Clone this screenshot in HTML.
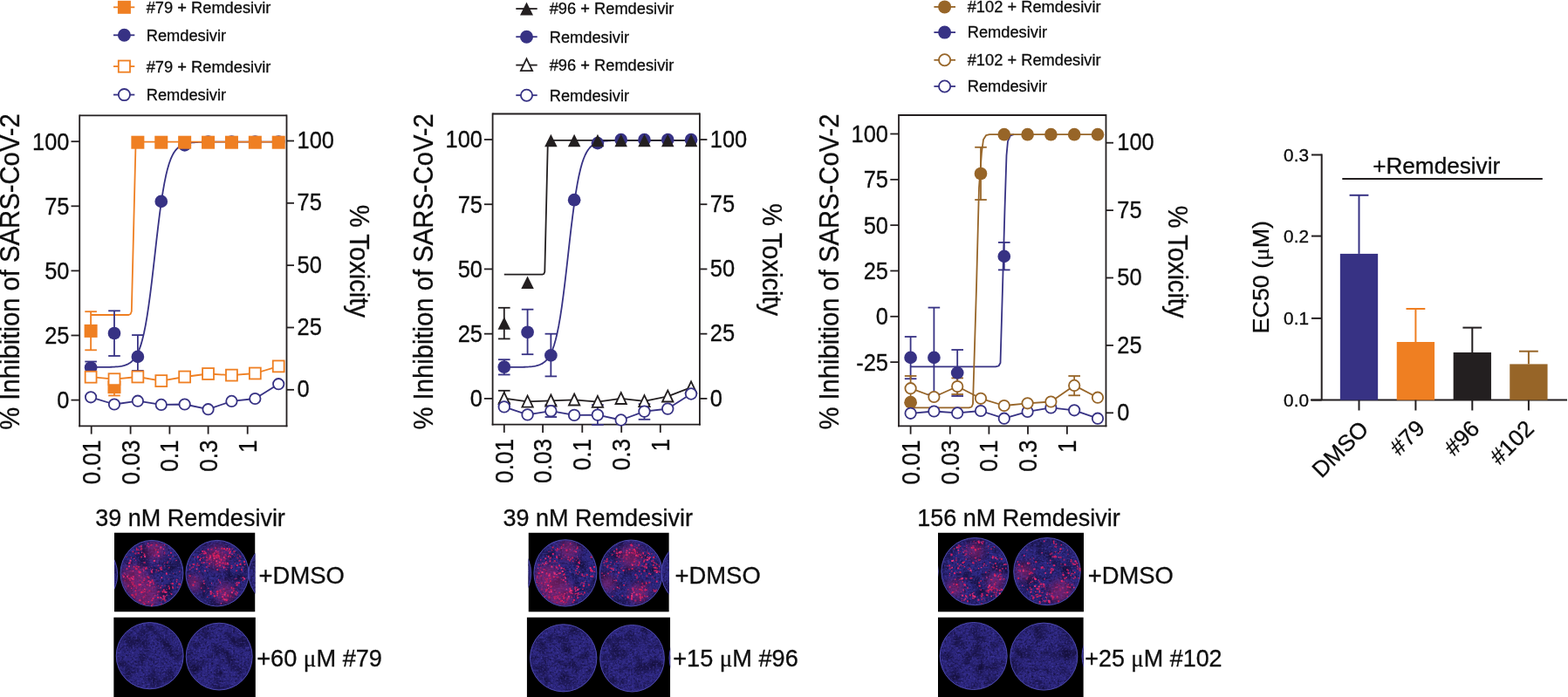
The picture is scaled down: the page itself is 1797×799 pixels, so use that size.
<!DOCTYPE html>
<html><head><meta charset="utf-8"><title>Figure</title>
<style>html,body{margin:0;padding:0;background:#fff;}svg{display:block;}</style>
</head><body>
<svg width="1797" height="799" viewBox="0 0 1797 799" font-family="'Liberation Sans', Arial, Helvetica, sans-serif">
<rect width="1797" height="799" fill="#fff"/>
<line x1="91.20" y1="132.30" x2="328.50" y2="132.30" stroke="#231F20" stroke-width="1.8"/>
<line x1="91.20" y1="131.40" x2="91.20" y2="489.20" stroke="#231F20" stroke-width="1.8"/>
<line x1="328.50" y1="131.40" x2="328.50" y2="489.20" stroke="#231F20" stroke-width="1.8"/>
<line x1="90.30" y1="488.30" x2="329.40" y2="488.30" stroke="#231F20" stroke-width="1.8"/>
<line x1="81.50" y1="458.60" x2="91.20" y2="458.60" stroke="#231F20" stroke-width="1.8"/>
<text x="79.50" y="468.00" font-size="27.2" text-anchor="end" fill="#0d0d0d" stroke="#0d0d0d" stroke-width="0.3" textLength="14.14" lengthAdjust="spacingAndGlyphs">0</text>
<line x1="81.50" y1="384.50" x2="91.20" y2="384.50" stroke="#231F20" stroke-width="1.8"/>
<text x="79.50" y="393.90" font-size="27.2" text-anchor="end" fill="#0d0d0d" stroke="#0d0d0d" stroke-width="0.3" textLength="28.28" lengthAdjust="spacingAndGlyphs">25</text>
<line x1="81.50" y1="310.40" x2="91.20" y2="310.40" stroke="#231F20" stroke-width="1.8"/>
<text x="79.50" y="319.80" font-size="27.2" text-anchor="end" fill="#0d0d0d" stroke="#0d0d0d" stroke-width="0.3" textLength="28.28" lengthAdjust="spacingAndGlyphs">50</text>
<line x1="81.50" y1="236.30" x2="91.20" y2="236.30" stroke="#231F20" stroke-width="1.8"/>
<text x="79.50" y="245.70" font-size="27.2" text-anchor="end" fill="#0d0d0d" stroke="#0d0d0d" stroke-width="0.3" textLength="28.28" lengthAdjust="spacingAndGlyphs">75</text>
<line x1="81.50" y1="162.20" x2="91.20" y2="162.20" stroke="#231F20" stroke-width="1.8"/>
<text x="79.50" y="171.60" font-size="27.2" text-anchor="end" fill="#0d0d0d" stroke="#0d0d0d" stroke-width="0.3" textLength="42.42" lengthAdjust="spacingAndGlyphs">100</text>
<line x1="328.50" y1="446.80" x2="337.00" y2="446.80" stroke="#231F20" stroke-width="1.8"/>
<text x="340.60" y="455.40" font-size="27.2" text-anchor="start" fill="#0d0d0d" stroke="#0d0d0d" stroke-width="0.3" textLength="14.14" lengthAdjust="spacingAndGlyphs">0</text>
<line x1="328.50" y1="375.48" x2="337.00" y2="375.48" stroke="#231F20" stroke-width="1.8"/>
<text x="340.60" y="384.08" font-size="27.2" text-anchor="start" fill="#0d0d0d" stroke="#0d0d0d" stroke-width="0.3" textLength="28.28" lengthAdjust="spacingAndGlyphs">25</text>
<line x1="328.50" y1="304.15" x2="337.00" y2="304.15" stroke="#231F20" stroke-width="1.8"/>
<text x="340.60" y="312.75" font-size="27.2" text-anchor="start" fill="#0d0d0d" stroke="#0d0d0d" stroke-width="0.3" textLength="28.28" lengthAdjust="spacingAndGlyphs">50</text>
<line x1="328.50" y1="232.82" x2="337.00" y2="232.82" stroke="#231F20" stroke-width="1.8"/>
<text x="340.60" y="241.42" font-size="27.2" text-anchor="start" fill="#0d0d0d" stroke="#0d0d0d" stroke-width="0.3" textLength="28.28" lengthAdjust="spacingAndGlyphs">75</text>
<line x1="328.50" y1="161.50" x2="337.00" y2="161.50" stroke="#231F20" stroke-width="1.8"/>
<text x="340.60" y="170.10" font-size="27.2" text-anchor="start" fill="#0d0d0d" stroke="#0d0d0d" stroke-width="0.3" textLength="42.42" lengthAdjust="spacingAndGlyphs">100</text>
<line x1="104.70" y1="488.30" x2="104.70" y2="497.60" stroke="#231F20" stroke-width="1.8"/>
<text x="114.70" y="504.30" font-size="29" text-anchor="end" fill="#0d0d0d" stroke="#0d0d0d" stroke-width="0.3" transform="rotate(-90 114.70 504.30)" textLength="51.07" lengthAdjust="spacingAndGlyphs">0.01</text>
<line x1="149.60" y1="488.30" x2="149.60" y2="497.60" stroke="#231F20" stroke-width="1.8"/>
<text x="159.60" y="504.30" font-size="29" text-anchor="end" fill="#0d0d0d" stroke="#0d0d0d" stroke-width="0.3" transform="rotate(-90 159.60 504.30)" textLength="51.07" lengthAdjust="spacingAndGlyphs">0.03</text>
<line x1="194.40" y1="488.30" x2="194.40" y2="497.60" stroke="#231F20" stroke-width="1.8"/>
<text x="204.40" y="504.30" font-size="29" text-anchor="end" fill="#0d0d0d" stroke="#0d0d0d" stroke-width="0.3" transform="rotate(-90 204.40 504.30)" textLength="36.48" lengthAdjust="spacingAndGlyphs">0.1</text>
<line x1="238.60" y1="488.30" x2="238.60" y2="497.60" stroke="#231F20" stroke-width="1.8"/>
<text x="248.60" y="504.30" font-size="29" text-anchor="end" fill="#0d0d0d" stroke="#0d0d0d" stroke-width="0.3" transform="rotate(-90 248.60 504.30)" textLength="36.48" lengthAdjust="spacingAndGlyphs">0.3</text>
<line x1="283.70" y1="488.30" x2="283.70" y2="497.60" stroke="#231F20" stroke-width="1.8"/>
<text x="293.70" y="504.30" font-size="29" text-anchor="end" fill="#0d0d0d" stroke="#0d0d0d" stroke-width="0.3" transform="rotate(-90 293.70 504.30)" textLength="14.59" lengthAdjust="spacingAndGlyphs">1</text>
<text x="22.20" y="311.50" font-size="30.6" text-anchor="middle" fill="#0d0d0d" stroke="#0d0d0d" stroke-width="0.3" transform="rotate(-90 22.20 311.50)" textLength="362.60" lengthAdjust="spacingAndGlyphs">% Inhibition of SARS-CoV-2</text>
<text x="400.60" y="299.40" font-size="30.6" text-anchor="middle" fill="#0d0d0d" stroke="#0d0d0d" stroke-width="0.3" transform="rotate(90 400.60 299.40)" textLength="129.40" lengthAdjust="spacingAndGlyphs">% Toxicity</text>
<line x1="130.00" y1="8.30" x2="154.30" y2="8.30" stroke="#EF7F22" stroke-width="1.8"/>
<rect x="134.90" y="0.80" width="15.00" height="15.00" fill="#EF7F22"/>
<text x="167.70" y="14.80" font-size="18.3" text-anchor="start" fill="#0d0d0d" stroke="#0d0d0d" stroke-width="0.3">#79 + Remdesivir</text>
<line x1="130.00" y1="40.30" x2="154.30" y2="40.30" stroke="#373284" stroke-width="1.8"/>
<circle cx="142.40" cy="40.30" r="7.50" fill="#373284"/>
<text x="167.70" y="46.70" font-size="18.3" text-anchor="start" fill="#0d0d0d" stroke="#0d0d0d" stroke-width="0.3">Remdesivir</text>
<line x1="130.00" y1="76.10" x2="154.30" y2="76.10" stroke="#EF7F22" stroke-width="1.8"/>
<rect x="135.80" y="69.50" width="13.20" height="13.20" fill="#fff" stroke="#EF7F22" stroke-width="1.8"/>
<text x="167.70" y="82.80" font-size="18.3" text-anchor="start" fill="#0d0d0d" stroke="#0d0d0d" stroke-width="0.3">#79 + Remdesivir</text>
<line x1="130.00" y1="108.60" x2="154.30" y2="108.60" stroke="#373284" stroke-width="1.8"/>
<circle cx="142.40" cy="108.60" r="6.60" fill="#fff" stroke="#373284" stroke-width="1.8"/>
<text x="167.70" y="115.10" font-size="18.3" text-anchor="start" fill="#0d0d0d" stroke="#0d0d0d" stroke-width="0.3">Remdesivir</text>
<polyline points="104.10,420.99 105.89,420.99 107.68,420.98 109.48,420.98 111.27,420.97 113.06,420.96 114.85,420.95 116.65,420.94 118.44,420.92 120.23,420.90 122.02,420.87 123.82,420.84 125.61,420.79 127.40,420.74 129.19,420.66 130.99,420.57 132.78,420.45 134.57,420.30 136.37,420.10 138.16,419.85 139.95,419.53 141.74,419.13 143.53,418.61 145.33,417.94 147.12,417.10 148.91,416.03 150.70,414.68 152.50,412.97 154.29,410.81 156.08,408.10 157.88,404.73 159.67,400.54 161.46,395.38 163.25,389.10 165.04,381.55 166.84,372.58 168.63,362.13 170.42,350.18 172.21,336.83 174.01,322.29 175.80,306.88 177.59,291.03 179.38,275.20 181.18,259.86 182.97,245.43 184.76,232.22 186.56,220.42 188.35,210.13 190.14,201.31 191.93,193.89 193.72,187.74 195.52,182.69 197.31,178.59 199.10,175.29 200.89,172.64 202.69,170.54 204.48,168.86 206.27,167.54 208.06,166.50 209.86,165.68 211.65,165.03 213.44,164.53 215.23,164.13 217.03,163.82 218.82,163.58 220.61,163.38 222.41,163.24 224.20,163.12 225.99,163.03 227.78,162.96 229.57,162.90 231.37,162.86 233.16,162.82 234.95,162.80 236.75,162.77 238.54,162.76 240.33,162.75 242.12,162.74 243.91,162.73 245.71,162.72 247.50,162.72 249.29,162.71 251.09,162.71 252.88,162.71 254.67,162.71 256.46,162.70 258.25,162.70 260.05,162.70 261.84,162.70 263.63,162.70 265.42,162.70 267.22,162.70 269.01,162.70 270.80,162.70 272.59,162.70 274.39,162.70 276.18,162.70 277.97,162.70 279.76,162.70 281.56,162.70 283.35,162.70 285.14,162.70 286.94,162.70 288.73,162.70 290.52,162.70 292.31,162.70 294.11,162.70 295.90,162.70 297.69,162.70 299.48,162.70 301.27,162.70 303.07,162.70 304.86,162.70 306.65,162.70 308.44,162.70 310.24,162.70 312.03,162.70 313.82,162.70 315.62,162.70 317.41,162.70 319.20,162.70" fill="none" stroke="#373284" stroke-width="1.8" stroke-linejoin="round"/>
<polyline points="104.10,361.00 147.50,361.00 149.60,360.00 150.80,357.00 155.50,166.00 156.80,163.20 158.50,162.70 319.20,162.70" fill="none" stroke="#EF7F22" stroke-width="1.8" stroke-linejoin="round"/>
<polyline points="104.10,455.30 130.99,463.50 157.88,459.70 184.77,463.90 211.66,463.50 238.55,469.20 265.44,459.90 292.33,457.00 319.22,440.20" fill="none" stroke="#373284" stroke-width="1.8" stroke-linejoin="round"/>
<polyline points="104.10,432.20 130.99,434.70 157.88,432.00 184.77,436.60 211.66,432.00 238.55,428.50 265.44,430.10 292.33,428.00 319.22,419.90" fill="none" stroke="#EF7F22" stroke-width="1.8" stroke-linejoin="round"/>
<line x1="104.10" y1="357.20" x2="104.10" y2="401.30" stroke="#EF7F22" stroke-width="1.8"/>
<line x1="97.30" y1="357.20" x2="110.90" y2="357.20" stroke="#EF7F22" stroke-width="1.8"/>
<line x1="97.30" y1="401.30" x2="110.90" y2="401.30" stroke="#EF7F22" stroke-width="1.8"/>
<line x1="130.99" y1="356.30" x2="130.99" y2="408.00" stroke="#373284" stroke-width="1.8"/>
<line x1="124.19" y1="356.30" x2="137.79" y2="356.30" stroke="#373284" stroke-width="1.8"/>
<line x1="124.19" y1="408.00" x2="137.79" y2="408.00" stroke="#373284" stroke-width="1.8"/>
<line x1="157.88" y1="384.10" x2="157.88" y2="425.00" stroke="#373284" stroke-width="1.8"/>
<line x1="151.08" y1="384.10" x2="164.68" y2="384.10" stroke="#373284" stroke-width="1.8"/>
<line x1="151.08" y1="425.00" x2="164.68" y2="425.00" stroke="#373284" stroke-width="1.8"/>
<line x1="104.10" y1="414.50" x2="104.10" y2="428.00" stroke="#373284" stroke-width="1.8"/>
<line x1="97.30" y1="414.50" x2="110.90" y2="414.50" stroke="#373284" stroke-width="1.8"/>
<line x1="97.30" y1="428.00" x2="110.90" y2="428.00" stroke="#373284" stroke-width="1.8"/>
<line x1="130.99" y1="443.00" x2="130.99" y2="453.50" stroke="#EF7F22" stroke-width="1.8"/>
<line x1="124.19" y1="443.00" x2="137.79" y2="443.00" stroke="#EF7F22" stroke-width="1.8"/>
<line x1="124.19" y1="453.50" x2="137.79" y2="453.50" stroke="#EF7F22" stroke-width="1.8"/>
<rect x="96.60" y="371.90" width="15.00" height="15.00" fill="#EF7F22"/>
<rect x="123.49" y="436.20" width="15.00" height="15.00" fill="#EF7F22"/>
<circle cx="104.10" cy="421.50" r="7.35" fill="#373284"/>
<circle cx="130.99" cy="382.00" r="7.35" fill="#373284"/>
<circle cx="157.88" cy="408.90" r="7.35" fill="#373284"/>
<circle cx="184.77" cy="230.90" r="7.35" fill="#373284"/>
<circle cx="211.66" cy="166.30" r="7.35" fill="#373284"/>
<circle cx="238.55" cy="162.50" r="7.35" fill="#373284"/>
<circle cx="265.44" cy="162.50" r="7.35" fill="#373284"/>
<circle cx="292.33" cy="162.50" r="7.35" fill="#373284"/>
<circle cx="319.22" cy="162.50" r="7.35" fill="#373284"/>
<rect x="150.38" y="155.70" width="15.00" height="15.00" fill="#EF7F22"/>
<rect x="177.27" y="155.70" width="15.00" height="15.00" fill="#EF7F22"/>
<rect x="204.16" y="155.70" width="15.00" height="15.00" fill="#EF7F22"/>
<rect x="231.05" y="155.70" width="15.00" height="15.00" fill="#EF7F22"/>
<rect x="257.94" y="155.70" width="15.00" height="15.00" fill="#EF7F22"/>
<rect x="284.83" y="155.70" width="15.00" height="15.00" fill="#EF7F22"/>
<rect x="311.72" y="155.70" width="15.00" height="15.00" fill="#EF7F22"/>
<rect x="97.65" y="425.75" width="12.90" height="12.90" fill="#fff" stroke="#EF7F22" stroke-width="1.8"/>
<rect x="124.54" y="428.25" width="12.90" height="12.90" fill="#fff" stroke="#EF7F22" stroke-width="1.8"/>
<rect x="151.43" y="425.55" width="12.90" height="12.90" fill="#fff" stroke="#EF7F22" stroke-width="1.8"/>
<rect x="178.32" y="430.15" width="12.90" height="12.90" fill="#fff" stroke="#EF7F22" stroke-width="1.8"/>
<rect x="205.21" y="425.55" width="12.90" height="12.90" fill="#fff" stroke="#EF7F22" stroke-width="1.8"/>
<rect x="232.10" y="422.05" width="12.90" height="12.90" fill="#fff" stroke="#EF7F22" stroke-width="1.8"/>
<rect x="258.99" y="423.65" width="12.90" height="12.90" fill="#fff" stroke="#EF7F22" stroke-width="1.8"/>
<rect x="285.88" y="421.55" width="12.90" height="12.90" fill="#fff" stroke="#EF7F22" stroke-width="1.8"/>
<rect x="312.77" y="413.45" width="12.90" height="12.90" fill="#fff" stroke="#EF7F22" stroke-width="1.8"/>
<circle cx="104.10" cy="455.30" r="6.20" fill="#fff" stroke="#373284" stroke-width="1.8"/>
<circle cx="130.99" cy="463.50" r="6.20" fill="#fff" stroke="#373284" stroke-width="1.8"/>
<circle cx="157.88" cy="459.70" r="6.20" fill="#fff" stroke="#373284" stroke-width="1.8"/>
<circle cx="184.77" cy="463.90" r="6.20" fill="#fff" stroke="#373284" stroke-width="1.8"/>
<circle cx="211.66" cy="463.50" r="6.20" fill="#fff" stroke="#373284" stroke-width="1.8"/>
<circle cx="238.55" cy="469.20" r="6.20" fill="#fff" stroke="#373284" stroke-width="1.8"/>
<circle cx="265.44" cy="459.90" r="6.20" fill="#fff" stroke="#373284" stroke-width="1.8"/>
<circle cx="292.33" cy="457.00" r="6.20" fill="#fff" stroke="#373284" stroke-width="1.8"/>
<circle cx="319.22" cy="440.20" r="6.20" fill="#fff" stroke="#373284" stroke-width="1.8"/>
<line x1="564.60" y1="130.50" x2="801.90" y2="130.50" stroke="#231F20" stroke-width="1.8"/>
<line x1="564.60" y1="129.60" x2="564.60" y2="487.50" stroke="#231F20" stroke-width="1.8"/>
<line x1="801.90" y1="129.60" x2="801.90" y2="487.50" stroke="#231F20" stroke-width="1.8"/>
<line x1="563.70" y1="486.60" x2="802.80" y2="486.60" stroke="#231F20" stroke-width="1.8"/>
<line x1="554.90" y1="456.90" x2="564.60" y2="456.90" stroke="#231F20" stroke-width="1.8"/>
<text x="553.00" y="466.30" font-size="27.2" text-anchor="end" fill="#0d0d0d" stroke="#0d0d0d" stroke-width="0.3" textLength="14.14" lengthAdjust="spacingAndGlyphs">0</text>
<line x1="554.90" y1="382.67" x2="564.60" y2="382.67" stroke="#231F20" stroke-width="1.8"/>
<text x="553.00" y="392.07" font-size="27.2" text-anchor="end" fill="#0d0d0d" stroke="#0d0d0d" stroke-width="0.3" textLength="28.28" lengthAdjust="spacingAndGlyphs">25</text>
<line x1="554.90" y1="308.45" x2="564.60" y2="308.45" stroke="#231F20" stroke-width="1.8"/>
<text x="553.00" y="317.85" font-size="27.2" text-anchor="end" fill="#0d0d0d" stroke="#0d0d0d" stroke-width="0.3" textLength="28.28" lengthAdjust="spacingAndGlyphs">50</text>
<line x1="554.90" y1="234.22" x2="564.60" y2="234.22" stroke="#231F20" stroke-width="1.8"/>
<text x="553.00" y="243.62" font-size="27.2" text-anchor="end" fill="#0d0d0d" stroke="#0d0d0d" stroke-width="0.3" textLength="28.28" lengthAdjust="spacingAndGlyphs">75</text>
<line x1="554.90" y1="160.00" x2="564.60" y2="160.00" stroke="#231F20" stroke-width="1.8"/>
<text x="553.00" y="169.40" font-size="27.2" text-anchor="end" fill="#0d0d0d" stroke="#0d0d0d" stroke-width="0.3" textLength="42.42" lengthAdjust="spacingAndGlyphs">100</text>
<line x1="801.90" y1="456.90" x2="810.40" y2="456.90" stroke="#231F20" stroke-width="1.8"/>
<text x="813.80" y="465.50" font-size="27.2" text-anchor="start" fill="#0d0d0d" stroke="#0d0d0d" stroke-width="0.3" textLength="14.14" lengthAdjust="spacingAndGlyphs">0</text>
<line x1="801.90" y1="382.67" x2="810.40" y2="382.67" stroke="#231F20" stroke-width="1.8"/>
<text x="813.80" y="391.27" font-size="27.2" text-anchor="start" fill="#0d0d0d" stroke="#0d0d0d" stroke-width="0.3" textLength="28.28" lengthAdjust="spacingAndGlyphs">25</text>
<line x1="801.90" y1="308.45" x2="810.40" y2="308.45" stroke="#231F20" stroke-width="1.8"/>
<text x="813.80" y="317.05" font-size="27.2" text-anchor="start" fill="#0d0d0d" stroke="#0d0d0d" stroke-width="0.3" textLength="28.28" lengthAdjust="spacingAndGlyphs">50</text>
<line x1="801.90" y1="234.22" x2="810.40" y2="234.22" stroke="#231F20" stroke-width="1.8"/>
<text x="813.80" y="242.82" font-size="27.2" text-anchor="start" fill="#0d0d0d" stroke="#0d0d0d" stroke-width="0.3" textLength="28.28" lengthAdjust="spacingAndGlyphs">75</text>
<line x1="801.90" y1="160.00" x2="810.40" y2="160.00" stroke="#231F20" stroke-width="1.8"/>
<text x="813.80" y="168.60" font-size="27.2" text-anchor="start" fill="#0d0d0d" stroke="#0d0d0d" stroke-width="0.3" textLength="42.42" lengthAdjust="spacingAndGlyphs">100</text>
<line x1="577.80" y1="486.60" x2="577.80" y2="495.90" stroke="#231F20" stroke-width="1.8"/>
<text x="587.80" y="502.80" font-size="29" text-anchor="end" fill="#0d0d0d" stroke="#0d0d0d" stroke-width="0.3" transform="rotate(-90 587.80 502.80)" textLength="51.07" lengthAdjust="spacingAndGlyphs">0.01</text>
<line x1="622.10" y1="486.60" x2="622.10" y2="495.90" stroke="#231F20" stroke-width="1.8"/>
<text x="632.10" y="502.80" font-size="29" text-anchor="end" fill="#0d0d0d" stroke="#0d0d0d" stroke-width="0.3" transform="rotate(-90 632.10 502.80)" textLength="51.07" lengthAdjust="spacingAndGlyphs">0.03</text>
<line x1="667.30" y1="486.60" x2="667.30" y2="495.90" stroke="#231F20" stroke-width="1.8"/>
<text x="677.30" y="502.80" font-size="29" text-anchor="end" fill="#0d0d0d" stroke="#0d0d0d" stroke-width="0.3" transform="rotate(-90 677.30 502.80)" textLength="36.48" lengthAdjust="spacingAndGlyphs">0.1</text>
<line x1="712.20" y1="486.60" x2="712.20" y2="495.90" stroke="#231F20" stroke-width="1.8"/>
<text x="722.20" y="502.80" font-size="29" text-anchor="end" fill="#0d0d0d" stroke="#0d0d0d" stroke-width="0.3" transform="rotate(-90 722.20 502.80)" textLength="36.48" lengthAdjust="spacingAndGlyphs">0.3</text>
<line x1="756.80" y1="486.60" x2="756.80" y2="495.90" stroke="#231F20" stroke-width="1.8"/>
<text x="766.80" y="502.80" font-size="29" text-anchor="end" fill="#0d0d0d" stroke="#0d0d0d" stroke-width="0.3" transform="rotate(-90 766.80 502.80)" textLength="14.59" lengthAdjust="spacingAndGlyphs">1</text>
<text x="495.70" y="311.40" font-size="30.6" text-anchor="middle" fill="#0d0d0d" stroke="#0d0d0d" stroke-width="0.3" transform="rotate(-90 495.70 311.40)" textLength="362.40" lengthAdjust="spacingAndGlyphs">% Inhibition of SARS-CoV-2</text>
<text x="873.60" y="297.70" font-size="30.6" text-anchor="middle" fill="#0d0d0d" stroke="#0d0d0d" stroke-width="0.3" transform="rotate(90 873.60 297.70)" textLength="128.80" lengthAdjust="spacingAndGlyphs">% Toxicity</text>
<line x1="591.30" y1="10.00" x2="615.70" y2="10.00" stroke="#231F20" stroke-width="1.8"/>
<polygon points="603.50,2.50 611.00,17.50 596.00,17.50" fill="#231F20"/>
<text x="629.70" y="16.40" font-size="18.3" text-anchor="start" fill="#0d0d0d" stroke="#0d0d0d" stroke-width="0.3">#96 + Remdesivir</text>
<line x1="591.30" y1="42.20" x2="615.70" y2="42.20" stroke="#373284" stroke-width="1.8"/>
<circle cx="603.50" cy="42.20" r="7.50" fill="#373284"/>
<text x="629.70" y="48.50" font-size="18.3" text-anchor="start" fill="#0d0d0d" stroke="#0d0d0d" stroke-width="0.3">Remdesivir</text>
<line x1="591.30" y1="74.60" x2="615.70" y2="74.60" stroke="#231F20" stroke-width="1.8"/>
<polygon points="603.50,67.40 610.10,81.20 596.90,81.20" fill="#fff" stroke="#231F20" stroke-width="1.8" stroke-linejoin="miter"/>
<text x="629.70" y="81.40" font-size="18.3" text-anchor="start" fill="#0d0d0d" stroke="#0d0d0d" stroke-width="0.3">#96 + Remdesivir</text>
<line x1="591.30" y1="109.20" x2="615.70" y2="109.20" stroke="#373284" stroke-width="1.8"/>
<circle cx="603.50" cy="109.20" r="6.60" fill="#fff" stroke="#373284" stroke-width="1.8"/>
<text x="629.70" y="115.80" font-size="18.3" text-anchor="start" fill="#0d0d0d" stroke="#0d0d0d" stroke-width="0.3">Remdesivir</text>
<polyline points="577.80,420.99 579.58,420.99 581.37,420.98 583.15,420.98 584.94,420.97 586.72,420.96 588.51,420.95 590.29,420.94 592.08,420.92 593.87,420.90 595.65,420.88 597.43,420.84 599.22,420.80 601.00,420.74 602.79,420.67 604.57,420.57 606.36,420.46 608.14,420.31 609.93,420.11 611.71,419.87 613.50,419.55 615.28,419.15 617.07,418.64 618.86,417.99 620.64,417.17 622.42,416.13 624.21,414.80 626.00,413.13 627.78,411.02 629.56,408.38 631.35,405.08 633.13,400.99 634.92,395.96 636.70,389.83 638.49,382.44 640.27,373.66 642.06,363.40 643.85,351.64 645.63,338.47 647.41,324.06 649.20,308.73 650.99,292.87 652.77,276.96 654.55,261.46 656.34,246.80 658.12,233.30 659.91,221.20 661.69,210.58 663.48,201.45 665.26,193.73 667.05,187.31 668.84,182.03 670.62,177.73 672.40,174.25 674.19,171.46 675.97,169.24 677.76,167.47 679.54,166.07 681.33,164.96 683.12,164.09 684.90,163.40 686.68,162.86 688.47,162.44 690.25,162.10 692.04,161.84 693.83,161.64 695.61,161.48 697.39,161.35 699.18,161.25 700.96,161.18 702.75,161.12 704.53,161.07 706.32,161.03 708.11,161.00 709.89,160.98 711.67,160.96 713.46,160.95 715.25,160.94 717.03,160.93 718.81,160.92 720.60,160.92 722.38,160.91 724.17,160.91 725.95,160.91 727.74,160.91 729.52,160.91 731.31,160.90 733.10,160.90 734.88,160.90 736.66,160.90 738.45,160.90 740.24,160.90 742.02,160.90 743.81,160.90 745.59,160.90 747.38,160.90 749.16,160.90 750.94,160.90 752.73,160.90 754.51,160.90 756.30,160.90 758.09,160.90 759.87,160.90 761.65,160.90 763.44,160.90 765.23,160.90 767.01,160.90 768.79,160.90 770.58,160.90 772.37,160.90 774.15,160.90 775.93,160.90 777.72,160.90 779.50,160.90 781.29,160.90 783.08,160.90 784.86,160.90 786.64,160.90 788.43,160.90 790.22,160.90 792.00,160.90" fill="none" stroke="#373284" stroke-width="1.8" stroke-linejoin="round"/>
<polyline points="577.80,314.70 621.50,314.70 623.30,314.00 624.30,311.50 627.80,164.00 629.00,161.30 631.00,160.90 792.00,160.90" fill="none" stroke="#231F20" stroke-width="1.8" stroke-linejoin="round"/>
<polyline points="577.80,466.40 604.58,475.40 631.36,471.10 658.14,475.90 684.92,475.60 711.70,481.50 738.48,471.60 765.26,468.60 792.04,451.50" fill="none" stroke="#373284" stroke-width="1.8" stroke-linejoin="round"/>
<polyline points="577.80,456.60 604.58,460.40 631.36,459.30 658.14,458.30 684.92,460.70 711.70,456.80 738.48,459.90 765.26,454.30 792.04,444.20" fill="none" stroke="#231F20" stroke-width="1.8" stroke-linejoin="round"/>
<line x1="577.80" y1="352.80" x2="577.80" y2="388.40" stroke="#231F20" stroke-width="1.8"/>
<line x1="571.00" y1="352.80" x2="584.60" y2="352.80" stroke="#231F20" stroke-width="1.8"/>
<line x1="571.00" y1="388.40" x2="584.60" y2="388.40" stroke="#231F20" stroke-width="1.8"/>
<line x1="604.58" y1="354.70" x2="604.58" y2="406.20" stroke="#373284" stroke-width="1.8"/>
<line x1="597.78" y1="354.70" x2="611.38" y2="354.70" stroke="#373284" stroke-width="1.8"/>
<line x1="597.78" y1="406.20" x2="611.38" y2="406.20" stroke="#373284" stroke-width="1.8"/>
<line x1="631.36" y1="382.70" x2="631.36" y2="431.40" stroke="#373284" stroke-width="1.8"/>
<line x1="624.56" y1="382.70" x2="638.16" y2="382.70" stroke="#373284" stroke-width="1.8"/>
<line x1="624.56" y1="431.40" x2="638.16" y2="431.40" stroke="#373284" stroke-width="1.8"/>
<line x1="577.80" y1="412.20" x2="577.80" y2="429.50" stroke="#373284" stroke-width="1.8"/>
<line x1="571.00" y1="412.20" x2="584.60" y2="412.20" stroke="#373284" stroke-width="1.8"/>
<line x1="571.00" y1="429.50" x2="584.60" y2="429.50" stroke="#373284" stroke-width="1.8"/>
<line x1="577.80" y1="447.80" x2="577.80" y2="462.00" stroke="#231F20" stroke-width="1.8"/>
<line x1="571.00" y1="447.80" x2="584.60" y2="447.80" stroke="#231F20" stroke-width="1.8"/>
<line x1="571.00" y1="462.00" x2="584.60" y2="462.00" stroke="#231F20" stroke-width="1.8"/>
<line x1="684.92" y1="464.10" x2="684.92" y2="486.90" stroke="#373284" stroke-width="1.8"/>
<line x1="678.12" y1="464.10" x2="691.72" y2="464.10" stroke="#373284" stroke-width="1.8"/>
<line x1="678.12" y1="486.90" x2="691.72" y2="486.90" stroke="#373284" stroke-width="1.8"/>
<line x1="738.48" y1="463.20" x2="738.48" y2="480.80" stroke="#373284" stroke-width="1.8"/>
<line x1="731.68" y1="463.20" x2="745.28" y2="463.20" stroke="#373284" stroke-width="1.8"/>
<line x1="731.68" y1="480.80" x2="745.28" y2="480.80" stroke="#373284" stroke-width="1.8"/>
<line x1="631.36" y1="464.00" x2="631.36" y2="478.00" stroke="#373284" stroke-width="1.8"/>
<line x1="624.56" y1="464.00" x2="638.16" y2="464.00" stroke="#373284" stroke-width="1.8"/>
<line x1="624.56" y1="478.00" x2="638.16" y2="478.00" stroke="#373284" stroke-width="1.8"/>
<circle cx="577.80" cy="420.70" r="7.35" fill="#373284"/>
<circle cx="604.58" cy="380.80" r="7.35" fill="#373284"/>
<circle cx="631.36" cy="407.40" r="7.35" fill="#373284"/>
<circle cx="658.14" cy="229.20" r="7.35" fill="#373284"/>
<circle cx="684.92" cy="164.10" r="7.35" fill="#373284"/>
<circle cx="711.70" cy="160.20" r="7.35" fill="#373284"/>
<circle cx="738.48" cy="160.20" r="7.35" fill="#373284"/>
<circle cx="765.26" cy="160.20" r="7.35" fill="#373284"/>
<circle cx="792.04" cy="160.20" r="7.35" fill="#373284"/>
<polygon points="577.80,363.25 585.05,377.75 570.55,377.75" fill="#231F20"/>
<polygon points="604.58,316.55 611.83,331.05 597.33,331.05" fill="#231F20"/>
<polygon points="631.36,153.75 638.61,168.25 624.11,168.25" fill="#231F20"/>
<polygon points="658.14,153.75 665.39,168.25 650.89,168.25" fill="#231F20"/>
<polygon points="684.92,153.75 692.17,168.25 677.67,168.25" fill="#231F20"/>
<polygon points="711.70,153.75 718.95,168.25 704.45,168.25" fill="#231F20"/>
<polygon points="738.48,153.75 745.73,168.25 731.23,168.25" fill="#231F20"/>
<polygon points="765.26,153.75 772.51,168.25 758.01,168.25" fill="#231F20"/>
<polygon points="792.04,153.75 799.29,168.25 784.79,168.25" fill="#231F20"/>
<polygon points="577.80,449.80 584.00,462.80 571.60,462.80" fill="#fff" stroke="#231F20" stroke-width="1.8" stroke-linejoin="miter"/>
<polygon points="604.58,453.60 610.78,466.60 598.38,466.60" fill="#fff" stroke="#231F20" stroke-width="1.8" stroke-linejoin="miter"/>
<polygon points="631.36,452.50 637.56,465.50 625.16,465.50" fill="#fff" stroke="#231F20" stroke-width="1.8" stroke-linejoin="miter"/>
<polygon points="658.14,451.50 664.34,464.50 651.94,464.50" fill="#fff" stroke="#231F20" stroke-width="1.8" stroke-linejoin="miter"/>
<polygon points="684.92,453.90 691.12,466.90 678.72,466.90" fill="#fff" stroke="#231F20" stroke-width="1.8" stroke-linejoin="miter"/>
<polygon points="711.70,450.00 717.90,463.00 705.50,463.00" fill="#fff" stroke="#231F20" stroke-width="1.8" stroke-linejoin="miter"/>
<polygon points="738.48,453.10 744.68,466.10 732.28,466.10" fill="#fff" stroke="#231F20" stroke-width="1.8" stroke-linejoin="miter"/>
<polygon points="765.26,447.50 771.46,460.50 759.06,460.50" fill="#fff" stroke="#231F20" stroke-width="1.8" stroke-linejoin="miter"/>
<polygon points="792.04,437.40 798.24,450.40 785.84,450.40" fill="#fff" stroke="#231F20" stroke-width="1.8" stroke-linejoin="miter"/>
<circle cx="577.80" cy="466.40" r="6.30" fill="#fff" stroke="#373284" stroke-width="1.8"/>
<circle cx="604.58" cy="475.40" r="6.30" fill="#fff" stroke="#373284" stroke-width="1.8"/>
<circle cx="631.36" cy="471.10" r="6.30" fill="#fff" stroke="#373284" stroke-width="1.8"/>
<circle cx="658.14" cy="475.90" r="6.30" fill="#fff" stroke="#373284" stroke-width="1.8"/>
<circle cx="684.92" cy="475.60" r="6.30" fill="#fff" stroke="#373284" stroke-width="1.8"/>
<circle cx="711.70" cy="481.50" r="6.30" fill="#fff" stroke="#373284" stroke-width="1.8"/>
<circle cx="738.48" cy="471.60" r="6.30" fill="#fff" stroke="#373284" stroke-width="1.8"/>
<circle cx="765.26" cy="468.60" r="6.30" fill="#fff" stroke="#373284" stroke-width="1.8"/>
<circle cx="792.04" cy="451.50" r="6.30" fill="#fff" stroke="#373284" stroke-width="1.8"/>
<line x1="1030.00" y1="132.00" x2="1267.50" y2="132.00" stroke="#231F20" stroke-width="1.8"/>
<line x1="1030.00" y1="131.10" x2="1030.00" y2="489.30" stroke="#231F20" stroke-width="1.8"/>
<line x1="1267.50" y1="131.10" x2="1267.50" y2="489.30" stroke="#231F20" stroke-width="1.8"/>
<line x1="1029.10" y1="488.40" x2="1268.40" y2="488.40" stroke="#231F20" stroke-width="1.8"/>
<line x1="1020.30" y1="415.12" x2="1030.00" y2="415.12" stroke="#231F20" stroke-width="1.8"/>
<text x="1018.00" y="424.52" font-size="27.2" text-anchor="end" fill="#0d0d0d" stroke="#0d0d0d" stroke-width="0.3" textLength="36.75" lengthAdjust="spacingAndGlyphs">-25</text>
<line x1="1020.30" y1="362.80" x2="1030.00" y2="362.80" stroke="#231F20" stroke-width="1.8"/>
<text x="1018.00" y="372.20" font-size="27.2" text-anchor="end" fill="#0d0d0d" stroke="#0d0d0d" stroke-width="0.3" textLength="14.14" lengthAdjust="spacingAndGlyphs">0</text>
<line x1="1020.30" y1="310.48" x2="1030.00" y2="310.48" stroke="#231F20" stroke-width="1.8"/>
<text x="1018.00" y="319.88" font-size="27.2" text-anchor="end" fill="#0d0d0d" stroke="#0d0d0d" stroke-width="0.3" textLength="28.28" lengthAdjust="spacingAndGlyphs">25</text>
<line x1="1020.30" y1="258.15" x2="1030.00" y2="258.15" stroke="#231F20" stroke-width="1.8"/>
<text x="1018.00" y="267.55" font-size="27.2" text-anchor="end" fill="#0d0d0d" stroke="#0d0d0d" stroke-width="0.3" textLength="28.28" lengthAdjust="spacingAndGlyphs">50</text>
<line x1="1020.30" y1="205.83" x2="1030.00" y2="205.83" stroke="#231F20" stroke-width="1.8"/>
<text x="1018.00" y="215.23" font-size="27.2" text-anchor="end" fill="#0d0d0d" stroke="#0d0d0d" stroke-width="0.3" textLength="28.28" lengthAdjust="spacingAndGlyphs">75</text>
<line x1="1020.30" y1="153.50" x2="1030.00" y2="153.50" stroke="#231F20" stroke-width="1.8"/>
<text x="1018.00" y="162.90" font-size="27.2" text-anchor="end" fill="#0d0d0d" stroke="#0d0d0d" stroke-width="0.3" textLength="42.42" lengthAdjust="spacingAndGlyphs">100</text>
<line x1="1267.50" y1="473.30" x2="1276.00" y2="473.30" stroke="#231F20" stroke-width="1.8"/>
<text x="1280.30" y="481.90" font-size="27.2" text-anchor="start" fill="#0d0d0d" stroke="#0d0d0d" stroke-width="0.3" textLength="14.14" lengthAdjust="spacingAndGlyphs">0</text>
<line x1="1267.50" y1="395.90" x2="1276.00" y2="395.90" stroke="#231F20" stroke-width="1.8"/>
<text x="1280.30" y="404.50" font-size="27.2" text-anchor="start" fill="#0d0d0d" stroke="#0d0d0d" stroke-width="0.3" textLength="28.28" lengthAdjust="spacingAndGlyphs">25</text>
<line x1="1267.50" y1="318.50" x2="1276.00" y2="318.50" stroke="#231F20" stroke-width="1.8"/>
<text x="1280.30" y="327.10" font-size="27.2" text-anchor="start" fill="#0d0d0d" stroke="#0d0d0d" stroke-width="0.3" textLength="28.28" lengthAdjust="spacingAndGlyphs">50</text>
<line x1="1267.50" y1="241.10" x2="1276.00" y2="241.10" stroke="#231F20" stroke-width="1.8"/>
<text x="1280.30" y="249.70" font-size="27.2" text-anchor="start" fill="#0d0d0d" stroke="#0d0d0d" stroke-width="0.3" textLength="28.28" lengthAdjust="spacingAndGlyphs">75</text>
<line x1="1267.50" y1="163.70" x2="1276.00" y2="163.70" stroke="#231F20" stroke-width="1.8"/>
<text x="1280.30" y="172.30" font-size="27.2" text-anchor="start" fill="#0d0d0d" stroke="#0d0d0d" stroke-width="0.3" textLength="42.42" lengthAdjust="spacingAndGlyphs">100</text>
<line x1="1043.60" y1="488.40" x2="1043.60" y2="497.70" stroke="#231F20" stroke-width="1.8"/>
<text x="1053.60" y="504.30" font-size="29" text-anchor="end" fill="#0d0d0d" stroke="#0d0d0d" stroke-width="0.3" transform="rotate(-90 1053.60 504.30)" textLength="51.07" lengthAdjust="spacingAndGlyphs">0.01</text>
<line x1="1088.80" y1="488.40" x2="1088.80" y2="497.70" stroke="#231F20" stroke-width="1.8"/>
<text x="1098.80" y="504.30" font-size="29" text-anchor="end" fill="#0d0d0d" stroke="#0d0d0d" stroke-width="0.3" transform="rotate(-90 1098.80 504.30)" textLength="51.07" lengthAdjust="spacingAndGlyphs">0.03</text>
<line x1="1133.40" y1="488.40" x2="1133.40" y2="497.70" stroke="#231F20" stroke-width="1.8"/>
<text x="1143.40" y="504.30" font-size="29" text-anchor="end" fill="#0d0d0d" stroke="#0d0d0d" stroke-width="0.3" transform="rotate(-90 1143.40 504.30)" textLength="36.48" lengthAdjust="spacingAndGlyphs">0.1</text>
<line x1="1178.00" y1="488.40" x2="1178.00" y2="497.70" stroke="#231F20" stroke-width="1.8"/>
<text x="1188.00" y="504.30" font-size="29" text-anchor="end" fill="#0d0d0d" stroke="#0d0d0d" stroke-width="0.3" transform="rotate(-90 1188.00 504.30)" textLength="36.48" lengthAdjust="spacingAndGlyphs">0.3</text>
<line x1="1222.90" y1="488.40" x2="1222.90" y2="497.70" stroke="#231F20" stroke-width="1.8"/>
<text x="1232.90" y="504.30" font-size="29" text-anchor="end" fill="#0d0d0d" stroke="#0d0d0d" stroke-width="0.3" transform="rotate(-90 1232.90 504.30)" textLength="14.59" lengthAdjust="spacingAndGlyphs">1</text>
<text x="961.50" y="311.55" font-size="30.6" text-anchor="middle" fill="#0d0d0d" stroke="#0d0d0d" stroke-width="0.3" transform="rotate(-90 961.50 311.55)" textLength="362.10" lengthAdjust="spacingAndGlyphs">% Inhibition of SARS-CoV-2</text>
<text x="1339.00" y="300.10" font-size="30.6" text-anchor="middle" fill="#0d0d0d" stroke="#0d0d0d" stroke-width="0.3" transform="rotate(90 1339.00 300.10)" textLength="128.80" lengthAdjust="spacingAndGlyphs">% Toxicity</text>
<line x1="1070.40" y1="7.90" x2="1095.00" y2="7.90" stroke="#976528" stroke-width="1.8"/>
<circle cx="1082.60" cy="7.90" r="7.50" fill="#976528"/>
<text x="1108.70" y="14.40" font-size="18.3" text-anchor="start" fill="#0d0d0d" stroke="#0d0d0d" stroke-width="0.3">#102 + Remdesivir</text>
<line x1="1070.40" y1="37.10" x2="1095.00" y2="37.10" stroke="#373284" stroke-width="1.8"/>
<circle cx="1082.60" cy="37.10" r="7.50" fill="#373284"/>
<text x="1108.70" y="43.20" font-size="18.3" text-anchor="start" fill="#0d0d0d" stroke="#0d0d0d" stroke-width="0.3">Remdesivir</text>
<line x1="1070.40" y1="68.80" x2="1095.00" y2="68.80" stroke="#976528" stroke-width="1.8"/>
<circle cx="1082.60" cy="68.80" r="6.60" fill="#fff" stroke="#976528" stroke-width="1.8"/>
<text x="1108.70" y="75.10" font-size="18.3" text-anchor="start" fill="#0d0d0d" stroke="#0d0d0d" stroke-width="0.3">#102 + Remdesivir</text>
<line x1="1070.40" y1="99.00" x2="1095.00" y2="99.00" stroke="#373284" stroke-width="1.8"/>
<circle cx="1082.60" cy="99.00" r="6.60" fill="#fff" stroke="#373284" stroke-width="1.8"/>
<text x="1108.70" y="105.30" font-size="18.3" text-anchor="start" fill="#0d0d0d" stroke="#0d0d0d" stroke-width="0.3">Remdesivir</text>
<polyline points="1043.60,420.40 1141.00,420.40 1144.50,419.50 1146.50,416.00 1149.00,330.00 1151.50,240.00 1153.50,178.00 1155.00,162.00 1158.00,155.30 1162.00,154.20" fill="none" stroke="#373284" stroke-width="1.8" stroke-linejoin="round"/>
<polyline points="1043.60,467.40 1110.50,467.40 1113.50,466.50 1115.00,463.00 1119.00,330.00 1122.00,215.00 1125.00,175.00 1127.00,160.00 1130.00,155.20 1134.00,154.20 1258.00,154.20" fill="none" stroke="#976528" stroke-width="1.8" stroke-linejoin="round"/>
<polyline points="1043.60,473.80 1070.40,471.50 1097.20,473.40 1124.00,471.00 1150.80,479.70 1177.60,471.90 1204.40,467.40 1231.20,470.30 1258.00,479.70" fill="none" stroke="#373284" stroke-width="1.8" stroke-linejoin="round"/>
<polyline points="1043.60,445.20 1070.40,455.00 1097.20,443.00 1124.00,456.80 1150.80,465.00 1177.60,462.30 1204.40,460.50 1231.20,441.90 1258.00,455.70" fill="none" stroke="#976528" stroke-width="1.8" stroke-linejoin="round"/>
<line x1="1043.60" y1="386.00" x2="1043.60" y2="434.20" stroke="#373284" stroke-width="1.8"/>
<line x1="1036.80" y1="386.00" x2="1050.40" y2="386.00" stroke="#373284" stroke-width="1.8"/>
<line x1="1036.80" y1="434.20" x2="1050.40" y2="434.20" stroke="#373284" stroke-width="1.8"/>
<line x1="1070.40" y1="352.60" x2="1070.40" y2="452.00" stroke="#373284" stroke-width="1.8"/>
<line x1="1063.60" y1="352.60" x2="1077.20" y2="352.60" stroke="#373284" stroke-width="1.8"/>
<line x1="1063.60" y1="452.00" x2="1077.20" y2="452.00" stroke="#373284" stroke-width="1.8"/>
<line x1="1097.20" y1="401.00" x2="1097.20" y2="454.00" stroke="#373284" stroke-width="1.8"/>
<line x1="1090.40" y1="401.00" x2="1104.00" y2="401.00" stroke="#373284" stroke-width="1.8"/>
<line x1="1090.40" y1="454.00" x2="1104.00" y2="454.00" stroke="#373284" stroke-width="1.8"/>
<line x1="1043.60" y1="431.00" x2="1043.60" y2="462.00" stroke="#976528" stroke-width="1.8"/>
<line x1="1036.80" y1="431.00" x2="1050.40" y2="431.00" stroke="#976528" stroke-width="1.8"/>
<line x1="1036.80" y1="462.00" x2="1050.40" y2="462.00" stroke="#976528" stroke-width="1.8"/>
<line x1="1097.20" y1="433.40" x2="1097.20" y2="452.00" stroke="#976528" stroke-width="1.8"/>
<line x1="1090.40" y1="433.40" x2="1104.00" y2="433.40" stroke="#976528" stroke-width="1.8"/>
<line x1="1090.40" y1="452.00" x2="1104.00" y2="452.00" stroke="#976528" stroke-width="1.8"/>
<line x1="1124.00" y1="168.80" x2="1124.00" y2="229.00" stroke="#976528" stroke-width="1.8"/>
<line x1="1117.20" y1="168.80" x2="1130.80" y2="168.80" stroke="#976528" stroke-width="1.8"/>
<line x1="1117.20" y1="229.00" x2="1130.80" y2="229.00" stroke="#976528" stroke-width="1.8"/>
<line x1="1150.80" y1="277.90" x2="1150.80" y2="309.40" stroke="#373284" stroke-width="1.8"/>
<line x1="1144.00" y1="277.90" x2="1157.60" y2="277.90" stroke="#373284" stroke-width="1.8"/>
<line x1="1144.00" y1="309.40" x2="1157.60" y2="309.40" stroke="#373284" stroke-width="1.8"/>
<line x1="1231.20" y1="431.00" x2="1231.20" y2="453.30" stroke="#976528" stroke-width="1.8"/>
<line x1="1224.40" y1="431.00" x2="1238.00" y2="431.00" stroke="#976528" stroke-width="1.8"/>
<line x1="1224.40" y1="453.30" x2="1238.00" y2="453.30" stroke="#976528" stroke-width="1.8"/>
<circle cx="1043.60" cy="409.90" r="7.35" fill="#373284"/>
<circle cx="1070.40" cy="409.90" r="7.35" fill="#373284"/>
<circle cx="1097.20" cy="427.40" r="7.35" fill="#373284"/>
<circle cx="1150.80" cy="293.90" r="7.35" fill="#373284"/>
<circle cx="1043.60" cy="461.20" r="7.35" fill="#976528"/>
<circle cx="1124.00" cy="199.00" r="7.35" fill="#976528"/>
<circle cx="1150.80" cy="154.20" r="7.35" fill="#976528"/>
<circle cx="1177.60" cy="154.20" r="7.35" fill="#976528"/>
<circle cx="1204.40" cy="154.20" r="7.35" fill="#976528"/>
<circle cx="1231.20" cy="154.20" r="7.35" fill="#976528"/>
<circle cx="1258.00" cy="154.20" r="7.35" fill="#976528"/>
<circle cx="1043.60" cy="473.80" r="6.20" fill="#fff" stroke="#373284" stroke-width="1.8"/>
<circle cx="1070.40" cy="471.50" r="6.20" fill="#fff" stroke="#373284" stroke-width="1.8"/>
<circle cx="1097.20" cy="473.40" r="6.20" fill="#fff" stroke="#373284" stroke-width="1.8"/>
<circle cx="1124.00" cy="471.00" r="6.20" fill="#fff" stroke="#373284" stroke-width="1.8"/>
<circle cx="1150.80" cy="479.70" r="6.20" fill="#fff" stroke="#373284" stroke-width="1.8"/>
<circle cx="1177.60" cy="471.90" r="6.20" fill="#fff" stroke="#373284" stroke-width="1.8"/>
<circle cx="1204.40" cy="467.40" r="6.20" fill="#fff" stroke="#373284" stroke-width="1.8"/>
<circle cx="1231.20" cy="470.30" r="6.20" fill="#fff" stroke="#373284" stroke-width="1.8"/>
<circle cx="1258.00" cy="479.70" r="6.20" fill="#fff" stroke="#373284" stroke-width="1.8"/>
<circle cx="1043.60" cy="445.20" r="6.20" fill="#fff" stroke="#976528" stroke-width="1.8"/>
<circle cx="1070.40" cy="455.00" r="6.20" fill="#fff" stroke="#976528" stroke-width="1.8"/>
<circle cx="1097.20" cy="443.00" r="6.20" fill="#fff" stroke="#976528" stroke-width="1.8"/>
<circle cx="1124.00" cy="456.80" r="6.20" fill="#fff" stroke="#976528" stroke-width="1.8"/>
<circle cx="1150.80" cy="465.00" r="6.20" fill="#fff" stroke="#976528" stroke-width="1.8"/>
<circle cx="1177.60" cy="462.30" r="6.20" fill="#fff" stroke="#976528" stroke-width="1.8"/>
<circle cx="1204.40" cy="460.50" r="6.20" fill="#fff" stroke="#976528" stroke-width="1.8"/>
<circle cx="1231.20" cy="441.90" r="6.20" fill="#fff" stroke="#976528" stroke-width="1.8"/>
<circle cx="1258.00" cy="455.70" r="6.20" fill="#fff" stroke="#976528" stroke-width="1.8"/>
<line x1="1514.70" y1="176.50" x2="1514.70" y2="458.60" stroke="#231F20" stroke-width="2"/>
<line x1="1502.00" y1="458.60" x2="1796.00" y2="458.60" stroke="#231F20" stroke-width="2"/>
<line x1="1503.00" y1="458.60" x2="1514.70" y2="458.60" stroke="#231F20" stroke-width="2"/>
<text x="1500.00" y="465.80" font-size="20.8" text-anchor="end" fill="#0d0d0d" stroke="#0d0d0d" stroke-width="0.3">0.0</text>
<line x1="1503.00" y1="364.90" x2="1514.70" y2="364.90" stroke="#231F20" stroke-width="2"/>
<text x="1500.00" y="372.10" font-size="20.8" text-anchor="end" fill="#0d0d0d" stroke="#0d0d0d" stroke-width="0.3">0.1</text>
<line x1="1503.00" y1="270.60" x2="1514.70" y2="270.60" stroke="#231F20" stroke-width="2"/>
<text x="1500.00" y="277.80" font-size="20.8" text-anchor="end" fill="#0d0d0d" stroke="#0d0d0d" stroke-width="0.3">0.2</text>
<line x1="1503.00" y1="177.50" x2="1514.70" y2="177.50" stroke="#231F20" stroke-width="2"/>
<text x="1500.00" y="184.70" font-size="20.8" text-anchor="end" fill="#0d0d0d" stroke="#0d0d0d" stroke-width="0.3">0.3</text>
<line x1="1557.50" y1="290.90" x2="1557.50" y2="223.80" stroke="#373284" stroke-width="2"/>
<line x1="1546.60" y1="223.80" x2="1568.40" y2="223.80" stroke="#373284" stroke-width="2"/>
<rect x="1535.85" y="290.90" width="43.3" height="167.70" fill="#373284"/>
<line x1="1557.50" y1="458.60" x2="1557.50" y2="470.50" stroke="#231F20" stroke-width="2"/>
<line x1="1622.40" y1="392.00" x2="1622.40" y2="354.00" stroke="#EF7F22" stroke-width="2"/>
<line x1="1611.50" y1="354.00" x2="1633.30" y2="354.00" stroke="#EF7F22" stroke-width="2"/>
<rect x="1600.75" y="392.00" width="43.3" height="66.60" fill="#EF7F22"/>
<line x1="1622.40" y1="458.60" x2="1622.40" y2="470.50" stroke="#231F20" stroke-width="2"/>
<line x1="1687.30" y1="404.00" x2="1687.30" y2="375.60" stroke="#231F20" stroke-width="2"/>
<line x1="1676.40" y1="375.60" x2="1698.20" y2="375.60" stroke="#231F20" stroke-width="2"/>
<rect x="1665.65" y="404.00" width="43.3" height="54.60" fill="#231F20"/>
<line x1="1687.30" y1="458.60" x2="1687.30" y2="470.50" stroke="#231F20" stroke-width="2"/>
<line x1="1751.90" y1="417.40" x2="1751.90" y2="402.70" stroke="#976528" stroke-width="2"/>
<line x1="1741.00" y1="402.70" x2="1762.80" y2="402.70" stroke="#976528" stroke-width="2"/>
<rect x="1730.25" y="417.40" width="43.3" height="41.20" fill="#976528"/>
<line x1="1751.90" y1="458.60" x2="1751.90" y2="470.50" stroke="#231F20" stroke-width="2"/>
<text x="1573.20" y="198.80" font-size="25.2" text-anchor="start" fill="#0d0d0d" stroke="#0d0d0d" stroke-width="0.3" textLength="146.00" lengthAdjust="spacingAndGlyphs">+Remdesivir</text>
<line x1="1538.30" y1="205.00" x2="1767.80" y2="205.00" stroke="#231F20" stroke-width="2"/>
<text x="1453.80" y="317.70" font-size="25.5" text-anchor="middle" fill="#0d0d0d" stroke="#0d0d0d" stroke-width="0.3" transform="rotate(-90 1453.80 317.70)" textLength="129.50" lengthAdjust="spacingAndGlyphs">EC50 (<tspan font-family="Liberation Serif, serif">μ</tspan>M)</text>
<text x="1570.00" y="493.50" font-size="26.2" text-anchor="end" fill="#0d0d0d" stroke="#0d0d0d" stroke-width="0.3" transform="rotate(-45 1570.00 493.50)">DMSO</text>
<text x="1634.50" y="492.50" font-size="26.2" text-anchor="end" fill="#0d0d0d" stroke="#0d0d0d" stroke-width="0.3" transform="rotate(-45 1634.50 492.50)">#79</text>
<text x="1697.00" y="493.00" font-size="26.2" text-anchor="end" fill="#0d0d0d" stroke="#0d0d0d" stroke-width="0.3" transform="rotate(-45 1697.00 493.00)">#96</text>
<text x="1759.50" y="493.00" font-size="26.2" text-anchor="end" fill="#0d0d0d" stroke="#0d0d0d" stroke-width="0.3" transform="rotate(-45 1759.50 493.00)">#102</text>
<defs>
<filter id="nzd" x="0" y="0" width="100%" height="100%" color-interpolation-filters="sRGB">
<feTurbulence type="fractalNoise" baseFrequency="0.4" numOctaves="3" seed="5"/>
<feColorMatrix type="matrix" values="0 0 0 0 0.08  0 0 0 0 0.06  0 0 0 0 0.22  2.0 0 0 0 -0.9"/>
<feComposite in2="SourceGraphic" operator="in"/></filter>
<filter id="nzm" x="0" y="0" width="100%" height="100%" color-interpolation-filters="sRGB">
<feTurbulence type="fractalNoise" baseFrequency="0.07" numOctaves="2" seed="8"/>
<feColorMatrix type="matrix" values="0 0 0 0 0.05  0 0 0 0 0.03  0 0 0 0 0.15  1.8 0 0 0 -0.8"/>
<feComposite in2="SourceGraphic" operator="in"/></filter>
<filter id="nzl" x="0" y="0" width="100%" height="100%" color-interpolation-filters="sRGB">
<feTurbulence type="fractalNoise" baseFrequency="0.5" numOctaves="2" seed="11"/>
<feColorMatrix type="matrix" values="0 0 0 0 0.30  0 0 0 0 0.27  0 0 0 0 0.70  2.0 0 0 0 -1.05"/>
<feComposite in2="SourceGraphic" operator="in"/></filter>
</defs>
<defs><filter id="hz" x="-50%" y="-50%" width="200%" height="200%"><feGaussianBlur stdDeviation="5"/></filter></defs>
<text x="109.30" y="602.90" font-size="27" text-anchor="start" fill="#0d0d0d" stroke="#0d0d0d" stroke-width="0.3">39 nM Remdesivir</text>
<svg x="131.0" y="610.4" width="161.50" height="91.10" viewBox="131.0 610.4 161.50 91.10" overflow="hidden">
<rect x="131.0" y="610.4" width="161.50" height="91.10" fill="#000"/>
<ellipse cx="174.0" cy="657.2" rx="36.0" ry="37.8" fill="#2d2780" stroke="#5551bb" stroke-width="0.9"/>
<ellipse cx="174.0" cy="657.2" rx="35.2" ry="37.0" fill="#fff" filter="url(#nzm)"/>
<ellipse cx="174.0" cy="657.2" rx="35.2" ry="37.0" fill="#fff" filter="url(#nzd)"/>
<ellipse cx="174.0" cy="657.2" rx="35.2" ry="37.0" fill="#fff" filter="url(#nzl)"/>
<clipPath id="w1"><ellipse cx="174.0" cy="657.2" rx="35.2" ry="37.0"/></clipPath><g clip-path="url(#w1)"><g filter="url(#hz)" opacity="0.5">
<ellipse cx="154.2" cy="664.8" rx="16.2" ry="17.0" fill="#b0206a"/>
<ellipse cx="166.8" cy="681.8" rx="16.2" ry="17.0" fill="#b0206a"/>
<ellipse cx="177.6" cy="630.7" rx="10.8" ry="11.3" fill="#b0206a"/>
</g></g>
<rect x="196.9" y="668.0" width="2.0" height="2.0" fill="#e0205e"/><rect x="160.1" y="665.0" width="1.0" height="1.0" fill="#c81e5a"/><rect x="201.8" y="666.1" width="1.3" height="1.3" fill="#d8206c"/><rect x="193.7" y="673.1" width="1.3" height="1.3" fill="#e0205e"/><rect x="143.2" y="662.2" width="1.0" height="1.0" fill="#c81e5a"/><rect x="189.2" y="678.2" width="1.6" height="1.6" fill="#e8307a"/><rect x="186.8" y="675.4" width="2.0" height="2.0" fill="#d8206c"/><rect x="188.1" y="677.5" width="2.0" height="2.0" fill="#e8307a"/><rect x="164.4" y="683.5" width="1.6" height="1.6" fill="#a01f66"/><rect x="166.3" y="682.3" width="1.0" height="1.0" fill="#c81e5a"/><rect x="158.4" y="659.3" width="1.0" height="1.0" fill="#b01e60"/><rect x="159.1" y="659.2" width="1.3" height="1.3" fill="#e8307a"/><rect x="159.6" y="655.1" width="2.0" height="2.0" fill="#e8307a"/><rect x="175.3" y="669.0" width="1.3" height="1.3" fill="#d8206c"/><rect x="175.2" y="667.4" width="1.6" height="1.6" fill="#b01e60"/><rect x="174.2" y="666.4" width="1.0" height="1.0" fill="#c81e5a"/><rect x="165.1" y="634.7" width="1.3" height="1.3" fill="#e0205e"/><rect x="164.4" y="633.8" width="1.0" height="1.0" fill="#c81e5a"/><rect x="166.3" y="663.2" width="1.0" height="1.0" fill="#d8206c"/><rect x="154.4" y="633.5" width="2.0" height="2.0" fill="#b01e60"/><rect x="151.6" y="631.6" width="1.6" height="1.6" fill="#e0205e"/><rect x="191.0" y="644.5" width="1.3" height="1.3" fill="#c81e5a"/><rect x="191.7" y="643.2" width="1.3" height="1.3" fill="#a01f66"/><rect x="186.8" y="682.6" width="1.0" height="1.0" fill="#e8307a"/><rect x="183.2" y="683.9" width="1.6" height="1.6" fill="#c81e5a"/><rect x="183.6" y="684.9" width="1.0" height="1.0" fill="#d8206c"/><rect x="185.7" y="686.3" width="1.3" height="1.3" fill="#e0205e"/><rect x="187.3" y="686.0" width="2.0" height="2.0" fill="#c81e5a"/><rect x="187.2" y="684.5" width="2.0" height="2.0" fill="#d8206c"/><rect x="146.4" y="670.6" width="1.3" height="1.3" fill="#d8206c"/><rect x="175.8" y="641.9" width="2.0" height="2.0" fill="#e8307a"/><rect x="176.3" y="643.1" width="1.0" height="1.0" fill="#d8206c"/><rect x="149.7" y="661.9" width="1.3" height="1.3" fill="#e8307a"/><rect x="179.7" y="648.3" width="1.0" height="1.0" fill="#b01e60"/><rect x="180.9" y="647.4" width="1.3" height="1.3" fill="#e0205e"/><rect x="186.6" y="682.5" width="2.0" height="2.0" fill="#e8307a"/><rect x="188.7" y="683.0" width="1.6" height="1.6" fill="#a01f66"/><rect x="190.1" y="682.0" width="1.0" height="1.0" fill="#b01e60"/><rect x="158.6" y="676.2" width="1.0" height="1.0" fill="#c81e5a"/><rect x="153.4" y="670.9" width="1.3" height="1.3" fill="#e0205e"/><rect x="153.1" y="671.8" width="1.0" height="1.0" fill="#e0205e"/><rect x="176.3" y="672.0" width="1.6" height="1.6" fill="#a01f66"/><rect x="159.7" y="655.3" width="1.6" height="1.6" fill="#e0205e"/><rect x="159.4" y="654.2" width="1.3" height="1.3" fill="#d8206c"/><rect x="158.0" y="654.0" width="1.0" height="1.0" fill="#b01e60"/><rect x="169.6" y="670.4" width="1.3" height="1.3" fill="#a01f66"/><rect x="159.8" y="669.1" width="2.0" height="2.0" fill="#e8307a"/><rect x="192.7" y="635.9" width="1.3" height="1.3" fill="#c81e5a"/><rect x="159.5" y="687.6" width="1.3" height="1.3" fill="#e8307a"/><rect x="189.9" y="657.0" width="1.6" height="1.6" fill="#e8307a"/><rect x="190.8" y="657.3" width="1.3" height="1.3" fill="#d8206c"/><rect x="190.4" y="675.0" width="1.3" height="1.3" fill="#a01f66"/><rect x="174.6" y="673.5" width="1.0" height="1.0" fill="#d8206c"/><rect x="173.9" y="665.7" width="2.0" height="2.0" fill="#a01f66"/><rect x="172.4" y="666.8" width="1.6" height="1.6" fill="#b01e60"/><rect x="174.1" y="664.7" width="1.3" height="1.3" fill="#a01f66"/><rect x="184.6" y="661.6" width="1.0" height="1.0" fill="#c81e5a"/><rect x="183.6" y="663.7" width="1.0" height="1.0" fill="#a01f66"/><rect x="184.6" y="661.4" width="1.6" height="1.6" fill="#e8307a"/><rect x="153.0" y="666.4" width="1.0" height="1.0" fill="#b01e60"/><rect x="151.6" y="663.1" width="2.0" height="2.0" fill="#d8206c"/><rect x="178.6" y="652.6" width="1.6" height="1.6" fill="#c81e5a"/><rect x="184.1" y="651.6" width="2.0" height="2.0" fill="#c81e5a"/><rect x="183.7" y="652.1" width="1.3" height="1.3" fill="#e0205e"/><rect x="170.9" y="670.6" width="1.6" height="1.6" fill="#e8307a"/><rect x="168.0" y="625.3" width="1.0" height="1.0" fill="#d8206c"/><rect x="159.9" y="675.3" width="1.6" height="1.6" fill="#a01f66"/><rect x="176.3" y="636.6" width="1.3" height="1.3" fill="#d8206c"/><rect x="178.7" y="634.3" width="2.0" height="2.0" fill="#a01f66"/><rect x="176.4" y="635.5" width="1.6" height="1.6" fill="#a01f66"/><rect x="140.8" y="660.5" width="1.6" height="1.6" fill="#e8307a"/><rect x="171.8" y="624.3" width="2.0" height="2.0" fill="#a01f66"/><rect x="173.3" y="624.0" width="1.3" height="1.3" fill="#e0205e"/><rect x="169.0" y="622.5" width="1.3" height="1.3" fill="#d8206c"/><rect x="151.4" y="669.2" width="1.6" height="1.6" fill="#c81e5a"/><rect x="151.7" y="654.0" width="1.3" height="1.3" fill="#e8307a"/><rect x="155.6" y="673.5" width="1.3" height="1.3" fill="#e0205e"/><rect x="151.8" y="660.2" width="2.0" height="2.0" fill="#d8206c"/><rect x="149.8" y="661.5" width="1.3" height="1.3" fill="#e0205e"/><rect x="201.9" y="663.8" width="1.6" height="1.6" fill="#c81e5a"/><rect x="177.4" y="682.1" width="1.0" height="1.0" fill="#e8307a"/><rect x="187.9" y="648.2" width="1.3" height="1.3" fill="#b01e60"/><rect x="195.6" y="668.4" width="1.0" height="1.0" fill="#e8307a"/><rect x="193.2" y="650.1" width="1.3" height="1.3" fill="#e0205e"/><rect x="181.2" y="653.7" width="1.3" height="1.3" fill="#e0205e"/><rect x="178.4" y="655.3" width="1.0" height="1.0" fill="#e8307a"/><rect x="161.0" y="671.9" width="1.0" height="1.0" fill="#b01e60"/><rect x="147.7" y="644.3" width="2.0" height="2.0" fill="#e0205e"/><rect x="180.1" y="684.0" width="2.0" height="2.0" fill="#e0205e"/><rect x="174.9" y="685.1" width="1.6" height="1.6" fill="#e0205e"/><rect x="174.5" y="685.5" width="1.6" height="1.6" fill="#d8206c"/><rect x="205.5" y="669.0" width="1.6" height="1.6" fill="#b01e60"/><rect x="204.3" y="668.5" width="2.0" height="2.0" fill="#c81e5a"/><rect x="203.0" y="672.4" width="1.6" height="1.6" fill="#a01f66"/><rect x="166.0" y="675.2" width="1.3" height="1.3" fill="#c81e5a"/><rect x="163.3" y="675.9" width="1.6" height="1.6" fill="#b01e60"/><rect x="185.6" y="677.3" width="2.0" height="2.0" fill="#e0205e"/><rect x="146.9" y="658.7" width="1.3" height="1.3" fill="#a01f66"/><rect x="196.1" y="680.6" width="1.3" height="1.3" fill="#e8307a"/><rect x="195.3" y="679.8" width="1.3" height="1.3" fill="#c81e5a"/><rect x="155.8" y="627.7" width="1.6" height="1.6" fill="#b01e60"/><rect x="156.2" y="628.8" width="1.0" height="1.0" fill="#e0205e"/><rect x="184.1" y="691.6" width="1.6" height="1.6" fill="#b01e60"/><rect x="176.6" y="627.7" width="1.0" height="1.0" fill="#c81e5a"/><rect x="177.7" y="629.5" width="1.6" height="1.6" fill="#c81e5a"/><rect x="180.6" y="629.5" width="1.0" height="1.0" fill="#c81e5a"/><rect x="166.7" y="650.3" width="2.0" height="2.0" fill="#e0205e"/><rect x="166.8" y="649.7" width="1.0" height="1.0" fill="#d8206c"/><rect x="161.1" y="637.7" width="1.6" height="1.6" fill="#e0205e"/><rect x="146.2" y="672.1" width="1.0" height="1.0" fill="#e0205e"/><rect x="197.0" y="673.1" width="1.3" height="1.3" fill="#c81e5a"/><rect x="197.0" y="671.6" width="1.3" height="1.3" fill="#b01e60"/><rect x="163.4" y="689.6" width="2.0" height="2.0" fill="#a01f66"/><rect x="166.3" y="688.9" width="1.3" height="1.3" fill="#a01f66"/><rect x="155.9" y="629.8" width="1.3" height="1.3" fill="#c81e5a"/><rect x="157.7" y="633.0" width="2.0" height="2.0" fill="#c81e5a"/><rect x="165.0" y="674.7" width="1.3" height="1.3" fill="#e8307a"/><rect x="162.6" y="677.8" width="2.0" height="2.0" fill="#b01e60"/><rect x="164.7" y="676.9" width="2.0" height="2.0" fill="#b01e60"/><rect x="161.6" y="661.6" width="1.0" height="1.0" fill="#e8307a"/><rect x="164.6" y="683.3" width="1.0" height="1.0" fill="#c81e5a"/><rect x="166.0" y="680.8" width="1.0" height="1.0" fill="#a01f66"/><rect x="184.6" y="687.7" width="1.0" height="1.0" fill="#c81e5a"/><rect x="188.0" y="632.7" width="1.3" height="1.3" fill="#b01e60"/><rect x="173.0" y="693.5" width="1.6" height="1.6" fill="#e8307a"/><rect x="174.1" y="691.9" width="1.6" height="1.6" fill="#c81e5a"/><rect x="161.8" y="628.4" width="1.6" height="1.6" fill="#a01f66"/><rect x="161.1" y="625.3" width="1.6" height="1.6" fill="#e8307a"/><rect x="161.1" y="627.4" width="1.6" height="1.6" fill="#c81e5a"/><rect x="169.3" y="665.5" width="1.6" height="1.6" fill="#d8206c"/><rect x="167.9" y="669.6" width="1.6" height="1.6" fill="#d8206c"/><rect x="169.7" y="625.9" width="1.6" height="1.6" fill="#d8206c"/><rect x="184.1" y="649.5" width="1.6" height="1.6" fill="#d8206c"/><rect x="183.0" y="651.1" width="1.3" height="1.3" fill="#d8206c"/><rect x="182.6" y="650.1" width="1.3" height="1.3" fill="#c81e5a"/><rect x="154.7" y="680.6" width="2.0" height="2.0" fill="#c81e5a"/><rect x="180.9" y="636.3" width="2.0" height="2.0" fill="#e8307a"/><rect x="155.1" y="641.8" width="1.0" height="1.0" fill="#d8206c"/><rect x="162.3" y="666.9" width="1.3" height="1.3" fill="#c81e5a"/><rect x="151.7" y="668.2" width="1.6" height="1.6" fill="#c81e5a"/><rect x="155.3" y="671.2" width="2.0" height="2.0" fill="#a01f66"/><rect x="153.4" y="670.2" width="2.0" height="2.0" fill="#b01e60"/><rect x="197.6" y="673.1" width="1.6" height="1.6" fill="#e0205e"/><rect x="147.8" y="662.6" width="1.6" height="1.6" fill="#d8206c"/><rect x="164.0" y="653.5" width="1.3" height="1.3" fill="#e8307a"/><rect x="170.7" y="649.6" width="1.0" height="1.0" fill="#a01f66"/><rect x="174.0" y="652.1" width="1.3" height="1.3" fill="#e8307a"/><rect x="173.4" y="648.8" width="1.0" height="1.0" fill="#a01f66"/><rect x="164.5" y="669.5" width="1.0" height="1.0" fill="#a01f66"/><rect x="187.9" y="634.3" width="1.3" height="1.3" fill="#a01f66"/><rect x="168.6" y="678.0" width="1.6" height="1.6" fill="#a01f66"/><rect x="193.3" y="674.1" width="1.6" height="1.6" fill="#e0205e"/><rect x="192.7" y="671.2" width="1.6" height="1.6" fill="#c81e5a"/><rect x="178.4" y="623.8" width="2.0" height="2.0" fill="#c81e5a"/><rect x="149.7" y="654.2" width="1.0" height="1.0" fill="#c81e5a"/><rect x="198.1" y="656.9" width="1.0" height="1.0" fill="#b01e60"/><rect x="150.0" y="673.7" width="1.3" height="1.3" fill="#d8206c"/><rect x="152.6" y="681.4" width="1.0" height="1.0" fill="#a01f66"/><rect x="150.4" y="681.0" width="2.0" height="2.0" fill="#c81e5a"/><rect x="158.4" y="630.3" width="1.3" height="1.3" fill="#c81e5a"/><rect x="157.8" y="633.3" width="1.3" height="1.3" fill="#a01f66"/><rect x="190.5" y="681.4" width="1.6" height="1.6" fill="#a01f66"/><rect x="152.3" y="666.7" width="1.3" height="1.3" fill="#a01f66"/><rect x="150.1" y="666.6" width="2.0" height="2.0" fill="#b01e60"/><rect x="163.8" y="684.4" width="1.3" height="1.3" fill="#a01f66"/><rect x="163.8" y="684.5" width="1.0" height="1.0" fill="#b01e60"/><rect x="147.0" y="648.2" width="2.0" height="2.0" fill="#e8307a"/><rect x="146.5" y="648.0" width="1.3" height="1.3" fill="#a01f66"/><rect x="144.6" y="651.2" width="1.6" height="1.6" fill="#e0205e"/><rect x="164.6" y="643.9" width="1.6" height="1.6" fill="#b01e60"/><rect x="166.0" y="650.9" width="2.0" height="2.0" fill="#c81e5a"/><rect x="163.4" y="651.8" width="1.3" height="1.3" fill="#e0205e"/><rect x="148.1" y="664.0" width="2.0" height="2.0" fill="#b01e60"/><rect x="183.7" y="629.3" width="1.0" height="1.0" fill="#b01e60"/><rect x="183.4" y="626.5" width="2.0" height="2.0" fill="#e8307a"/><rect x="186.8" y="628.7" width="1.3" height="1.3" fill="#e8307a"/><rect x="165.6" y="644.4" width="1.3" height="1.3" fill="#c81e5a"/><rect x="181.1" y="677.5" width="1.6" height="1.6" fill="#e0205e"/><rect x="180.2" y="680.9" width="1.0" height="1.0" fill="#d8206c"/><rect x="155.9" y="651.4" width="2.0" height="2.0" fill="#b01e60"/><rect x="194.3" y="640.0" width="1.3" height="1.3" fill="#e0205e"/><rect x="160.7" y="629.4" width="1.6" height="1.6" fill="#c81e5a"/><rect x="158.2" y="629.2" width="1.0" height="1.0" fill="#d8206c"/><rect x="159.0" y="626.2" width="1.0" height="1.0" fill="#c81e5a"/><rect x="179.8" y="678.2" width="1.3" height="1.3" fill="#b01e60"/><rect x="170.4" y="676.2" width="2.0" height="2.0" fill="#b01e60"/><rect x="159.5" y="687.0" width="1.6" height="1.6" fill="#e0205e"/><rect x="188.3" y="687.6" width="2.0" height="2.0" fill="#b01e60"/><rect x="183.6" y="684.8" width="1.0" height="1.0" fill="#e8307a"/><rect x="185.0" y="685.0" width="1.0" height="1.0" fill="#b01e60"/><rect x="149.9" y="639.1" width="1.0" height="1.0" fill="#c81e5a"/><rect x="149.7" y="638.1" width="1.0" height="1.0" fill="#b01e60"/><rect x="153.2" y="639.6" width="1.3" height="1.3" fill="#e8307a"/><rect x="179.9" y="631.9" width="2.0" height="2.0" fill="#e0205e"/><rect x="144.7" y="638.0" width="1.0" height="1.0" fill="#e0205e"/><rect x="164.3" y="644.5" width="1.0" height="1.0" fill="#a01f66"/><rect x="205.1" y="654.7" width="1.3" height="1.3" fill="#a01f66"/><rect x="154.7" y="679.3" width="2.0" height="2.0" fill="#a01f66"/><rect x="142.6" y="665.3" width="1.0" height="1.0" fill="#e0205e"/><rect x="158.6" y="669.0" width="2.0" height="2.0" fill="#d8206c"/><rect x="158.8" y="670.0" width="1.6" height="1.6" fill="#e0205e"/><rect x="145.2" y="659.8" width="1.6" height="1.6" fill="#e8307a"/><rect x="154.6" y="676.4" width="1.6" height="1.6" fill="#e0205e"/><rect x="187.8" y="624.1" width="1.3" height="1.3" fill="#d8206c"/><rect x="159.5" y="626.0" width="1.3" height="1.3" fill="#b01e60"/><rect x="171.4" y="666.2" width="2.0" height="2.0" fill="#e0205e"/><rect x="170.4" y="665.2" width="1.0" height="1.0" fill="#e8307a"/><rect x="171.3" y="667.0" width="1.6" height="1.6" fill="#e8307a"/><rect x="150.8" y="662.6" width="1.6" height="1.6" fill="#e8307a"/><rect x="143.1" y="657.7" width="1.0" height="1.0" fill="#d8206c"/><rect x="141.8" y="660.1" width="1.0" height="1.0" fill="#e0205e"/><rect x="145.6" y="661.1" width="1.3" height="1.3" fill="#d8206c"/><rect x="173.6" y="664.3" width="1.6" height="1.6" fill="#e0205e"/><rect x="190.2" y="656.1" width="1.0" height="1.0" fill="#d8206c"/><rect x="148.5" y="641.6" width="2.0" height="2.0" fill="#e8307a"/><rect x="201.4" y="641.8" width="1.3" height="1.3" fill="#e8307a"/><rect x="169.8" y="661.6" width="1.6" height="1.6" fill="#e0205e"/><rect x="180.8" y="671.1" width="1.3" height="1.3" fill="#b01e60"/><rect x="183.7" y="671.7" width="1.0" height="1.0" fill="#c81e5a"/><rect x="183.5" y="673.0" width="1.3" height="1.3" fill="#e8307a"/><rect x="147.1" y="645.1" width="1.3" height="1.3" fill="#e8307a"/><rect x="164.6" y="691.4" width="1.6" height="1.6" fill="#e0205e"/><rect x="165.7" y="692.2" width="1.3" height="1.3" fill="#b01e60"/><rect x="158.6" y="655.2" width="2.0" height="2.0" fill="#d8206c"/><rect x="158.1" y="654.0" width="1.3" height="1.3" fill="#c81e5a"/><rect x="158.1" y="649.0" width="1.6" height="1.6" fill="#e0205e"/><rect x="159.5" y="651.8" width="1.0" height="1.0" fill="#b01e60"/><rect x="164.2" y="649.6" width="1.3" height="1.3" fill="#b01e60"/><rect x="188.3" y="644.7" width="1.0" height="1.0" fill="#d8206c"/><rect x="192.6" y="663.3" width="1.0" height="1.0" fill="#d8206c"/><rect x="185.3" y="670.8" width="1.0" height="1.0" fill="#e8307a"/><rect x="188.4" y="670.6" width="1.3" height="1.3" fill="#a01f66"/><rect x="169.5" y="689.0" width="1.6" height="1.6" fill="#e0205e"/><rect x="173.4" y="687.5" width="1.6" height="1.6" fill="#e0205e"/><rect x="170.8" y="669.0" width="1.3" height="1.3" fill="#c81e5a"/><rect x="164.3" y="635.8" width="1.0" height="1.0" fill="#b01e60"/><rect x="157.3" y="649.2" width="1.0" height="1.0" fill="#b01e60"/><rect x="155.1" y="651.1" width="1.6" height="1.6" fill="#e0205e"/><rect x="154.7" y="650.4" width="1.3" height="1.3" fill="#e0205e"/><rect x="195.1" y="632.9" width="1.6" height="1.6" fill="#d8206c"/><rect x="195.7" y="633.3" width="1.0" height="1.0" fill="#e0205e"/><rect x="197.5" y="637.1" width="1.3" height="1.3" fill="#b01e60"/><rect x="147.0" y="662.4" width="1.6" height="1.6" fill="#b01e60"/><rect x="151.6" y="682.1" width="1.6" height="1.6" fill="#c81e5a"/><rect x="153.1" y="683.6" width="2.0" height="2.0" fill="#b01e60"/><rect x="176.6" y="682.6" width="1.0" height="1.0" fill="#e0205e"/><rect x="164.7" y="662.4" width="1.3" height="1.3" fill="#d8206c"/><rect x="168.5" y="660.3" width="2.0" height="2.0" fill="#c81e5a"/><rect x="168.3" y="624.8" width="1.0" height="1.0" fill="#d8206c"/><rect x="141.9" y="656.7" width="1.0" height="1.0" fill="#d8206c"/><rect x="140.0" y="658.8" width="1.6" height="1.6" fill="#b01e60"/><rect x="155.5" y="648.3" width="1.6" height="1.6" fill="#b01e60"/><rect x="155.0" y="650.9" width="2.0" height="2.0" fill="#c81e5a"/><rect x="152.7" y="648.9" width="1.6" height="1.6" fill="#e0205e"/><rect x="160.7" y="687.6" width="1.0" height="1.0" fill="#e0205e"/><rect x="165.0" y="635.6" width="1.0" height="1.0" fill="#e0205e"/><rect x="165.1" y="636.9" width="2.0" height="2.0" fill="#e8307a"/><rect x="156.5" y="629.6" width="1.6" height="1.6" fill="#b01e60"/><rect x="161.9" y="632.6" width="1.3" height="1.3" fill="#e8307a"/><rect x="163.2" y="666.9" width="1.3" height="1.3" fill="#b01e60"/><rect x="164.2" y="664.5" width="1.6" height="1.6" fill="#e0205e"/><rect x="172.7" y="653.7" width="2.0" height="2.0" fill="#e8307a"/><rect x="173.8" y="652.1" width="1.0" height="1.0" fill="#a01f66"/><rect x="173.3" y="655.5" width="1.6" height="1.6" fill="#d8206c"/><rect x="189.5" y="677.8" width="2.0" height="2.0" fill="#d8206c"/><rect x="163.6" y="684.3" width="1.0" height="1.0" fill="#d8206c"/><rect x="161.2" y="677.9" width="2.0" height="2.0" fill="#e0205e"/>
<ellipse cx="248.9" cy="657.2" rx="36.0" ry="37.8" fill="#2d2780" stroke="#5551bb" stroke-width="0.9"/>
<ellipse cx="248.9" cy="657.2" rx="35.2" ry="37.0" fill="#fff" filter="url(#nzm)"/>
<ellipse cx="248.9" cy="657.2" rx="35.2" ry="37.0" fill="#fff" filter="url(#nzd)"/>
<ellipse cx="248.9" cy="657.2" rx="35.2" ry="37.0" fill="#fff" filter="url(#nzl)"/>
<clipPath id="w2"><ellipse cx="248.9" cy="657.2" rx="35.2" ry="37.0"/></clipPath><g clip-path="url(#w2)"><g filter="url(#hz)" opacity="0.5">
<ellipse cx="248.9" cy="638.3" rx="12.6" ry="13.2" fill="#b0206a"/>
<ellipse cx="257.9" cy="679.9" rx="10.8" ry="11.3" fill="#b0206a"/>
<ellipse cx="221.9" cy="668.5" rx="9.0" ry="9.4" fill="#b0206a"/>
</g></g>
<rect x="264.9" y="678.2" width="2.0" height="2.0" fill="#e8307a"/><rect x="222.7" y="638.0" width="1.3" height="1.3" fill="#a01f66"/><rect x="279.2" y="662.5" width="2.0" height="2.0" fill="#e8307a"/><rect x="230.0" y="673.5" width="1.3" height="1.3" fill="#d8206c"/><rect x="232.7" y="665.3" width="1.6" height="1.6" fill="#c81e5a"/><rect x="221.8" y="646.2" width="1.6" height="1.6" fill="#c81e5a"/><rect x="218.9" y="650.4" width="1.3" height="1.3" fill="#b01e60"/><rect x="240.5" y="677.2" width="2.0" height="2.0" fill="#e8307a"/><rect x="240.9" y="679.6" width="2.0" height="2.0" fill="#c81e5a"/><rect x="234.5" y="632.8" width="1.6" height="1.6" fill="#c81e5a"/><rect x="236.2" y="638.0" width="1.6" height="1.6" fill="#e0205e"/><rect x="258.4" y="629.4" width="2.0" height="2.0" fill="#c81e5a"/><rect x="258.5" y="629.9" width="1.3" height="1.3" fill="#b01e60"/><rect x="259.7" y="628.0" width="1.6" height="1.6" fill="#e8307a"/><rect x="259.7" y="649.8" width="1.0" height="1.0" fill="#a01f66"/><rect x="248.7" y="645.3" width="1.3" height="1.3" fill="#c81e5a"/><rect x="247.3" y="642.3" width="2.0" height="2.0" fill="#e8307a"/><rect x="275.4" y="638.4" width="1.0" height="1.0" fill="#e0205e"/><rect x="274.6" y="637.1" width="1.0" height="1.0" fill="#e8307a"/><rect x="272.2" y="639.3" width="1.3" height="1.3" fill="#a01f66"/><rect x="270.1" y="677.5" width="1.3" height="1.3" fill="#c81e5a"/><rect x="271.3" y="678.8" width="1.6" height="1.6" fill="#d8206c"/><rect x="269.2" y="679.8" width="1.6" height="1.6" fill="#e8307a"/><rect x="251.6" y="676.0" width="1.6" height="1.6" fill="#a01f66"/><rect x="251.7" y="676.2" width="1.3" height="1.3" fill="#d8206c"/><rect x="252.7" y="642.4" width="1.3" height="1.3" fill="#b01e60"/><rect x="250.7" y="643.6" width="2.0" height="2.0" fill="#e8307a"/><rect x="258.9" y="686.4" width="1.6" height="1.6" fill="#d8206c"/><rect x="245.3" y="682.5" width="1.6" height="1.6" fill="#e0205e"/><rect x="244.7" y="682.4" width="2.0" height="2.0" fill="#e0205e"/><rect x="237.7" y="673.6" width="1.6" height="1.6" fill="#a01f66"/><rect x="270.5" y="662.7" width="1.3" height="1.3" fill="#a01f66"/><rect x="233.0" y="644.0" width="1.6" height="1.6" fill="#d8206c"/><rect x="255.8" y="641.3" width="2.0" height="2.0" fill="#a01f66"/><rect x="274.2" y="636.8" width="1.3" height="1.3" fill="#c81e5a"/><rect x="260.9" y="683.0" width="1.3" height="1.3" fill="#b01e60"/><rect x="258.8" y="687.2" width="2.0" height="2.0" fill="#d8206c"/><rect x="256.1" y="651.1" width="1.0" height="1.0" fill="#e8307a"/><rect x="225.8" y="637.5" width="2.0" height="2.0" fill="#d8206c"/><rect x="228.5" y="635.0" width="1.3" height="1.3" fill="#a01f66"/><rect x="226.5" y="636.9" width="1.0" height="1.0" fill="#a01f66"/><rect x="259.9" y="644.8" width="2.0" height="2.0" fill="#e8307a"/><rect x="257.3" y="644.5" width="2.0" height="2.0" fill="#b01e60"/><rect x="258.0" y="644.7" width="1.0" height="1.0" fill="#c81e5a"/><rect x="258.4" y="683.4" width="1.0" height="1.0" fill="#d8206c"/><rect x="257.3" y="679.3" width="1.0" height="1.0" fill="#c81e5a"/><rect x="253.6" y="675.6" width="1.0" height="1.0" fill="#c81e5a"/><rect x="255.7" y="674.4" width="1.6" height="1.6" fill="#c81e5a"/><rect x="249.5" y="636.8" width="1.6" height="1.6" fill="#c81e5a"/><rect x="246.5" y="636.5" width="2.0" height="2.0" fill="#e8307a"/><rect x="250.3" y="637.2" width="1.6" height="1.6" fill="#e0205e"/><rect x="220.4" y="649.1" width="2.0" height="2.0" fill="#a01f66"/><rect x="224.8" y="648.3" width="1.0" height="1.0" fill="#b01e60"/><rect x="220.7" y="646.0" width="1.6" height="1.6" fill="#e0205e"/><rect x="257.4" y="678.7" width="1.6" height="1.6" fill="#d8206c"/><rect x="256.5" y="680.7" width="2.0" height="2.0" fill="#e8307a"/><rect x="260.1" y="681.4" width="2.0" height="2.0" fill="#c81e5a"/><rect x="239.3" y="635.8" width="1.0" height="1.0" fill="#c81e5a"/><rect x="266.7" y="676.2" width="2.0" height="2.0" fill="#b01e60"/><rect x="266.1" y="649.9" width="1.0" height="1.0" fill="#b01e60"/><rect x="264.6" y="647.9" width="1.6" height="1.6" fill="#c81e5a"/><rect x="255.9" y="649.4" width="1.6" height="1.6" fill="#e8307a"/><rect x="257.7" y="649.9" width="1.0" height="1.0" fill="#c81e5a"/><rect x="227.2" y="647.4" width="1.6" height="1.6" fill="#b01e60"/><rect x="240.6" y="636.6" width="1.6" height="1.6" fill="#c81e5a"/><rect x="247.0" y="639.3" width="1.0" height="1.0" fill="#c81e5a"/><rect x="244.6" y="639.2" width="2.0" height="2.0" fill="#e8307a"/><rect x="244.1" y="641.9" width="1.0" height="1.0" fill="#b01e60"/><rect x="256.5" y="639.6" width="1.6" height="1.6" fill="#a01f66"/><rect x="249.9" y="664.1" width="1.0" height="1.0" fill="#d8206c"/><rect x="250.1" y="664.5" width="1.0" height="1.0" fill="#c81e5a"/><rect x="242.0" y="667.9" width="1.0" height="1.0" fill="#e8307a"/><rect x="242.5" y="669.4" width="1.0" height="1.0" fill="#a01f66"/><rect x="237.6" y="641.8" width="1.0" height="1.0" fill="#e0205e"/><rect x="232.4" y="644.8" width="1.0" height="1.0" fill="#e0205e"/><rect x="237.0" y="641.8" width="1.0" height="1.0" fill="#e8307a"/><rect x="217.1" y="652.1" width="1.3" height="1.3" fill="#d8206c"/><rect x="232.6" y="632.6" width="1.0" height="1.0" fill="#b01e60"/><rect x="234.8" y="633.2" width="2.0" height="2.0" fill="#d8206c"/><rect x="233.3" y="633.9" width="1.6" height="1.6" fill="#d8206c"/><rect x="232.7" y="634.1" width="1.0" height="1.0" fill="#e0205e"/><rect x="231.9" y="631.0" width="1.3" height="1.3" fill="#d8206c"/><rect x="231.5" y="631.3" width="1.6" height="1.6" fill="#d8206c"/><rect x="267.3" y="631.7" width="1.3" height="1.3" fill="#b01e60"/><rect x="236.6" y="644.2" width="1.0" height="1.0" fill="#e0205e"/><rect x="235.9" y="641.4" width="2.0" height="2.0" fill="#a01f66"/><rect x="237.0" y="640.5" width="1.3" height="1.3" fill="#a01f66"/><rect x="240.1" y="638.8" width="2.0" height="2.0" fill="#a01f66"/><rect x="249.1" y="677.1" width="1.3" height="1.3" fill="#b01e60"/><rect x="252.6" y="677.8" width="1.6" height="1.6" fill="#b01e60"/><rect x="249.0" y="677.6" width="1.6" height="1.6" fill="#c81e5a"/><rect x="251.4" y="677.8" width="1.3" height="1.3" fill="#b01e60"/><rect x="237.8" y="629.2" width="1.6" height="1.6" fill="#d8206c"/><rect x="254.5" y="681.1" width="1.0" height="1.0" fill="#e0205e"/><rect x="267.0" y="674.1" width="1.3" height="1.3" fill="#d8206c"/><rect x="264.6" y="672.7" width="1.6" height="1.6" fill="#e0205e"/><rect x="264.3" y="650.3" width="1.6" height="1.6" fill="#d8206c"/><rect x="244.0" y="636.0" width="2.0" height="2.0" fill="#b01e60"/><rect x="245.7" y="632.4" width="1.0" height="1.0" fill="#a01f66"/><rect x="262.1" y="628.5" width="2.0" height="2.0" fill="#e0205e"/><rect x="260.9" y="630.5" width="2.0" height="2.0" fill="#a01f66"/><rect x="254.1" y="683.2" width="2.0" height="2.0" fill="#d8206c"/><rect x="248.1" y="681.8" width="1.6" height="1.6" fill="#e0205e"/><rect x="271.5" y="639.3" width="1.0" height="1.0" fill="#b01e60"/><rect x="271.5" y="638.2" width="1.0" height="1.0" fill="#b01e60"/><rect x="240.6" y="680.3" width="1.3" height="1.3" fill="#d8206c"/><rect x="244.1" y="680.0" width="1.3" height="1.3" fill="#b01e60"/><rect x="242.0" y="678.7" width="1.6" height="1.6" fill="#b01e60"/><rect x="247.8" y="678.1" width="1.3" height="1.3" fill="#e0205e"/><rect x="248.6" y="679.7" width="1.6" height="1.6" fill="#e8307a"/><rect x="273.5" y="641.7" width="2.0" height="2.0" fill="#b01e60"/><rect x="231.4" y="631.2" width="1.3" height="1.3" fill="#d8206c"/><rect x="233.8" y="631.4" width="1.6" height="1.6" fill="#d8206c"/><rect x="251.3" y="644.5" width="1.3" height="1.3" fill="#b01e60"/><rect x="253.0" y="645.0" width="1.3" height="1.3" fill="#b01e60"/><rect x="247.3" y="636.3" width="2.0" height="2.0" fill="#b01e60"/><rect x="248.4" y="635.7" width="1.0" height="1.0" fill="#e0205e"/><rect x="248.1" y="635.3" width="2.0" height="2.0" fill="#c81e5a"/><rect x="263.2" y="631.2" width="1.6" height="1.6" fill="#c81e5a"/><rect x="238.9" y="639.6" width="2.0" height="2.0" fill="#c81e5a"/><rect x="240.4" y="637.9" width="1.6" height="1.6" fill="#e8307a"/><rect x="269.7" y="668.0" width="1.3" height="1.3" fill="#b01e60"/><rect x="271.1" y="667.1" width="1.3" height="1.3" fill="#e8307a"/><rect x="271.3" y="668.9" width="1.3" height="1.3" fill="#a01f66"/><rect x="227.7" y="654.3" width="1.6" height="1.6" fill="#a01f66"/><rect x="243.6" y="634.3" width="2.0" height="2.0" fill="#c81e5a"/><rect x="237.1" y="683.7" width="1.3" height="1.3" fill="#c81e5a"/><rect x="239.1" y="645.2" width="2.0" height="2.0" fill="#c81e5a"/><rect x="240.8" y="678.9" width="1.0" height="1.0" fill="#a01f66"/><rect x="216.4" y="659.2" width="1.0" height="1.0" fill="#d8206c"/><rect x="217.1" y="659.5" width="1.6" height="1.6" fill="#c81e5a"/><rect x="250.2" y="685.2" width="1.0" height="1.0" fill="#b01e60"/><rect x="248.3" y="645.5" width="1.0" height="1.0" fill="#d8206c"/><rect x="246.7" y="646.6" width="1.6" height="1.6" fill="#b01e60"/><rect x="233.3" y="676.8" width="1.6" height="1.6" fill="#b01e60"/><rect x="266.9" y="673.7" width="1.6" height="1.6" fill="#c81e5a"/><rect x="265.0" y="674.0" width="1.3" height="1.3" fill="#c81e5a"/><rect x="248.9" y="632.1" width="1.3" height="1.3" fill="#b01e60"/><rect x="245.8" y="637.1" width="2.0" height="2.0" fill="#b01e60"/><rect x="266.5" y="675.4" width="1.0" height="1.0" fill="#a01f66"/><rect x="254.8" y="649.2" width="1.3" height="1.3" fill="#a01f66"/><rect x="255.8" y="637.8" width="2.0" height="2.0" fill="#e8307a"/><rect x="256.7" y="637.9" width="1.3" height="1.3" fill="#c81e5a"/><rect x="246.2" y="627.4" width="1.6" height="1.6" fill="#c81e5a"/><rect x="248.5" y="648.8" width="1.0" height="1.0" fill="#e8307a"/><rect x="246.7" y="646.3" width="1.0" height="1.0" fill="#c81e5a"/><rect x="267.7" y="631.1" width="2.0" height="2.0" fill="#b01e60"/><rect x="267.6" y="633.6" width="1.0" height="1.0" fill="#e8307a"/><rect x="265.6" y="628.7" width="1.3" height="1.3" fill="#a01f66"/><rect x="217.0" y="647.5" width="1.3" height="1.3" fill="#c81e5a"/><rect x="229.4" y="642.2" width="1.0" height="1.0" fill="#a01f66"/><rect x="225.5" y="645.1" width="1.6" height="1.6" fill="#a01f66"/><rect x="257.4" y="634.9" width="2.0" height="2.0" fill="#a01f66"/><rect x="258.7" y="637.1" width="1.0" height="1.0" fill="#b01e60"/><rect x="261.6" y="636.4" width="2.0" height="2.0" fill="#b01e60"/><rect x="233.7" y="668.8" width="1.0" height="1.0" fill="#b01e60"/><rect x="233.2" y="668.0" width="1.3" height="1.3" fill="#e8307a"/><rect x="243.8" y="636.5" width="2.0" height="2.0" fill="#e0205e"/><rect x="254.6" y="644.5" width="2.0" height="2.0" fill="#d8206c"/><rect x="270.3" y="653.5" width="1.6" height="1.6" fill="#d8206c"/><rect x="270.0" y="681.1" width="1.6" height="1.6" fill="#b01e60"/><rect x="269.5" y="679.7" width="2.0" height="2.0" fill="#a01f66"/><rect x="275.3" y="645.2" width="1.0" height="1.0" fill="#e0205e"/><rect x="279.0" y="642.9" width="2.0" height="2.0" fill="#e0205e"/><rect x="274.4" y="646.0" width="2.0" height="2.0" fill="#c81e5a"/><rect x="268.8" y="663.2" width="1.0" height="1.0" fill="#d8206c"/><rect x="277.1" y="654.4" width="1.0" height="1.0" fill="#b01e60"/><rect x="276.0" y="652.0" width="2.0" height="2.0" fill="#b01e60"/><rect x="263.4" y="632.0" width="1.3" height="1.3" fill="#e0205e"/><rect x="251.0" y="639.8" width="1.6" height="1.6" fill="#c81e5a"/><rect x="232.1" y="638.6" width="1.6" height="1.6" fill="#c81e5a"/><rect x="249.4" y="633.4" width="1.6" height="1.6" fill="#b01e60"/><rect x="249.6" y="631.6" width="1.0" height="1.0" fill="#e8307a"/><rect x="249.8" y="635.7" width="1.6" height="1.6" fill="#e0205e"/><rect x="253.9" y="648.4" width="1.0" height="1.0" fill="#a01f66"/><rect x="253.1" y="644.8" width="1.6" height="1.6" fill="#a01f66"/><rect x="251.4" y="647.3" width="1.6" height="1.6" fill="#e8307a"/><rect x="265.4" y="634.7" width="1.3" height="1.3" fill="#e8307a"/><rect x="268.1" y="637.2" width="1.0" height="1.0" fill="#b01e60"/><rect x="264.7" y="634.9" width="1.3" height="1.3" fill="#a01f66"/><rect x="230.6" y="644.5" width="1.3" height="1.3" fill="#c81e5a"/><rect x="256.8" y="687.2" width="2.0" height="2.0" fill="#a01f66"/><rect x="241.7" y="628.8" width="1.6" height="1.6" fill="#d8206c"/><rect x="258.0" y="639.8" width="1.0" height="1.0" fill="#c81e5a"/><rect x="279.7" y="646.4" width="1.6" height="1.6" fill="#c81e5a"/><rect x="277.7" y="664.5" width="1.6" height="1.6" fill="#a01f66"/><rect x="277.6" y="661.1" width="2.0" height="2.0" fill="#b01e60"/><rect x="224.6" y="651.5" width="1.6" height="1.6" fill="#e8307a"/><rect x="272.8" y="667.1" width="2.0" height="2.0" fill="#d8206c"/><rect x="270.5" y="669.7" width="2.0" height="2.0" fill="#e0205e"/><rect x="266.2" y="683.9" width="1.3" height="1.3" fill="#a01f66"/><rect x="263.8" y="682.6" width="1.6" height="1.6" fill="#a01f66"/><rect x="241.5" y="629.2" width="1.6" height="1.6" fill="#a01f66"/><rect x="225.4" y="647.2" width="1.3" height="1.3" fill="#e0205e"/><rect x="240.4" y="636.1" width="1.3" height="1.3" fill="#e0205e"/><rect x="239.0" y="638.3" width="1.0" height="1.0" fill="#b01e60"/><rect x="243.3" y="634.5" width="1.3" height="1.3" fill="#b01e60"/><rect x="263.5" y="637.6" width="1.3" height="1.3" fill="#e0205e"/><rect x="262.3" y="633.0" width="2.0" height="2.0" fill="#d8206c"/><rect x="253.4" y="627.8" width="2.0" height="2.0" fill="#c81e5a"/><rect x="256.0" y="628.1" width="2.0" height="2.0" fill="#e0205e"/><rect x="252.6" y="640.6" width="2.0" height="2.0" fill="#d8206c"/><rect x="222.6" y="661.3" width="1.0" height="1.0" fill="#e0205e"/><rect x="235.9" y="649.0" width="2.0" height="2.0" fill="#a01f66"/><rect x="239.0" y="648.5" width="1.0" height="1.0" fill="#a01f66"/><rect x="260.2" y="646.0" width="2.0" height="2.0" fill="#b01e60"/><rect x="257.2" y="645.7" width="2.0" height="2.0" fill="#b01e60"/><rect x="258.8" y="646.6" width="1.0" height="1.0" fill="#c81e5a"/><rect x="230.5" y="634.1" width="1.0" height="1.0" fill="#e0205e"/><rect x="275.3" y="646.8" width="1.0" height="1.0" fill="#e8307a"/><rect x="277.6" y="649.6" width="1.0" height="1.0" fill="#e0205e"/><rect x="259.7" y="687.9" width="1.0" height="1.0" fill="#b01e60"/><rect x="260.8" y="686.5" width="1.0" height="1.0" fill="#a01f66"/><rect x="250.5" y="646.8" width="1.0" height="1.0" fill="#a01f66"/><rect x="250.8" y="647.5" width="2.0" height="2.0" fill="#c81e5a"/><rect x="255.5" y="686.1" width="1.6" height="1.6" fill="#e0205e"/><rect x="255.8" y="685.2" width="1.0" height="1.0" fill="#c81e5a"/><rect x="257.1" y="686.4" width="1.6" height="1.6" fill="#e8307a"/><rect x="248.2" y="652.0" width="2.0" height="2.0" fill="#c81e5a"/><rect x="260.9" y="637.7" width="1.3" height="1.3" fill="#e8307a"/><rect x="247.9" y="677.1" width="2.0" height="2.0" fill="#c81e5a"/><rect x="247.9" y="638.5" width="1.6" height="1.6" fill="#d8206c"/><rect x="250.4" y="638.2" width="1.6" height="1.6" fill="#c81e5a"/><rect x="254.4" y="633.2" width="1.0" height="1.0" fill="#e0205e"/><rect x="258.8" y="651.9" width="1.6" height="1.6" fill="#a01f66"/><rect x="228.4" y="641.0" width="1.6" height="1.6" fill="#e8307a"/><rect x="229.4" y="639.4" width="1.6" height="1.6" fill="#c81e5a"/><rect x="227.1" y="638.1" width="1.3" height="1.3" fill="#a01f66"/><rect x="236.6" y="635.8" width="1.0" height="1.0" fill="#d8206c"/><rect x="272.0" y="635.3" width="1.3" height="1.3" fill="#a01f66"/><rect x="220.5" y="669.7" width="2.0" height="2.0" fill="#e0205e"/><rect x="222.5" y="666.4" width="1.6" height="1.6" fill="#c81e5a"/><rect x="241.1" y="641.2" width="1.6" height="1.6" fill="#a01f66"/><rect x="241.6" y="644.1" width="1.0" height="1.0" fill="#e8307a"/><rect x="234.2" y="653.6" width="1.6" height="1.6" fill="#e8307a"/><rect x="248.1" y="636.6" width="1.6" height="1.6" fill="#c81e5a"/><rect x="247.5" y="632.4" width="1.3" height="1.3" fill="#e0205e"/><rect x="245.4" y="633.4" width="1.6" height="1.6" fill="#b01e60"/><rect x="252.8" y="691.1" width="1.3" height="1.3" fill="#e8307a"/><rect x="268.6" y="645.5" width="1.3" height="1.3" fill="#b01e60"/><rect x="270.8" y="647.1" width="2.0" height="2.0" fill="#d8206c"/><rect x="251.3" y="666.3" width="1.6" height="1.6" fill="#b01e60"/><rect x="252.2" y="667.8" width="1.0" height="1.0" fill="#e8307a"/><rect x="247.0" y="630.8" width="1.3" height="1.3" fill="#e8307a"/><rect x="245.0" y="633.5" width="1.0" height="1.0" fill="#e8307a"/><rect x="261.5" y="640.3" width="1.0" height="1.0" fill="#b01e60"/><rect x="276.1" y="650.5" width="1.0" height="1.0" fill="#b01e60"/>
<ellipse cx="98.7" cy="658.5" rx="36.0" ry="37.8" fill="#2d2780" stroke="#5551bb" stroke-width="0.9"/>
<ellipse cx="98.7" cy="658.5" rx="35.2" ry="37.0" fill="#fff" filter="url(#nzm)"/>
<ellipse cx="98.7" cy="658.5" rx="35.2" ry="37.0" fill="#fff" filter="url(#nzd)"/>
<ellipse cx="98.7" cy="658.5" rx="35.2" ry="37.0" fill="#fff" filter="url(#nzl)"/>
<ellipse cx="323.2" cy="657.3" rx="38.3" ry="38.0" fill="#2d2780" stroke="#5551bb" stroke-width="0.9"/>
<ellipse cx="323.2" cy="657.3" rx="37.5" ry="37.2" fill="#fff" filter="url(#nzm)"/>
<ellipse cx="323.2" cy="657.3" rx="37.5" ry="37.2" fill="#fff" filter="url(#nzd)"/>
<ellipse cx="323.2" cy="657.3" rx="37.5" ry="37.2" fill="#fff" filter="url(#nzl)"/>
</svg>
<svg x="130.2" y="707.5" width="162.70" height="92.00" viewBox="130.2 707.5 162.70 92.00" overflow="hidden">
<rect x="130.2" y="707.5" width="162.70" height="92.00" fill="#000"/>
<ellipse cx="171.7" cy="751.7" rx="38.5" ry="38.1" fill="#2d2780" stroke="#5551bb" stroke-width="0.9"/>
<ellipse cx="171.7" cy="751.7" rx="37.7" ry="37.3" fill="#fff" filter="url(#nzm)"/>
<ellipse cx="171.7" cy="751.7" rx="37.7" ry="37.3" fill="#fff" filter="url(#nzd)"/>
<ellipse cx="171.7" cy="751.7" rx="37.7" ry="37.3" fill="#fff" filter="url(#nzl)"/>
<ellipse cx="251.2" cy="752.6" rx="38.0" ry="38.4" fill="#2d2780" stroke="#5551bb" stroke-width="0.9"/>
<ellipse cx="251.2" cy="752.6" rx="37.2" ry="37.6" fill="#fff" filter="url(#nzm)"/>
<ellipse cx="251.2" cy="752.6" rx="37.2" ry="37.6" fill="#fff" filter="url(#nzd)"/>
<ellipse cx="251.2" cy="752.6" rx="37.2" ry="37.6" fill="#fff" filter="url(#nzl)"/>
</svg>
<text x="296.60" y="668.60" font-size="27.2" text-anchor="start" fill="#0d0d0d" stroke="#0d0d0d" stroke-width="0.3" textLength="98.20" lengthAdjust="spacingAndGlyphs">+DMSO</text>
<text x="294.20" y="764.10" font-size="27" text-anchor="start" fill="#0d0d0d" stroke="#0d0d0d" stroke-width="0.3" textLength="143.80" lengthAdjust="spacingAndGlyphs">+60 <tspan font-family="Liberation Serif, serif">μ</tspan>M #79</text>
<text x="576.40" y="602.90" font-size="27" text-anchor="start" fill="#0d0d0d" stroke="#0d0d0d" stroke-width="0.3">39 nM Remdesivir</text>
<svg x="605.5" y="610.5" width="161.30" height="91.10" viewBox="605.5 610.5 161.30 91.10" overflow="hidden">
<rect x="605.5" y="610.5" width="161.30" height="91.10" fill="#000"/>
<ellipse cx="647.9" cy="656.9" rx="36.0" ry="38.2" fill="#2d2780" stroke="#5551bb" stroke-width="0.9"/>
<ellipse cx="647.9" cy="656.9" rx="35.2" ry="37.4" fill="#fff" filter="url(#nzm)"/>
<ellipse cx="647.9" cy="656.9" rx="35.2" ry="37.4" fill="#fff" filter="url(#nzd)"/>
<ellipse cx="647.9" cy="656.9" rx="35.2" ry="37.4" fill="#fff" filter="url(#nzl)"/>
<clipPath id="w7"><ellipse cx="647.9" cy="656.9" rx="35.2" ry="37.4"/></clipPath><g clip-path="url(#w7)"><g filter="url(#hz)" opacity="0.5">
<ellipse cx="628.1" cy="664.5" rx="16.2" ry="17.2" fill="#b0206a"/>
<ellipse cx="640.7" cy="681.7" rx="16.2" ry="17.2" fill="#b0206a"/>
<ellipse cx="651.5" cy="630.2" rx="10.8" ry="11.5" fill="#b0206a"/>
</g></g>
<rect x="645.7" y="681.5" width="1.3" height="1.3" fill="#d8206c"/><rect x="650.9" y="682.9" width="2.0" height="2.0" fill="#e8307a"/><rect x="649.8" y="685.3" width="1.0" height="1.0" fill="#e8307a"/><rect x="629.2" y="667.3" width="1.0" height="1.0" fill="#c81e5a"/><rect x="623.5" y="661.8" width="1.3" height="1.3" fill="#b01e60"/><rect x="676.6" y="637.6" width="2.0" height="2.0" fill="#c81e5a"/><rect x="660.6" y="682.5" width="1.3" height="1.3" fill="#c81e5a"/><rect x="661.7" y="680.2" width="2.0" height="2.0" fill="#a01f66"/><rect x="680.1" y="648.9" width="2.0" height="2.0" fill="#d8206c"/><rect x="634.3" y="655.5" width="1.3" height="1.3" fill="#e8307a"/><rect x="634.7" y="656.7" width="2.0" height="2.0" fill="#e8307a"/><rect x="637.5" y="658.0" width="1.3" height="1.3" fill="#e8307a"/><rect x="619.9" y="674.6" width="2.0" height="2.0" fill="#a01f66"/><rect x="628.6" y="677.8" width="1.3" height="1.3" fill="#c81e5a"/><rect x="629.0" y="678.1" width="1.3" height="1.3" fill="#d8206c"/><rect x="624.3" y="663.3" width="1.6" height="1.6" fill="#b01e60"/><rect x="626.5" y="663.0" width="1.3" height="1.3" fill="#e0205e"/><rect x="640.3" y="678.6" width="1.6" height="1.6" fill="#c81e5a"/><rect x="647.4" y="635.8" width="1.0" height="1.0" fill="#d8206c"/><rect x="645.6" y="638.0" width="1.0" height="1.0" fill="#c81e5a"/><rect x="655.1" y="638.5" width="2.0" height="2.0" fill="#c81e5a"/><rect x="635.5" y="675.9" width="1.0" height="1.0" fill="#e8307a"/><rect x="636.6" y="678.5" width="1.0" height="1.0" fill="#e8307a"/><rect x="668.0" y="681.3" width="1.0" height="1.0" fill="#d8206c"/><rect x="669.0" y="678.4" width="2.0" height="2.0" fill="#b01e60"/><rect x="646.9" y="660.7" width="1.3" height="1.3" fill="#d8206c"/><rect x="650.4" y="640.7" width="1.3" height="1.3" fill="#e0205e"/><rect x="653.0" y="640.0" width="2.0" height="2.0" fill="#a01f66"/><rect x="652.1" y="641.5" width="1.6" height="1.6" fill="#b01e60"/><rect x="648.1" y="668.9" width="1.6" height="1.6" fill="#a01f66"/><rect x="628.1" y="673.6" width="1.3" height="1.3" fill="#e8307a"/><rect x="630.6" y="675.3" width="2.0" height="2.0" fill="#c81e5a"/><rect x="630.8" y="660.5" width="1.0" height="1.0" fill="#b01e60"/><rect x="629.4" y="662.0" width="2.0" height="2.0" fill="#c81e5a"/><rect x="628.7" y="661.4" width="2.0" height="2.0" fill="#a01f66"/><rect x="634.7" y="642.0" width="1.3" height="1.3" fill="#e0205e"/><rect x="634.0" y="644.1" width="1.0" height="1.0" fill="#a01f66"/><rect x="637.7" y="644.3" width="1.3" height="1.3" fill="#a01f66"/><rect x="619.2" y="650.4" width="1.3" height="1.3" fill="#c81e5a"/><rect x="618.3" y="653.1" width="1.6" height="1.6" fill="#a01f66"/><rect x="628.2" y="683.2" width="2.0" height="2.0" fill="#a01f66"/><rect x="623.7" y="683.1" width="1.6" height="1.6" fill="#d8206c"/><rect x="649.0" y="631.3" width="1.0" height="1.0" fill="#b01e60"/><rect x="638.0" y="629.1" width="1.6" height="1.6" fill="#e0205e"/><rect x="634.8" y="685.5" width="1.6" height="1.6" fill="#d8206c"/><rect x="659.3" y="631.6" width="1.6" height="1.6" fill="#e8307a"/><rect x="657.5" y="630.8" width="1.6" height="1.6" fill="#b01e60"/><rect x="660.1" y="632.3" width="1.0" height="1.0" fill="#e8307a"/><rect x="632.9" y="680.9" width="1.0" height="1.0" fill="#a01f66"/><rect x="642.7" y="663.6" width="1.0" height="1.0" fill="#e8307a"/><rect x="629.4" y="639.3" width="2.0" height="2.0" fill="#b01e60"/><rect x="629.4" y="642.3" width="2.0" height="2.0" fill="#d8206c"/><rect x="668.4" y="667.8" width="1.6" height="1.6" fill="#d8206c"/><rect x="670.2" y="665.8" width="1.0" height="1.0" fill="#e0205e"/><rect x="666.3" y="667.3" width="1.3" height="1.3" fill="#e0205e"/><rect x="661.2" y="626.4" width="1.3" height="1.3" fill="#e0205e"/><rect x="634.3" y="683.4" width="2.0" height="2.0" fill="#c81e5a"/><rect x="636.2" y="683.6" width="1.3" height="1.3" fill="#c81e5a"/><rect x="667.2" y="674.7" width="1.3" height="1.3" fill="#d8206c"/><rect x="616.6" y="655.9" width="2.0" height="2.0" fill="#e0205e"/><rect x="675.5" y="650.1" width="2.0" height="2.0" fill="#e8307a"/><rect x="676.5" y="652.1" width="2.0" height="2.0" fill="#e0205e"/><rect x="624.5" y="644.6" width="2.0" height="2.0" fill="#e8307a"/><rect x="650.6" y="638.4" width="1.6" height="1.6" fill="#b01e60"/><rect x="638.5" y="684.4" width="1.6" height="1.6" fill="#d8206c"/><rect x="653.7" y="679.7" width="1.3" height="1.3" fill="#b01e60"/><rect x="655.5" y="679.7" width="1.3" height="1.3" fill="#d8206c"/><rect x="648.9" y="678.6" width="1.6" height="1.6" fill="#b01e60"/><rect x="628.5" y="681.2" width="1.0" height="1.0" fill="#d8206c"/><rect x="619.0" y="654.6" width="1.0" height="1.0" fill="#a01f66"/><rect x="620.5" y="655.0" width="2.0" height="2.0" fill="#e8307a"/><rect x="629.7" y="685.1" width="1.0" height="1.0" fill="#c81e5a"/><rect x="628.4" y="684.2" width="2.0" height="2.0" fill="#b01e60"/><rect x="640.8" y="681.6" width="2.0" height="2.0" fill="#a01f66"/><rect x="645.0" y="683.0" width="1.6" height="1.6" fill="#d8206c"/><rect x="676.5" y="659.9" width="1.6" height="1.6" fill="#e8307a"/><rect x="678.1" y="659.4" width="2.0" height="2.0" fill="#a01f66"/><rect x="678.7" y="660.4" width="1.3" height="1.3" fill="#e0205e"/><rect x="660.4" y="673.2" width="1.3" height="1.3" fill="#e0205e"/><rect x="616.5" y="646.6" width="2.0" height="2.0" fill="#a01f66"/><rect x="661.1" y="637.8" width="1.0" height="1.0" fill="#e8307a"/><rect x="661.8" y="640.2" width="1.0" height="1.0" fill="#e0205e"/><rect x="659.9" y="641.8" width="1.0" height="1.0" fill="#c81e5a"/><rect x="635.4" y="656.0" width="1.0" height="1.0" fill="#e8307a"/><rect x="678.1" y="654.3" width="1.0" height="1.0" fill="#a01f66"/><rect x="669.2" y="660.2" width="1.0" height="1.0" fill="#c81e5a"/><rect x="671.7" y="658.0" width="2.0" height="2.0" fill="#c81e5a"/><rect x="670.7" y="660.3" width="1.0" height="1.0" fill="#a01f66"/><rect x="616.5" y="655.7" width="1.3" height="1.3" fill="#a01f66"/><rect x="625.4" y="643.1" width="1.3" height="1.3" fill="#d8206c"/><rect x="621.4" y="645.3" width="1.3" height="1.3" fill="#e8307a"/><rect x="667.6" y="681.0" width="1.0" height="1.0" fill="#b01e60"/><rect x="663.8" y="681.0" width="1.0" height="1.0" fill="#e0205e"/><rect x="636.3" y="649.0" width="1.6" height="1.6" fill="#a01f66"/><rect x="665.1" y="668.6" width="1.0" height="1.0" fill="#c81e5a"/><rect x="642.9" y="639.6" width="1.6" height="1.6" fill="#b01e60"/><rect x="635.0" y="642.3" width="2.0" height="2.0" fill="#b01e60"/><rect x="629.6" y="682.9" width="1.0" height="1.0" fill="#b01e60"/><rect x="642.6" y="627.9" width="1.3" height="1.3" fill="#e0205e"/><rect x="642.9" y="626.2" width="1.3" height="1.3" fill="#c81e5a"/><rect x="652.4" y="673.6" width="2.0" height="2.0" fill="#e0205e"/><rect x="616.1" y="651.0" width="1.0" height="1.0" fill="#e8307a"/><rect x="665.2" y="679.6" width="2.0" height="2.0" fill="#b01e60"/><rect x="661.5" y="681.8" width="1.0" height="1.0" fill="#e8307a"/><rect x="620.0" y="647.1" width="1.0" height="1.0" fill="#b01e60"/><rect x="647.3" y="662.0" width="1.6" height="1.6" fill="#e8307a"/><rect x="615.2" y="659.8" width="1.3" height="1.3" fill="#d8206c"/><rect x="614.6" y="664.8" width="1.0" height="1.0" fill="#c81e5a"/><rect x="615.0" y="661.5" width="1.3" height="1.3" fill="#e0205e"/><rect x="651.0" y="668.6" width="1.0" height="1.0" fill="#a01f66"/><rect x="625.4" y="639.5" width="1.0" height="1.0" fill="#c81e5a"/><rect x="625.0" y="676.7" width="1.6" height="1.6" fill="#e0205e"/><rect x="621.4" y="680.3" width="1.0" height="1.0" fill="#a01f66"/><rect x="628.0" y="637.4" width="1.6" height="1.6" fill="#e8307a"/><rect x="627.7" y="636.6" width="1.3" height="1.3" fill="#c81e5a"/><rect x="630.6" y="638.5" width="1.3" height="1.3" fill="#e0205e"/><rect x="637.1" y="682.8" width="1.0" height="1.0" fill="#e0205e"/><rect x="638.8" y="682.6" width="1.3" height="1.3" fill="#e0205e"/><rect x="650.8" y="637.4" width="1.3" height="1.3" fill="#b01e60"/><rect x="660.0" y="628.8" width="1.3" height="1.3" fill="#a01f66"/><rect x="624.1" y="668.7" width="1.0" height="1.0" fill="#b01e60"/><rect x="623.2" y="669.3" width="1.6" height="1.6" fill="#a01f66"/><rect x="640.5" y="635.7" width="1.0" height="1.0" fill="#e8307a"/><rect x="626.6" y="675.1" width="1.6" height="1.6" fill="#b01e60"/><rect x="647.3" y="652.8" width="1.0" height="1.0" fill="#e0205e"/><rect x="645.4" y="651.1" width="1.6" height="1.6" fill="#c81e5a"/><rect x="643.7" y="654.0" width="2.0" height="2.0" fill="#e8307a"/><rect x="645.0" y="658.2" width="1.6" height="1.6" fill="#c81e5a"/><rect x="645.9" y="657.0" width="1.0" height="1.0" fill="#b01e60"/><rect x="646.0" y="657.6" width="1.6" height="1.6" fill="#e0205e"/><rect x="642.5" y="650.3" width="2.0" height="2.0" fill="#e8307a"/><rect x="646.9" y="690.7" width="1.0" height="1.0" fill="#a01f66"/><rect x="648.8" y="689.5" width="1.3" height="1.3" fill="#a01f66"/><rect x="638.8" y="660.9" width="1.6" height="1.6" fill="#b01e60"/><rect x="636.9" y="658.1" width="1.0" height="1.0" fill="#e8307a"/><rect x="637.6" y="661.1" width="1.6" height="1.6" fill="#b01e60"/><rect x="628.4" y="658.8" width="2.0" height="2.0" fill="#e8307a"/><rect x="628.7" y="657.4" width="1.3" height="1.3" fill="#b01e60"/><rect x="634.6" y="689.6" width="1.3" height="1.3" fill="#a01f66"/><rect x="629.8" y="665.1" width="2.0" height="2.0" fill="#c81e5a"/><rect x="652.5" y="629.0" width="1.3" height="1.3" fill="#d8206c"/><rect x="654.5" y="683.9" width="1.3" height="1.3" fill="#c81e5a"/><rect x="652.6" y="654.6" width="1.3" height="1.3" fill="#b01e60"/><rect x="623.5" y="652.0" width="1.0" height="1.0" fill="#e0205e"/><rect x="622.4" y="652.2" width="1.3" height="1.3" fill="#d8206c"/><rect x="625.3" y="675.1" width="1.6" height="1.6" fill="#e0205e"/><rect x="633.7" y="660.3" width="2.0" height="2.0" fill="#e0205e"/><rect x="668.2" y="671.3" width="1.6" height="1.6" fill="#b01e60"/><rect x="643.0" y="688.1" width="1.6" height="1.6" fill="#a01f66"/><rect x="645.0" y="689.3" width="1.6" height="1.6" fill="#e0205e"/><rect x="643.7" y="687.8" width="1.3" height="1.3" fill="#e8307a"/><rect x="637.6" y="638.6" width="1.6" height="1.6" fill="#c81e5a"/><rect x="639.4" y="656.7" width="1.3" height="1.3" fill="#c81e5a"/><rect x="632.1" y="630.4" width="1.0" height="1.0" fill="#d8206c"/><rect x="631.8" y="630.0" width="1.3" height="1.3" fill="#a01f66"/><rect x="631.4" y="648.6" width="2.0" height="2.0" fill="#e8307a"/><rect x="617.2" y="667.8" width="1.0" height="1.0" fill="#d8206c"/><rect x="614.7" y="666.8" width="1.3" height="1.3" fill="#d8206c"/><rect x="616.3" y="670.9" width="1.0" height="1.0" fill="#c81e5a"/><rect x="645.3" y="661.6" width="1.0" height="1.0" fill="#a01f66"/><rect x="640.5" y="685.7" width="1.0" height="1.0" fill="#e8307a"/><rect x="660.7" y="628.0" width="1.3" height="1.3" fill="#b01e60"/><rect x="631.4" y="671.5" width="1.6" height="1.6" fill="#c81e5a"/><rect x="629.2" y="678.3" width="1.3" height="1.3" fill="#d8206c"/><rect x="661.1" y="675.1" width="2.0" height="2.0" fill="#e8307a"/><rect x="624.9" y="653.1" width="1.3" height="1.3" fill="#b01e60"/><rect x="625.2" y="656.8" width="2.0" height="2.0" fill="#a01f66"/><rect x="625.7" y="657.5" width="1.3" height="1.3" fill="#b01e60"/><rect x="656.9" y="686.9" width="2.0" height="2.0" fill="#e0205e"/><rect x="636.5" y="685.6" width="1.3" height="1.3" fill="#c81e5a"/><rect x="637.4" y="689.7" width="2.0" height="2.0" fill="#a01f66"/><rect x="663.3" y="655.2" width="1.3" height="1.3" fill="#e8307a"/><rect x="660.8" y="651.1" width="1.3" height="1.3" fill="#e8307a"/><rect x="658.6" y="679.9" width="1.3" height="1.3" fill="#e0205e"/><rect x="658.5" y="681.1" width="1.0" height="1.0" fill="#a01f66"/><rect x="660.4" y="679.7" width="1.3" height="1.3" fill="#e8307a"/><rect x="658.2" y="672.9" width="1.0" height="1.0" fill="#d8206c"/><rect x="658.4" y="674.3" width="1.6" height="1.6" fill="#e8307a"/><rect x="658.7" y="672.3" width="1.6" height="1.6" fill="#c81e5a"/><rect x="680.6" y="654.6" width="1.3" height="1.3" fill="#e0205e"/><rect x="625.6" y="664.6" width="2.0" height="2.0" fill="#b01e60"/><rect x="637.0" y="637.4" width="2.0" height="2.0" fill="#d8206c"/><rect x="632.8" y="634.0" width="2.0" height="2.0" fill="#d8206c"/><rect x="652.6" y="642.6" width="1.0" height="1.0" fill="#c81e5a"/><rect x="628.3" y="631.7" width="1.3" height="1.3" fill="#a01f66"/><rect x="662.6" y="674.5" width="1.3" height="1.3" fill="#e8307a"/><rect x="640.7" y="686.8" width="1.0" height="1.0" fill="#e0205e"/><rect x="642.3" y="687.6" width="1.6" height="1.6" fill="#a01f66"/><rect x="644.7" y="627.1" width="1.0" height="1.0" fill="#b01e60"/><rect x="644.9" y="623.8" width="1.6" height="1.6" fill="#c81e5a"/><rect x="619.9" y="659.4" width="1.0" height="1.0" fill="#e0205e"/><rect x="619.2" y="659.7" width="1.3" height="1.3" fill="#c81e5a"/><rect x="619.9" y="667.7" width="1.6" height="1.6" fill="#c81e5a"/><rect x="668.6" y="659.7" width="1.3" height="1.3" fill="#d8206c"/><rect x="666.5" y="657.4" width="1.3" height="1.3" fill="#d8206c"/><rect x="639.0" y="651.9" width="1.0" height="1.0" fill="#e8307a"/><rect x="637.1" y="649.6" width="2.0" height="2.0" fill="#d8206c"/><rect x="647.3" y="665.9" width="1.6" height="1.6" fill="#d8206c"/><rect x="644.6" y="663.9" width="2.0" height="2.0" fill="#d8206c"/><rect x="623.0" y="646.4" width="1.6" height="1.6" fill="#c81e5a"/><rect x="647.8" y="690.3" width="1.0" height="1.0" fill="#c81e5a"/><rect x="673.9" y="669.5" width="2.0" height="2.0" fill="#b01e60"/><rect x="661.2" y="684.3" width="2.0" height="2.0" fill="#d8206c"/><rect x="627.2" y="670.0" width="2.0" height="2.0" fill="#e8307a"/><rect x="630.2" y="670.3" width="1.3" height="1.3" fill="#b01e60"/><rect x="630.4" y="672.1" width="1.6" height="1.6" fill="#d8206c"/><rect x="641.1" y="685.7" width="1.3" height="1.3" fill="#c81e5a"/><rect x="653.7" y="678.4" width="1.6" height="1.6" fill="#e8307a"/><rect x="643.3" y="673.9" width="1.0" height="1.0" fill="#b01e60"/><rect x="624.2" y="666.9" width="1.3" height="1.3" fill="#e8307a"/><rect x="627.3" y="645.0" width="1.0" height="1.0" fill="#d8206c"/><rect x="662.2" y="679.0" width="1.6" height="1.6" fill="#d8206c"/><rect x="659.1" y="676.5" width="1.6" height="1.6" fill="#e8307a"/><rect x="626.1" y="666.5" width="1.3" height="1.3" fill="#e0205e"/><rect x="626.4" y="666.8" width="1.3" height="1.3" fill="#a01f66"/><rect x="648.4" y="629.6" width="2.0" height="2.0" fill="#d8206c"/><rect x="652.2" y="677.5" width="1.6" height="1.6" fill="#e0205e"/><rect x="651.9" y="677.1" width="1.3" height="1.3" fill="#b01e60"/><rect x="655.6" y="689.3" width="2.0" height="2.0" fill="#b01e60"/><rect x="645.3" y="684.7" width="2.0" height="2.0" fill="#e0205e"/><rect x="645.0" y="683.3" width="1.0" height="1.0" fill="#b01e60"/><rect x="676.3" y="653.3" width="2.0" height="2.0" fill="#e0205e"/><rect x="677.8" y="653.6" width="2.0" height="2.0" fill="#d8206c"/><rect x="619.0" y="641.2" width="1.3" height="1.3" fill="#d8206c"/><rect x="648.6" y="674.7" width="1.3" height="1.3" fill="#e8307a"/><rect x="651.9" y="678.0" width="1.3" height="1.3" fill="#e0205e"/><rect x="646.5" y="679.9" width="1.3" height="1.3" fill="#e8307a"/><rect x="652.9" y="622.5" width="1.3" height="1.3" fill="#e0205e"/><rect x="636.3" y="629.7" width="1.0" height="1.0" fill="#e8307a"/><rect x="655.9" y="642.6" width="1.6" height="1.6" fill="#b01e60"/><rect x="658.9" y="653.0" width="2.0" height="2.0" fill="#a01f66"/><rect x="659.6" y="656.3" width="1.3" height="1.3" fill="#d8206c"/><rect x="661.8" y="657.4" width="1.3" height="1.3" fill="#c81e5a"/><rect x="654.4" y="676.4" width="2.0" height="2.0" fill="#a01f66"/><rect x="667.9" y="670.4" width="2.0" height="2.0" fill="#e0205e"/><rect x="666.5" y="658.4" width="1.6" height="1.6" fill="#d8206c"/><rect x="666.8" y="660.2" width="1.0" height="1.0" fill="#b01e60"/><rect x="652.5" y="675.4" width="1.0" height="1.0" fill="#d8206c"/><rect x="653.7" y="676.0" width="2.0" height="2.0" fill="#d8206c"/><rect x="652.9" y="675.8" width="2.0" height="2.0" fill="#e8307a"/><rect x="663.8" y="642.6" width="1.3" height="1.3" fill="#b01e60"/><rect x="663.3" y="644.9" width="1.6" height="1.6" fill="#e8307a"/><rect x="662.3" y="643.8" width="2.0" height="2.0" fill="#d8206c"/><rect x="625.9" y="636.4" width="1.0" height="1.0" fill="#b01e60"/><rect x="643.8" y="682.7" width="1.3" height="1.3" fill="#b01e60"/><rect x="640.1" y="629.0" width="1.3" height="1.3" fill="#b01e60"/><rect x="637.3" y="630.1" width="2.0" height="2.0" fill="#a01f66"/><rect x="638.1" y="628.0" width="1.3" height="1.3" fill="#e0205e"/><rect x="648.9" y="686.3" width="2.0" height="2.0" fill="#b01e60"/><rect x="651.3" y="685.4" width="1.3" height="1.3" fill="#d8206c"/><rect x="632.6" y="626.6" width="2.0" height="2.0" fill="#c81e5a"/><rect x="641.3" y="656.0" width="1.6" height="1.6" fill="#c81e5a"/><rect x="640.6" y="656.0" width="2.0" height="2.0" fill="#e8307a"/><rect x="641.2" y="655.8" width="1.6" height="1.6" fill="#b01e60"/><rect x="643.0" y="680.4" width="1.6" height="1.6" fill="#b01e60"/><rect x="661.2" y="627.8" width="1.3" height="1.3" fill="#d8206c"/><rect x="640.1" y="647.4" width="2.0" height="2.0" fill="#e0205e"/><rect x="630.8" y="677.3" width="2.0" height="2.0" fill="#e8307a"/><rect x="621.9" y="680.1" width="1.6" height="1.6" fill="#a01f66"/><rect x="616.5" y="662.1" width="1.3" height="1.3" fill="#a01f66"/><rect x="624.3" y="639.6" width="1.6" height="1.6" fill="#e8307a"/><rect x="660.5" y="648.2" width="1.3" height="1.3" fill="#d8206c"/><rect x="661.8" y="648.7" width="2.0" height="2.0" fill="#d8206c"/><rect x="640.6" y="688.8" width="1.0" height="1.0" fill="#a01f66"/><rect x="642.1" y="688.1" width="2.0" height="2.0" fill="#c81e5a"/><rect x="629.2" y="657.5" width="1.6" height="1.6" fill="#d8206c"/><rect x="626.1" y="656.4" width="1.3" height="1.3" fill="#e8307a"/><rect x="627.7" y="658.2" width="1.0" height="1.0" fill="#a01f66"/>
<ellipse cx="723.2" cy="657.0" rx="36.1" ry="38.0" fill="#2d2780" stroke="#5551bb" stroke-width="0.9"/>
<ellipse cx="723.2" cy="657.0" rx="35.3" ry="37.2" fill="#fff" filter="url(#nzm)"/>
<ellipse cx="723.2" cy="657.0" rx="35.3" ry="37.2" fill="#fff" filter="url(#nzd)"/>
<ellipse cx="723.2" cy="657.0" rx="35.3" ry="37.2" fill="#fff" filter="url(#nzl)"/>
<clipPath id="w8"><ellipse cx="723.2" cy="657.0" rx="35.3" ry="37.2"/></clipPath><g clip-path="url(#w8)"><g filter="url(#hz)" opacity="0.5">
<ellipse cx="723.2" cy="638.0" rx="12.6" ry="13.3" fill="#b0206a"/>
<ellipse cx="732.2" cy="679.8" rx="10.8" ry="11.4" fill="#b0206a"/>
<ellipse cx="696.1" cy="668.4" rx="9.0" ry="9.5" fill="#b0206a"/>
</g></g>
<rect x="724.4" y="673.5" width="2.0" height="2.0" fill="#d8206c"/><rect x="733.5" y="685.3" width="1.0" height="1.0" fill="#e0205e"/><rect x="732.5" y="683.9" width="1.3" height="1.3" fill="#c81e5a"/><rect x="735.6" y="672.7" width="1.6" height="1.6" fill="#b01e60"/><rect x="735.7" y="673.4" width="1.0" height="1.0" fill="#e8307a"/><rect x="750.2" y="649.9" width="2.0" height="2.0" fill="#a01f66"/><rect x="754.6" y="647.5" width="1.0" height="1.0" fill="#d8206c"/><rect x="716.2" y="667.4" width="1.0" height="1.0" fill="#a01f66"/><rect x="714.3" y="670.0" width="1.6" height="1.6" fill="#e0205e"/><rect x="717.7" y="630.5" width="1.6" height="1.6" fill="#e8307a"/><rect x="720.9" y="629.0" width="1.6" height="1.6" fill="#d8206c"/><rect x="733.3" y="687.3" width="1.6" height="1.6" fill="#d8206c"/><rect x="742.9" y="657.5" width="1.0" height="1.0" fill="#a01f66"/><rect x="733.2" y="684.7" width="1.6" height="1.6" fill="#e8307a"/><rect x="730.9" y="666.3" width="1.0" height="1.0" fill="#e0205e"/><rect x="733.7" y="674.9" width="2.0" height="2.0" fill="#c81e5a"/><rect x="706.8" y="633.8" width="1.6" height="1.6" fill="#e0205e"/><rect x="704.0" y="631.1" width="1.0" height="1.0" fill="#b01e60"/><rect x="738.4" y="675.5" width="2.0" height="2.0" fill="#d8206c"/><rect x="739.0" y="674.6" width="1.0" height="1.0" fill="#e8307a"/><rect x="703.5" y="665.0" width="1.0" height="1.0" fill="#e8307a"/><rect x="705.4" y="664.6" width="1.6" height="1.6" fill="#e0205e"/><rect x="742.5" y="640.7" width="1.0" height="1.0" fill="#e8307a"/><rect x="748.9" y="644.2" width="1.0" height="1.0" fill="#c81e5a"/><rect x="748.9" y="644.2" width="1.6" height="1.6" fill="#c81e5a"/><rect x="752.0" y="646.1" width="1.6" height="1.6" fill="#c81e5a"/><rect x="752.3" y="650.9" width="1.3" height="1.3" fill="#d8206c"/><rect x="750.3" y="649.7" width="2.0" height="2.0" fill="#e0205e"/><rect x="740.2" y="675.4" width="1.6" height="1.6" fill="#d8206c"/><rect x="723.1" y="685.0" width="1.3" height="1.3" fill="#b01e60"/><rect x="723.2" y="683.5" width="2.0" height="2.0" fill="#c81e5a"/><rect x="723.2" y="684.8" width="1.3" height="1.3" fill="#e8307a"/><rect x="716.9" y="639.5" width="2.0" height="2.0" fill="#a01f66"/><rect x="696.2" y="656.7" width="1.6" height="1.6" fill="#d8206c"/><rect x="699.7" y="654.8" width="1.3" height="1.3" fill="#b01e60"/><rect x="698.4" y="655.3" width="1.0" height="1.0" fill="#c81e5a"/><rect x="737.0" y="633.2" width="1.0" height="1.0" fill="#e8307a"/><rect x="729.0" y="661.4" width="2.0" height="2.0" fill="#a01f66"/><rect x="728.7" y="680.9" width="1.6" height="1.6" fill="#e8307a"/><rect x="738.6" y="636.2" width="1.3" height="1.3" fill="#e0205e"/><rect x="740.1" y="649.1" width="1.3" height="1.3" fill="#e8307a"/><rect x="735.5" y="648.1" width="1.3" height="1.3" fill="#d8206c"/><rect x="739.8" y="649.9" width="2.0" height="2.0" fill="#d8206c"/><rect x="712.5" y="650.2" width="1.0" height="1.0" fill="#c81e5a"/><rect x="700.7" y="635.5" width="1.3" height="1.3" fill="#e0205e"/><rect x="728.8" y="636.2" width="1.3" height="1.3" fill="#b01e60"/><rect x="728.2" y="635.6" width="2.0" height="2.0" fill="#e8307a"/><rect x="729.9" y="636.3" width="2.0" height="2.0" fill="#c81e5a"/><rect x="705.5" y="640.4" width="1.0" height="1.0" fill="#a01f66"/><rect x="698.6" y="647.0" width="1.0" height="1.0" fill="#d8206c"/><rect x="706.9" y="672.6" width="1.6" height="1.6" fill="#e8307a"/><rect x="708.8" y="673.6" width="1.6" height="1.6" fill="#a01f66"/><rect x="737.4" y="641.6" width="1.6" height="1.6" fill="#d8206c"/><rect x="737.2" y="643.1" width="1.6" height="1.6" fill="#e0205e"/><rect x="706.5" y="636.4" width="1.6" height="1.6" fill="#d8206c"/><rect x="702.1" y="635.1" width="1.0" height="1.0" fill="#b01e60"/><rect x="725.7" y="676.6" width="1.3" height="1.3" fill="#b01e60"/><rect x="724.7" y="675.2" width="1.6" height="1.6" fill="#d8206c"/><rect x="720.2" y="651.8" width="1.6" height="1.6" fill="#c81e5a"/><rect x="709.0" y="631.9" width="1.6" height="1.6" fill="#b01e60"/><rect x="706.2" y="633.1" width="1.3" height="1.3" fill="#b01e60"/><rect x="727.0" y="646.6" width="1.3" height="1.3" fill="#a01f66"/><rect x="737.5" y="653.4" width="2.0" height="2.0" fill="#e0205e"/><rect x="707.0" y="660.8" width="1.0" height="1.0" fill="#a01f66"/><rect x="707.4" y="659.1" width="1.3" height="1.3" fill="#b01e60"/><rect x="725.8" y="678.4" width="1.6" height="1.6" fill="#e8307a"/><rect x="723.7" y="679.9" width="1.6" height="1.6" fill="#e8307a"/><rect x="739.5" y="645.7" width="2.0" height="2.0" fill="#e0205e"/><rect x="718.8" y="682.6" width="1.6" height="1.6" fill="#b01e60"/><rect x="723.2" y="682.0" width="2.0" height="2.0" fill="#e8307a"/><rect x="740.3" y="659.4" width="2.0" height="2.0" fill="#a01f66"/><rect x="749.8" y="676.7" width="2.0" height="2.0" fill="#e0205e"/><rect x="748.8" y="676.4" width="1.6" height="1.6" fill="#c81e5a"/><rect x="751.1" y="675.5" width="2.0" height="2.0" fill="#a01f66"/><rect x="691.5" y="644.4" width="1.3" height="1.3" fill="#e0205e"/><rect x="733.8" y="685.2" width="1.3" height="1.3" fill="#d8206c"/><rect x="732.0" y="680.1" width="1.6" height="1.6" fill="#e0205e"/><rect x="747.9" y="646.9" width="1.6" height="1.6" fill="#e0205e"/><rect x="729.9" y="632.8" width="1.0" height="1.0" fill="#e0205e"/><rect x="726.4" y="634.7" width="1.0" height="1.0" fill="#e0205e"/><rect x="706.2" y="643.1" width="1.3" height="1.3" fill="#d8206c"/><rect x="705.8" y="643.4" width="1.3" height="1.3" fill="#a01f66"/><rect x="705.9" y="629.0" width="1.6" height="1.6" fill="#e0205e"/><rect x="738.1" y="687.6" width="1.0" height="1.0" fill="#a01f66"/><rect x="747.5" y="641.6" width="2.0" height="2.0" fill="#a01f66"/><rect x="749.7" y="636.7" width="1.0" height="1.0" fill="#b01e60"/><rect x="748.2" y="638.0" width="2.0" height="2.0" fill="#e0205e"/><rect x="734.9" y="672.1" width="1.3" height="1.3" fill="#d8206c"/><rect x="739.7" y="670.6" width="1.0" height="1.0" fill="#a01f66"/><rect x="744.2" y="666.8" width="1.3" height="1.3" fill="#e0205e"/><rect x="743.0" y="666.9" width="2.0" height="2.0" fill="#a01f66"/><rect x="741.2" y="631.6" width="1.0" height="1.0" fill="#e0205e"/><rect x="741.4" y="633.4" width="1.0" height="1.0" fill="#b01e60"/><rect x="727.5" y="658.0" width="2.0" height="2.0" fill="#b01e60"/><rect x="729.6" y="659.7" width="1.6" height="1.6" fill="#a01f66"/><rect x="703.0" y="631.4" width="1.3" height="1.3" fill="#e8307a"/><rect x="699.5" y="643.9" width="1.3" height="1.3" fill="#d8206c"/><rect x="703.7" y="645.9" width="1.3" height="1.3" fill="#a01f66"/><rect x="730.7" y="646.8" width="2.0" height="2.0" fill="#c81e5a"/><rect x="732.0" y="645.3" width="1.6" height="1.6" fill="#c81e5a"/><rect x="737.4" y="670.9" width="2.0" height="2.0" fill="#a01f66"/><rect x="708.1" y="633.0" width="1.3" height="1.3" fill="#b01e60"/><rect x="710.3" y="633.9" width="1.0" height="1.0" fill="#d8206c"/><rect x="733.1" y="682.6" width="1.6" height="1.6" fill="#d8206c"/><rect x="735.1" y="683.7" width="2.0" height="2.0" fill="#c81e5a"/><rect x="714.0" y="642.7" width="1.3" height="1.3" fill="#c81e5a"/><rect x="725.2" y="674.2" width="1.0" height="1.0" fill="#a01f66"/><rect x="727.6" y="671.6" width="1.0" height="1.0" fill="#d8206c"/><rect x="723.1" y="685.8" width="2.0" height="2.0" fill="#d8206c"/><rect x="692.3" y="642.1" width="1.0" height="1.0" fill="#a01f66"/><rect x="749.3" y="653.3" width="2.0" height="2.0" fill="#b01e60"/><rect x="752.4" y="653.7" width="2.0" height="2.0" fill="#b01e60"/><rect x="712.4" y="682.1" width="1.6" height="1.6" fill="#b01e60"/><rect x="702.2" y="652.4" width="1.6" height="1.6" fill="#e8307a"/><rect x="737.9" y="682.4" width="1.3" height="1.3" fill="#e0205e"/><rect x="741.3" y="683.0" width="1.3" height="1.3" fill="#e8307a"/><rect x="706.1" y="633.6" width="1.0" height="1.0" fill="#c81e5a"/><rect x="737.6" y="648.8" width="1.3" height="1.3" fill="#e8307a"/><rect x="737.8" y="648.6" width="2.0" height="2.0" fill="#c81e5a"/><rect x="714.5" y="628.5" width="1.0" height="1.0" fill="#b01e60"/><rect x="741.9" y="641.2" width="1.3" height="1.3" fill="#c81e5a"/><rect x="695.3" y="642.5" width="1.6" height="1.6" fill="#b01e60"/><rect x="694.9" y="639.9" width="1.6" height="1.6" fill="#c81e5a"/><rect x="751.7" y="665.6" width="2.0" height="2.0" fill="#d8206c"/><rect x="731.6" y="634.8" width="1.3" height="1.3" fill="#e0205e"/><rect x="723.0" y="623.2" width="1.3" height="1.3" fill="#b01e60"/><rect x="723.3" y="624.4" width="2.0" height="2.0" fill="#d8206c"/><rect x="728.5" y="642.3" width="1.0" height="1.0" fill="#e0205e"/><rect x="726.4" y="640.6" width="1.3" height="1.3" fill="#c81e5a"/><rect x="723.1" y="645.9" width="1.6" height="1.6" fill="#b01e60"/><rect x="722.2" y="624.0" width="1.6" height="1.6" fill="#e0205e"/><rect x="736.4" y="670.0" width="1.0" height="1.0" fill="#a01f66"/><rect x="735.3" y="668.0" width="1.6" height="1.6" fill="#c81e5a"/><rect x="739.8" y="667.6" width="2.0" height="2.0" fill="#c81e5a"/><rect x="739.6" y="666.6" width="1.0" height="1.0" fill="#e0205e"/><rect x="727.3" y="687.5" width="2.0" height="2.0" fill="#b01e60"/><rect x="751.0" y="653.1" width="1.3" height="1.3" fill="#e0205e"/><rect x="751.7" y="655.0" width="2.0" height="2.0" fill="#e8307a"/><rect x="733.7" y="635.7" width="1.3" height="1.3" fill="#e0205e"/><rect x="714.2" y="637.3" width="1.6" height="1.6" fill="#a01f66"/><rect x="713.6" y="638.9" width="1.6" height="1.6" fill="#a01f66"/><rect x="709.4" y="632.2" width="2.0" height="2.0" fill="#e8307a"/><rect x="745.0" y="657.5" width="1.3" height="1.3" fill="#e8307a"/><rect x="743.2" y="656.6" width="1.6" height="1.6" fill="#e0205e"/><rect x="736.2" y="632.9" width="1.3" height="1.3" fill="#c81e5a"/><rect x="706.3" y="631.5" width="1.3" height="1.3" fill="#a01f66"/><rect x="705.6" y="633.7" width="1.0" height="1.0" fill="#e8307a"/><rect x="710.2" y="642.9" width="1.3" height="1.3" fill="#a01f66"/><rect x="744.1" y="638.6" width="1.0" height="1.0" fill="#b01e60"/><rect x="746.1" y="642.5" width="1.3" height="1.3" fill="#d8206c"/><rect x="716.9" y="635.5" width="1.3" height="1.3" fill="#c81e5a"/><rect x="717.1" y="635.2" width="1.0" height="1.0" fill="#b01e60"/><rect x="724.8" y="633.2" width="1.3" height="1.3" fill="#b01e60"/><rect x="726.8" y="630.7" width="2.0" height="2.0" fill="#e0205e"/><rect x="722.8" y="632.9" width="1.3" height="1.3" fill="#d8206c"/><rect x="733.6" y="634.4" width="1.0" height="1.0" fill="#b01e60"/><rect x="734.8" y="638.0" width="1.6" height="1.6" fill="#e0205e"/><rect x="738.9" y="682.7" width="1.6" height="1.6" fill="#a01f66"/><rect x="731.7" y="643.7" width="1.6" height="1.6" fill="#d8206c"/><rect x="700.3" y="651.1" width="1.6" height="1.6" fill="#e0205e"/><rect x="718.7" y="683.8" width="2.0" height="2.0" fill="#e0205e"/><rect x="724.4" y="633.8" width="1.0" height="1.0" fill="#c81e5a"/><rect x="711.0" y="631.6" width="1.6" height="1.6" fill="#e8307a"/><rect x="712.2" y="632.8" width="1.0" height="1.0" fill="#d8206c"/><rect x="689.3" y="656.5" width="1.3" height="1.3" fill="#d8206c"/><rect x="691.7" y="659.1" width="1.3" height="1.3" fill="#e8307a"/><rect x="750.6" y="645.4" width="1.0" height="1.0" fill="#e8307a"/><rect x="748.7" y="649.9" width="1.6" height="1.6" fill="#c81e5a"/><rect x="748.2" y="647.5" width="1.0" height="1.0" fill="#e0205e"/><rect x="692.4" y="647.4" width="1.3" height="1.3" fill="#c81e5a"/><rect x="695.2" y="649.1" width="2.0" height="2.0" fill="#b01e60"/><rect x="695.6" y="648.1" width="1.0" height="1.0" fill="#c81e5a"/><rect x="720.4" y="638.0" width="1.3" height="1.3" fill="#a01f66"/><rect x="731.6" y="624.2" width="1.3" height="1.3" fill="#e8307a"/><rect x="739.0" y="648.3" width="2.0" height="2.0" fill="#a01f66"/><rect x="709.2" y="638.2" width="1.3" height="1.3" fill="#d8206c"/><rect x="746.1" y="634.2" width="1.3" height="1.3" fill="#b01e60"/><rect x="744.0" y="634.8" width="1.0" height="1.0" fill="#e8307a"/><rect x="742.4" y="633.5" width="1.6" height="1.6" fill="#e0205e"/><rect x="741.1" y="638.4" width="1.0" height="1.0" fill="#e8307a"/><rect x="743.0" y="638.7" width="2.0" height="2.0" fill="#a01f66"/><rect x="741.6" y="638.0" width="1.6" height="1.6" fill="#b01e60"/><rect x="736.4" y="633.9" width="1.6" height="1.6" fill="#d8206c"/><rect x="708.2" y="655.5" width="2.0" height="2.0" fill="#e0205e"/><rect x="750.7" y="653.4" width="1.6" height="1.6" fill="#a01f66"/><rect x="754.6" y="654.4" width="2.0" height="2.0" fill="#a01f66"/><rect x="751.6" y="653.2" width="1.3" height="1.3" fill="#a01f66"/><rect x="733.6" y="680.8" width="1.3" height="1.3" fill="#e0205e"/><rect x="706.4" y="672.2" width="1.0" height="1.0" fill="#a01f66"/><rect x="702.7" y="674.5" width="1.3" height="1.3" fill="#d8206c"/><rect x="748.6" y="676.4" width="2.0" height="2.0" fill="#a01f66"/><rect x="748.5" y="675.3" width="1.0" height="1.0" fill="#e8307a"/><rect x="700.5" y="648.5" width="1.0" height="1.0" fill="#b01e60"/><rect x="699.7" y="650.7" width="1.0" height="1.0" fill="#e0205e"/><rect x="698.6" y="650.7" width="1.3" height="1.3" fill="#a01f66"/><rect x="734.9" y="675.9" width="2.0" height="2.0" fill="#b01e60"/><rect x="736.4" y="679.0" width="1.0" height="1.0" fill="#b01e60"/><rect x="717.9" y="635.5" width="1.6" height="1.6" fill="#e8307a"/><rect x="718.0" y="635.3" width="1.3" height="1.3" fill="#c81e5a"/><rect x="732.0" y="654.0" width="1.6" height="1.6" fill="#c81e5a"/><rect x="734.3" y="657.2" width="1.3" height="1.3" fill="#d8206c"/><rect x="732.6" y="651.6" width="1.0" height="1.0" fill="#a01f66"/><rect x="747.4" y="643.4" width="1.0" height="1.0" fill="#c81e5a"/><rect x="747.3" y="661.0" width="1.3" height="1.3" fill="#a01f66"/><rect x="748.8" y="662.9" width="1.0" height="1.0" fill="#c81e5a"/><rect x="701.4" y="683.0" width="1.3" height="1.3" fill="#e0205e"/><rect x="728.8" y="674.5" width="1.3" height="1.3" fill="#b01e60"/><rect x="754.8" y="648.8" width="1.3" height="1.3" fill="#d8206c"/><rect x="732.2" y="674.8" width="1.6" height="1.6" fill="#e0205e"/><rect x="693.7" y="642.6" width="2.0" height="2.0" fill="#c81e5a"/><rect x="695.0" y="640.4" width="1.3" height="1.3" fill="#e0205e"/><rect x="708.2" y="637.8" width="1.0" height="1.0" fill="#d8206c"/><rect x="717.1" y="632.6" width="1.6" height="1.6" fill="#e0205e"/><rect x="715.7" y="636.0" width="1.0" height="1.0" fill="#a01f66"/><rect x="727.4" y="633.1" width="1.6" height="1.6" fill="#c81e5a"/><rect x="724.9" y="632.6" width="1.0" height="1.0" fill="#b01e60"/><rect x="709.4" y="636.5" width="1.3" height="1.3" fill="#b01e60"/><rect x="714.3" y="635.5" width="1.0" height="1.0" fill="#a01f66"/><rect x="728.7" y="680.5" width="2.0" height="2.0" fill="#e8307a"/><rect x="696.3" y="647.4" width="1.3" height="1.3" fill="#e0205e"/><rect x="744.6" y="638.5" width="1.3" height="1.3" fill="#e8307a"/><rect x="713.5" y="652.9" width="2.0" height="2.0" fill="#e0205e"/><rect x="711.2" y="651.0" width="1.3" height="1.3" fill="#a01f66"/><rect x="720.4" y="632.9" width="1.6" height="1.6" fill="#e8307a"/><rect x="724.8" y="629.8" width="1.6" height="1.6" fill="#b01e60"/><rect x="729.2" y="627.1" width="1.6" height="1.6" fill="#b01e60"/><rect x="726.0" y="628.9" width="2.0" height="2.0" fill="#d8206c"/><rect x="719.3" y="675.1" width="1.3" height="1.3" fill="#c81e5a"/><rect x="705.7" y="653.0" width="1.0" height="1.0" fill="#d8206c"/><rect x="702.4" y="650.8" width="1.3" height="1.3" fill="#d8206c"/><rect x="744.3" y="637.8" width="1.0" height="1.0" fill="#e8307a"/><rect x="743.4" y="639.0" width="1.0" height="1.0" fill="#e0205e"/><rect x="724.1" y="646.9" width="2.0" height="2.0" fill="#e8307a"/><rect x="723.6" y="651.0" width="2.0" height="2.0" fill="#c81e5a"/><rect x="724.9" y="647.8" width="1.3" height="1.3" fill="#a01f66"/><rect x="724.6" y="629.7" width="1.3" height="1.3" fill="#b01e60"/><rect x="724.5" y="632.9" width="1.0" height="1.0" fill="#d8206c"/><rect x="738.7" y="640.8" width="1.6" height="1.6" fill="#b01e60"/><rect x="740.7" y="640.8" width="2.0" height="2.0" fill="#e8307a"/><rect x="743.3" y="639.7" width="1.6" height="1.6" fill="#e8307a"/><rect x="725.9" y="642.7" width="2.0" height="2.0" fill="#c81e5a"/>
<ellipse cx="572.7" cy="657.2" rx="36.0" ry="38.2" fill="#2d2780" stroke="#5551bb" stroke-width="0.9"/>
<ellipse cx="572.7" cy="657.2" rx="35.2" ry="37.4" fill="#fff" filter="url(#nzm)"/>
<ellipse cx="572.7" cy="657.2" rx="35.2" ry="37.4" fill="#fff" filter="url(#nzd)"/>
<ellipse cx="572.7" cy="657.2" rx="35.2" ry="37.4" fill="#fff" filter="url(#nzl)"/>
<ellipse cx="796.0" cy="656.6" rx="38.0" ry="38.2" fill="#2d2780" stroke="#5551bb" stroke-width="0.9"/>
<ellipse cx="796.0" cy="656.6" rx="37.2" ry="37.4" fill="#fff" filter="url(#nzm)"/>
<ellipse cx="796.0" cy="656.6" rx="37.2" ry="37.4" fill="#fff" filter="url(#nzd)"/>
<ellipse cx="796.0" cy="656.6" rx="37.2" ry="37.4" fill="#fff" filter="url(#nzl)"/>
</svg>
<svg x="603.7" y="707.5" width="164.50" height="92.00" viewBox="603.7 707.5 164.50 92.00" overflow="hidden">
<rect x="603.7" y="707.5" width="164.50" height="92.00" fill="#000"/>
<ellipse cx="645.7" cy="754.3" rx="38.2" ry="38.6" fill="#2d2780" stroke="#5551bb" stroke-width="0.9"/>
<ellipse cx="645.7" cy="754.3" rx="37.4" ry="37.8" fill="#fff" filter="url(#nzm)"/>
<ellipse cx="645.7" cy="754.3" rx="37.4" ry="37.8" fill="#fff" filter="url(#nzd)"/>
<ellipse cx="645.7" cy="754.3" rx="37.4" ry="37.8" fill="#fff" filter="url(#nzl)"/>
<ellipse cx="724.5" cy="754.7" rx="36.9" ry="38.3" fill="#2d2780" stroke="#5551bb" stroke-width="0.9"/>
<ellipse cx="724.5" cy="754.7" rx="36.1" ry="37.5" fill="#fff" filter="url(#nzm)"/>
<ellipse cx="724.5" cy="754.7" rx="36.1" ry="37.5" fill="#fff" filter="url(#nzd)"/>
<ellipse cx="724.5" cy="754.7" rx="36.1" ry="37.5" fill="#fff" filter="url(#nzl)"/>
<ellipse cx="805.5" cy="754.2" rx="38.5" ry="38.5" fill="#2d2780" stroke="#5551bb" stroke-width="0.9"/>
<ellipse cx="805.5" cy="754.2" rx="37.7" ry="37.7" fill="#fff" filter="url(#nzm)"/>
<ellipse cx="805.5" cy="754.2" rx="37.7" ry="37.7" fill="#fff" filter="url(#nzd)"/>
<ellipse cx="805.5" cy="754.2" rx="37.7" ry="37.7" fill="#fff" filter="url(#nzl)"/>
</svg>
<text x="773.50" y="669.20" font-size="27.2" text-anchor="start" fill="#0d0d0d" stroke="#0d0d0d" stroke-width="0.3" textLength="98.20" lengthAdjust="spacingAndGlyphs">+DMSO</text>
<text x="771.20" y="764.30" font-size="27" text-anchor="start" fill="#0d0d0d" stroke="#0d0d0d" stroke-width="0.3" textLength="143.60" lengthAdjust="spacingAndGlyphs">+15 <tspan font-family="Liberation Serif, serif">μ</tspan>M #96</text>
<text x="1051.20" y="602.90" font-size="27" text-anchor="start" fill="#0d0d0d" stroke="#0d0d0d" stroke-width="0.3">156 nM Remdesivir</text>
<svg x="1075" y="610.5" width="167.00" height="91.10" viewBox="1075 610.5 167.00 91.10" overflow="hidden">
<rect x="1075" y="610.5" width="167.00" height="91.10" fill="#000"/>
<ellipse cx="1117.4" cy="655.1" rx="38.6" ry="38.6" fill="#2d2780" stroke="#5551bb" stroke-width="0.9"/>
<ellipse cx="1117.4" cy="655.1" rx="37.8" ry="37.8" fill="#fff" filter="url(#nzm)"/>
<ellipse cx="1117.4" cy="655.1" rx="37.8" ry="37.8" fill="#fff" filter="url(#nzd)"/>
<ellipse cx="1117.4" cy="655.1" rx="37.8" ry="37.8" fill="#fff" filter="url(#nzl)"/>
<clipPath id="w14"><ellipse cx="1117.4" cy="655.1" rx="37.8" ry="37.8"/></clipPath><g clip-path="url(#w14)"><g filter="url(#hz)" opacity="0.5">
<ellipse cx="1094.2" cy="674.4" rx="9.7" ry="9.7" fill="#b0206a"/>
<ellipse cx="1140.6" cy="666.7" rx="9.7" ry="9.7" fill="#b0206a"/>
<ellipse cx="1117.4" cy="631.9" rx="9.7" ry="9.7" fill="#b0206a"/>
</g></g>
<rect x="1123.3" y="675.5" width="1.6" height="1.6" fill="#a01f66"/><rect x="1134.0" y="644.1" width="1.3" height="1.3" fill="#d8206c"/><rect x="1131.9" y="627.7" width="1.0" height="1.0" fill="#a01f66"/><rect x="1124.3" y="691.2" width="1.3" height="1.3" fill="#c81e5a"/><rect x="1139.0" y="669.0" width="1.0" height="1.0" fill="#e8307a"/><rect x="1143.4" y="660.4" width="1.3" height="1.3" fill="#e8307a"/><rect x="1144.0" y="659.2" width="1.3" height="1.3" fill="#e0205e"/><rect x="1145.1" y="663.2" width="2.0" height="2.0" fill="#d8206c"/><rect x="1120.9" y="650.9" width="1.3" height="1.3" fill="#e0205e"/><rect x="1124.1" y="649.9" width="1.3" height="1.3" fill="#e8307a"/><rect x="1092.8" y="628.3" width="1.3" height="1.3" fill="#e0205e"/><rect x="1095.8" y="626.6" width="2.0" height="2.0" fill="#e8307a"/><rect x="1125.0" y="685.3" width="1.0" height="1.0" fill="#a01f66"/><rect x="1124.0" y="682.5" width="2.0" height="2.0" fill="#c81e5a"/><rect x="1106.5" y="640.4" width="1.3" height="1.3" fill="#e8307a"/><rect x="1105.4" y="635.8" width="1.3" height="1.3" fill="#d8206c"/><rect x="1141.0" y="678.7" width="1.6" height="1.6" fill="#b01e60"/><rect x="1138.6" y="678.2" width="1.6" height="1.6" fill="#e0205e"/><rect x="1140.7" y="680.5" width="1.6" height="1.6" fill="#a01f66"/><rect x="1098.2" y="624.2" width="1.6" height="1.6" fill="#a01f66"/><rect x="1098.3" y="625.6" width="1.3" height="1.3" fill="#c81e5a"/><rect x="1127.5" y="646.7" width="1.0" height="1.0" fill="#a01f66"/><rect x="1127.4" y="645.7" width="1.3" height="1.3" fill="#e0205e"/><rect x="1100.9" y="647.4" width="1.0" height="1.0" fill="#b01e60"/><rect x="1100.6" y="646.8" width="1.0" height="1.0" fill="#e8307a"/><rect x="1098.8" y="648.0" width="1.3" height="1.3" fill="#c81e5a"/><rect x="1112.8" y="655.3" width="1.0" height="1.0" fill="#e0205e"/><rect x="1138.7" y="626.3" width="1.6" height="1.6" fill="#a01f66"/><rect x="1118.2" y="642.5" width="1.3" height="1.3" fill="#b01e60"/><rect x="1121.1" y="641.3" width="1.6" height="1.6" fill="#c81e5a"/><rect x="1125.6" y="619.9" width="2.0" height="2.0" fill="#a01f66"/><rect x="1124.1" y="621.2" width="1.3" height="1.3" fill="#e8307a"/><rect x="1152.0" y="650.8" width="1.6" height="1.6" fill="#b01e60"/><rect x="1121.0" y="621.0" width="2.0" height="2.0" fill="#d8206c"/><rect x="1119.7" y="620.2" width="1.3" height="1.3" fill="#b01e60"/><rect x="1120.9" y="619.6" width="1.6" height="1.6" fill="#d8206c"/><rect x="1095.1" y="641.3" width="1.6" height="1.6" fill="#b01e60"/><rect x="1121.7" y="670.7" width="2.0" height="2.0" fill="#e0205e"/><rect x="1095.5" y="669.1" width="2.0" height="2.0" fill="#e0205e"/><rect x="1101.5" y="685.9" width="1.0" height="1.0" fill="#e8307a"/><rect x="1088.4" y="671.7" width="1.0" height="1.0" fill="#b01e60"/><rect x="1153.1" y="646.4" width="1.3" height="1.3" fill="#b01e60"/><rect x="1135.4" y="675.6" width="2.0" height="2.0" fill="#d8206c"/><rect x="1148.9" y="651.3" width="1.0" height="1.0" fill="#d8206c"/><rect x="1100.3" y="625.9" width="1.0" height="1.0" fill="#c81e5a"/><rect x="1097.8" y="624.9" width="1.0" height="1.0" fill="#b01e60"/><rect x="1099.7" y="625.4" width="1.6" height="1.6" fill="#b01e60"/><rect x="1116.8" y="629.1" width="2.0" height="2.0" fill="#e0205e"/><rect x="1117.4" y="630.8" width="1.3" height="1.3" fill="#c81e5a"/><rect x="1120.4" y="628.6" width="1.6" height="1.6" fill="#c81e5a"/><rect x="1100.3" y="631.9" width="1.0" height="1.0" fill="#a01f66"/><rect x="1098.1" y="633.2" width="1.3" height="1.3" fill="#e0205e"/><rect x="1097.5" y="630.0" width="1.6" height="1.6" fill="#e8307a"/><rect x="1097.8" y="626.8" width="2.0" height="2.0" fill="#a01f66"/><rect x="1102.1" y="681.7" width="2.0" height="2.0" fill="#e8307a"/><rect x="1106.5" y="683.1" width="1.6" height="1.6" fill="#e8307a"/><rect x="1096.9" y="672.2" width="1.3" height="1.3" fill="#a01f66"/><rect x="1095.3" y="639.1" width="1.3" height="1.3" fill="#c81e5a"/><rect x="1108.0" y="672.9" width="2.0" height="2.0" fill="#a01f66"/><rect x="1098.6" y="649.5" width="1.0" height="1.0" fill="#a01f66"/><rect x="1097.1" y="650.4" width="2.0" height="2.0" fill="#d8206c"/><rect x="1097.1" y="645.8" width="1.3" height="1.3" fill="#e0205e"/><rect x="1100.8" y="662.4" width="2.0" height="2.0" fill="#e8307a"/><rect x="1110.8" y="681.3" width="2.0" height="2.0" fill="#c81e5a"/><rect x="1124.0" y="675.3" width="1.0" height="1.0" fill="#a01f66"/><rect x="1130.4" y="676.3" width="1.3" height="1.3" fill="#b01e60"/><rect x="1129.5" y="677.0" width="1.0" height="1.0" fill="#b01e60"/><rect x="1092.3" y="669.1" width="1.3" height="1.3" fill="#e8307a"/><rect x="1092.9" y="668.5" width="1.0" height="1.0" fill="#a01f66"/><rect x="1146.1" y="657.5" width="1.6" height="1.6" fill="#b01e60"/><rect x="1135.4" y="682.7" width="1.6" height="1.6" fill="#e8307a"/><rect x="1141.7" y="648.6" width="1.3" height="1.3" fill="#e0205e"/><rect x="1104.8" y="630.6" width="2.0" height="2.0" fill="#a01f66"/><rect x="1121.5" y="636.7" width="1.0" height="1.0" fill="#b01e60"/><rect x="1122.6" y="640.9" width="1.3" height="1.3" fill="#c81e5a"/><rect x="1122.1" y="620.9" width="1.3" height="1.3" fill="#c81e5a"/><rect x="1125.1" y="622.3" width="1.6" height="1.6" fill="#d8206c"/><rect x="1106.0" y="681.9" width="1.6" height="1.6" fill="#e0205e"/><rect x="1108.3" y="684.4" width="1.0" height="1.0" fill="#e0205e"/><rect x="1091.5" y="678.1" width="1.6" height="1.6" fill="#b01e60"/><rect x="1089.6" y="679.6" width="1.3" height="1.3" fill="#b01e60"/><rect x="1090.8" y="678.1" width="1.6" height="1.6" fill="#e0205e"/><rect x="1135.3" y="672.8" width="1.6" height="1.6" fill="#e0205e"/><rect x="1135.6" y="672.3" width="1.0" height="1.0" fill="#e0205e"/><rect x="1135.4" y="674.5" width="1.6" height="1.6" fill="#a01f66"/><rect x="1124.5" y="679.9" width="2.0" height="2.0" fill="#d8206c"/><rect x="1130.4" y="681.2" width="2.0" height="2.0" fill="#d8206c"/><rect x="1125.8" y="681.9" width="1.3" height="1.3" fill="#b01e60"/><rect x="1146.4" y="654.0" width="1.3" height="1.3" fill="#b01e60"/><rect x="1145.3" y="657.9" width="1.0" height="1.0" fill="#e0205e"/><rect x="1107.2" y="631.7" width="1.3" height="1.3" fill="#a01f66"/><rect x="1146.6" y="676.7" width="1.0" height="1.0" fill="#a01f66"/><rect x="1131.8" y="672.3" width="2.0" height="2.0" fill="#e0205e"/><rect x="1138.4" y="650.0" width="1.3" height="1.3" fill="#a01f66"/><rect x="1137.3" y="649.5" width="1.3" height="1.3" fill="#e0205e"/><rect x="1134.2" y="669.6" width="1.3" height="1.3" fill="#b01e60"/><rect x="1132.9" y="670.4" width="2.0" height="2.0" fill="#e8307a"/><rect x="1138.3" y="670.7" width="2.0" height="2.0" fill="#a01f66"/><rect x="1087.7" y="650.7" width="2.0" height="2.0" fill="#a01f66"/><rect x="1090.4" y="649.8" width="1.6" height="1.6" fill="#e8307a"/><rect x="1090.0" y="650.7" width="1.3" height="1.3" fill="#a01f66"/><rect x="1096.3" y="655.6" width="1.0" height="1.0" fill="#d8206c"/><rect x="1099.5" y="655.1" width="2.0" height="2.0" fill="#b01e60"/><rect x="1128.3" y="688.4" width="1.0" height="1.0" fill="#b01e60"/><rect x="1124.6" y="686.6" width="1.3" height="1.3" fill="#e0205e"/><rect x="1127.2" y="685.6" width="1.0" height="1.0" fill="#c81e5a"/><rect x="1135.0" y="663.9" width="1.3" height="1.3" fill="#e0205e"/><rect x="1139.4" y="659.0" width="2.0" height="2.0" fill="#e8307a"/><rect x="1135.9" y="663.7" width="1.6" height="1.6" fill="#d8206c"/><rect x="1101.1" y="677.8" width="1.0" height="1.0" fill="#c81e5a"/><rect x="1095.5" y="676.4" width="1.0" height="1.0" fill="#e8307a"/><rect x="1145.5" y="639.4" width="1.0" height="1.0" fill="#c81e5a"/><rect x="1146.9" y="639.8" width="2.0" height="2.0" fill="#c81e5a"/><rect x="1130.3" y="661.3" width="1.3" height="1.3" fill="#e8307a"/><rect x="1125.7" y="661.9" width="1.0" height="1.0" fill="#a01f66"/><rect x="1108.4" y="689.4" width="1.0" height="1.0" fill="#e8307a"/><rect x="1108.2" y="688.2" width="1.6" height="1.6" fill="#e0205e"/><rect x="1093.4" y="677.6" width="1.0" height="1.0" fill="#b01e60"/><rect x="1112.7" y="626.9" width="2.0" height="2.0" fill="#e0205e"/><rect x="1115.1" y="627.1" width="1.6" height="1.6" fill="#e0205e"/><rect x="1114.3" y="625.1" width="2.0" height="2.0" fill="#a01f66"/><rect x="1149.7" y="663.0" width="1.6" height="1.6" fill="#c81e5a"/><rect x="1140.9" y="682.5" width="1.6" height="1.6" fill="#e0205e"/><rect x="1136.7" y="638.3" width="2.0" height="2.0" fill="#e8307a"/><rect x="1136.9" y="636.9" width="1.0" height="1.0" fill="#c81e5a"/><rect x="1139.4" y="681.2" width="1.0" height="1.0" fill="#a01f66"/><rect x="1142.2" y="640.2" width="1.3" height="1.3" fill="#e8307a"/><rect x="1122.5" y="627.9" width="1.6" height="1.6" fill="#a01f66"/><rect x="1113.0" y="633.7" width="1.0" height="1.0" fill="#d8206c"/><rect x="1111.0" y="634.7" width="1.0" height="1.0" fill="#b01e60"/><rect x="1131.5" y="675.8" width="2.0" height="2.0" fill="#c81e5a"/><rect x="1130.6" y="677.8" width="1.3" height="1.3" fill="#a01f66"/><rect x="1133.6" y="674.6" width="2.0" height="2.0" fill="#e0205e"/><rect x="1087.8" y="672.1" width="1.6" height="1.6" fill="#e0205e"/><rect x="1109.1" y="652.1" width="1.0" height="1.0" fill="#e0205e"/><rect x="1110.7" y="650.8" width="1.6" height="1.6" fill="#c81e5a"/><rect x="1111.6" y="652.9" width="2.0" height="2.0" fill="#e8307a"/><rect x="1139.9" y="669.3" width="1.3" height="1.3" fill="#c81e5a"/><rect x="1140.2" y="667.2" width="1.3" height="1.3" fill="#c81e5a"/><rect x="1105.7" y="685.7" width="1.6" height="1.6" fill="#e8307a"/><rect x="1101.8" y="688.0" width="1.3" height="1.3" fill="#b01e60"/><rect x="1104.6" y="686.8" width="1.3" height="1.3" fill="#d8206c"/><rect x="1133.4" y="653.2" width="1.0" height="1.0" fill="#a01f66"/><rect x="1129.0" y="655.3" width="1.6" height="1.6" fill="#c81e5a"/><rect x="1132.5" y="676.3" width="1.3" height="1.3" fill="#e0205e"/><rect x="1132.1" y="678.6" width="1.6" height="1.6" fill="#b01e60"/><rect x="1136.2" y="672.1" width="1.6" height="1.6" fill="#d8206c"/><rect x="1147.2" y="675.0" width="2.0" height="2.0" fill="#d8206c"/><rect x="1146.5" y="674.5" width="1.0" height="1.0" fill="#e0205e"/><rect x="1137.8" y="647.3" width="1.0" height="1.0" fill="#c81e5a"/><rect x="1132.4" y="677.4" width="1.3" height="1.3" fill="#d8206c"/><rect x="1102.5" y="647.9" width="1.3" height="1.3" fill="#a01f66"/><rect x="1104.8" y="649.0" width="1.3" height="1.3" fill="#e0205e"/><rect x="1112.9" y="661.9" width="1.6" height="1.6" fill="#b01e60"/><rect x="1111.5" y="662.1" width="1.6" height="1.6" fill="#c81e5a"/><rect x="1141.2" y="674.1" width="1.6" height="1.6" fill="#b01e60"/><rect x="1138.1" y="673.1" width="2.0" height="2.0" fill="#b01e60"/><rect x="1139.1" y="673.6" width="1.6" height="1.6" fill="#c81e5a"/><rect x="1106.3" y="634.2" width="2.0" height="2.0" fill="#b01e60"/><rect x="1090.1" y="654.1" width="1.3" height="1.3" fill="#c81e5a"/><rect x="1093.0" y="656.1" width="2.0" height="2.0" fill="#d8206c"/><rect x="1115.6" y="620.2" width="1.0" height="1.0" fill="#e0205e"/><rect x="1117.4" y="621.9" width="1.0" height="1.0" fill="#c81e5a"/><rect x="1102.7" y="644.0" width="2.0" height="2.0" fill="#e0205e"/><rect x="1104.3" y="643.3" width="1.6" height="1.6" fill="#c81e5a"/><rect x="1114.2" y="681.9" width="2.0" height="2.0" fill="#c81e5a"/><rect x="1114.5" y="682.6" width="1.6" height="1.6" fill="#e8307a"/><rect x="1103.6" y="632.5" width="1.3" height="1.3" fill="#e8307a"/><rect x="1102.8" y="628.7" width="1.0" height="1.0" fill="#d8206c"/><rect x="1090.2" y="642.0" width="2.0" height="2.0" fill="#e8307a"/><rect x="1091.7" y="641.8" width="1.6" height="1.6" fill="#e8307a"/><rect x="1094.2" y="643.5" width="1.0" height="1.0" fill="#a01f66"/><rect x="1135.3" y="628.5" width="1.6" height="1.6" fill="#b01e60"/><rect x="1139.0" y="657.3" width="2.0" height="2.0" fill="#a01f66"/><rect x="1139.3" y="658.5" width="2.0" height="2.0" fill="#e0205e"/><rect x="1132.1" y="632.9" width="1.0" height="1.0" fill="#b01e60"/><rect x="1087.7" y="659.1" width="1.3" height="1.3" fill="#a01f66"/><rect x="1088.0" y="656.9" width="1.0" height="1.0" fill="#e8307a"/><rect x="1139.9" y="644.9" width="2.0" height="2.0" fill="#b01e60"/><rect x="1089.4" y="635.3" width="2.0" height="2.0" fill="#b01e60"/><rect x="1089.6" y="634.6" width="2.0" height="2.0" fill="#d8206c"/><rect x="1107.3" y="630.4" width="1.0" height="1.0" fill="#d8206c"/><rect x="1087.2" y="647.4" width="2.0" height="2.0" fill="#c81e5a"/><rect x="1123.4" y="665.1" width="1.6" height="1.6" fill="#c81e5a"/><rect x="1121.3" y="667.4" width="1.6" height="1.6" fill="#c81e5a"/><rect x="1138.8" y="676.0" width="1.0" height="1.0" fill="#a01f66"/><rect x="1137.4" y="674.8" width="1.0" height="1.0" fill="#d8206c"/><rect x="1115.1" y="645.0" width="1.6" height="1.6" fill="#a01f66"/><rect x="1114.2" y="644.1" width="2.0" height="2.0" fill="#c81e5a"/><rect x="1103.9" y="687.6" width="1.6" height="1.6" fill="#a01f66"/><rect x="1126.6" y="648.1" width="1.3" height="1.3" fill="#d8206c"/><rect x="1129.7" y="647.5" width="1.3" height="1.3" fill="#b01e60"/><rect x="1140.2" y="638.4" width="2.0" height="2.0" fill="#d8206c"/><rect x="1137.8" y="637.3" width="1.6" height="1.6" fill="#c81e5a"/><rect x="1149.9" y="646.6" width="1.3" height="1.3" fill="#e8307a"/><rect x="1151.0" y="646.0" width="2.0" height="2.0" fill="#a01f66"/><rect x="1106.3" y="662.3" width="2.0" height="2.0" fill="#b01e60"/><rect x="1094.0" y="663.5" width="1.6" height="1.6" fill="#b01e60"/><rect x="1144.9" y="652.5" width="2.0" height="2.0" fill="#c81e5a"/><rect x="1144.9" y="654.4" width="1.0" height="1.0" fill="#d8206c"/><rect x="1148.1" y="651.2" width="1.3" height="1.3" fill="#c81e5a"/><rect x="1114.0" y="685.0" width="1.3" height="1.3" fill="#e0205e"/><rect x="1115.4" y="685.2" width="1.3" height="1.3" fill="#e8307a"/><rect x="1117.3" y="638.8" width="1.6" height="1.6" fill="#e0205e"/><rect x="1116.7" y="683.3" width="2.0" height="2.0" fill="#a01f66"/><rect x="1120.4" y="686.7" width="2.0" height="2.0" fill="#d8206c"/><rect x="1144.8" y="679.3" width="2.0" height="2.0" fill="#e8307a"/><rect x="1144.9" y="676.1" width="1.6" height="1.6" fill="#d8206c"/><rect x="1142.2" y="675.5" width="2.0" height="2.0" fill="#c81e5a"/><rect x="1101.5" y="662.2" width="2.0" height="2.0" fill="#b01e60"/><rect x="1099.3" y="663.7" width="1.3" height="1.3" fill="#c81e5a"/><rect x="1102.4" y="662.2" width="1.6" height="1.6" fill="#e8307a"/><rect x="1141.3" y="651.0" width="1.6" height="1.6" fill="#a01f66"/><rect x="1131.9" y="625.4" width="1.6" height="1.6" fill="#a01f66"/><rect x="1129.9" y="681.3" width="1.3" height="1.3" fill="#c81e5a"/><rect x="1130.7" y="682.1" width="1.0" height="1.0" fill="#e0205e"/><rect x="1104.1" y="669.1" width="1.6" height="1.6" fill="#c81e5a"/><rect x="1105.0" y="669.6" width="2.0" height="2.0" fill="#d8206c"/><rect x="1107.3" y="624.6" width="1.3" height="1.3" fill="#a01f66"/><rect x="1107.1" y="627.0" width="1.3" height="1.3" fill="#a01f66"/><rect x="1113.7" y="680.0" width="1.6" height="1.6" fill="#e8307a"/><rect x="1115.9" y="682.7" width="2.0" height="2.0" fill="#e8307a"/><rect x="1115.0" y="678.6" width="1.6" height="1.6" fill="#a01f66"/><rect x="1146.8" y="662.7" width="1.3" height="1.3" fill="#b01e60"/><rect x="1145.7" y="660.7" width="1.6" height="1.6" fill="#a01f66"/><rect x="1147.6" y="661.1" width="1.0" height="1.0" fill="#b01e60"/><rect x="1102.4" y="666.0" width="1.6" height="1.6" fill="#b01e60"/><rect x="1085.0" y="647.9" width="1.3" height="1.3" fill="#a01f66"/><rect x="1103.4" y="675.5" width="1.6" height="1.6" fill="#d8206c"/>
<ellipse cx="1200.0" cy="655.1" rx="38.3" ry="38.6" fill="#2d2780" stroke="#5551bb" stroke-width="0.9"/>
<ellipse cx="1200.0" cy="655.1" rx="37.5" ry="37.8" fill="#fff" filter="url(#nzm)"/>
<ellipse cx="1200.0" cy="655.1" rx="37.5" ry="37.8" fill="#fff" filter="url(#nzd)"/>
<ellipse cx="1200.0" cy="655.1" rx="37.5" ry="37.8" fill="#fff" filter="url(#nzl)"/>
<clipPath id="w15"><ellipse cx="1200.0" cy="655.1" rx="37.5" ry="37.8"/></clipPath><g clip-path="url(#w15)"><g filter="url(#hz)" opacity="0.5">
<ellipse cx="1215.3" cy="678.3" rx="13.4" ry="13.5" fill="#b0206a"/>
<ellipse cx="1173.2" cy="655.1" rx="9.6" ry="9.7" fill="#b0206a"/>
</g></g>
<rect x="1194.3" y="688.9" width="1.0" height="1.0" fill="#a01f66"/><rect x="1206.5" y="647.4" width="1.0" height="1.0" fill="#b01e60"/><rect x="1207.2" y="647.2" width="2.0" height="2.0" fill="#d8206c"/><rect x="1233.4" y="645.1" width="2.0" height="2.0" fill="#b01e60"/><rect x="1232.8" y="643.7" width="1.6" height="1.6" fill="#b01e60"/><rect x="1186.0" y="663.0" width="2.0" height="2.0" fill="#e0205e"/><rect x="1203.3" y="655.4" width="2.0" height="2.0" fill="#e8307a"/><rect x="1197.3" y="656.1" width="1.6" height="1.6" fill="#e8307a"/><rect x="1196.3" y="663.0" width="1.6" height="1.6" fill="#b01e60"/><rect x="1207.8" y="677.1" width="1.0" height="1.0" fill="#c81e5a"/><rect x="1210.9" y="672.6" width="1.0" height="1.0" fill="#e8307a"/><rect x="1209.4" y="672.8" width="1.0" height="1.0" fill="#e8307a"/><rect x="1211.0" y="669.5" width="1.0" height="1.0" fill="#a01f66"/><rect x="1199.1" y="680.8" width="1.6" height="1.6" fill="#e8307a"/><rect x="1176.9" y="675.2" width="1.3" height="1.3" fill="#e0205e"/><rect x="1187.5" y="673.8" width="2.0" height="2.0" fill="#d8206c"/><rect x="1192.8" y="671.9" width="1.6" height="1.6" fill="#a01f66"/><rect x="1224.4" y="672.5" width="1.0" height="1.0" fill="#b01e60"/><rect x="1208.2" y="625.8" width="1.6" height="1.6" fill="#b01e60"/><rect x="1209.3" y="625.8" width="2.0" height="2.0" fill="#a01f66"/><rect x="1221.3" y="661.3" width="1.6" height="1.6" fill="#b01e60"/><rect x="1221.7" y="661.3" width="1.0" height="1.0" fill="#e8307a"/><rect x="1219.6" y="662.0" width="1.3" height="1.3" fill="#c81e5a"/><rect x="1180.3" y="640.6" width="1.0" height="1.0" fill="#d8206c"/><rect x="1181.8" y="683.2" width="1.0" height="1.0" fill="#b01e60"/><rect x="1195.3" y="670.1" width="1.0" height="1.0" fill="#b01e60"/><rect x="1196.7" y="670.7" width="1.3" height="1.3" fill="#a01f66"/><rect x="1200.1" y="645.2" width="1.0" height="1.0" fill="#d8206c"/><rect x="1192.8" y="649.9" width="2.0" height="2.0" fill="#d8206c"/><rect x="1193.6" y="649.2" width="2.0" height="2.0" fill="#d8206c"/><rect x="1189.8" y="671.4" width="2.0" height="2.0" fill="#e8307a"/><rect x="1189.9" y="673.4" width="1.3" height="1.3" fill="#b01e60"/><rect x="1216.1" y="665.4" width="2.0" height="2.0" fill="#c81e5a"/><rect x="1216.3" y="665.4" width="1.0" height="1.0" fill="#d8206c"/><rect x="1183.8" y="639.5" width="1.3" height="1.3" fill="#b01e60"/><rect x="1168.7" y="653.7" width="1.3" height="1.3" fill="#e8307a"/><rect x="1211.0" y="683.2" width="1.3" height="1.3" fill="#e8307a"/><rect x="1206.5" y="683.7" width="2.0" height="2.0" fill="#b01e60"/><rect x="1205.8" y="685.9" width="1.6" height="1.6" fill="#c81e5a"/><rect x="1222.7" y="683.1" width="1.3" height="1.3" fill="#e0205e"/><rect x="1215.7" y="624.1" width="1.3" height="1.3" fill="#d8206c"/><rect x="1214.4" y="628.4" width="2.0" height="2.0" fill="#d8206c"/><rect x="1190.9" y="677.0" width="1.3" height="1.3" fill="#e0205e"/><rect x="1193.4" y="679.0" width="1.0" height="1.0" fill="#d8206c"/><rect x="1192.4" y="668.6" width="2.0" height="2.0" fill="#e8307a"/><rect x="1191.6" y="669.6" width="1.0" height="1.0" fill="#d8206c"/><rect x="1191.8" y="668.5" width="2.0" height="2.0" fill="#b01e60"/><rect x="1222.3" y="678.1" width="2.0" height="2.0" fill="#d8206c"/><rect x="1231.5" y="642.3" width="2.0" height="2.0" fill="#e8307a"/><rect x="1204.6" y="651.0" width="1.3" height="1.3" fill="#d8206c"/><rect x="1199.1" y="684.8" width="1.0" height="1.0" fill="#e0205e"/><rect x="1198.9" y="686.4" width="1.0" height="1.0" fill="#c81e5a"/><rect x="1210.5" y="684.1" width="2.0" height="2.0" fill="#b01e60"/><rect x="1195.3" y="671.0" width="2.0" height="2.0" fill="#b01e60"/><rect x="1194.8" y="668.5" width="1.6" height="1.6" fill="#b01e60"/><rect x="1177.3" y="661.1" width="1.0" height="1.0" fill="#d8206c"/><rect x="1180.6" y="655.5" width="2.0" height="2.0" fill="#e0205e"/><rect x="1182.4" y="656.7" width="1.3" height="1.3" fill="#a01f66"/><rect x="1223.6" y="669.4" width="1.3" height="1.3" fill="#c81e5a"/><rect x="1227.6" y="669.2" width="2.0" height="2.0" fill="#a01f66"/><rect x="1185.2" y="671.0" width="2.0" height="2.0" fill="#e8307a"/><rect x="1177.0" y="644.6" width="2.0" height="2.0" fill="#e8307a"/><rect x="1178.8" y="644.8" width="1.6" height="1.6" fill="#e0205e"/><rect x="1178.1" y="644.8" width="1.3" height="1.3" fill="#a01f66"/><rect x="1218.6" y="666.1" width="1.3" height="1.3" fill="#c81e5a"/><rect x="1215.6" y="665.1" width="1.6" height="1.6" fill="#b01e60"/><rect x="1216.1" y="665.1" width="1.6" height="1.6" fill="#e8307a"/><rect x="1215.3" y="645.8" width="1.3" height="1.3" fill="#a01f66"/><rect x="1219.6" y="646.3" width="2.0" height="2.0" fill="#d8206c"/><rect x="1216.5" y="649.3" width="1.0" height="1.0" fill="#a01f66"/><rect x="1231.0" y="655.4" width="1.6" height="1.6" fill="#e0205e"/><rect x="1226.6" y="659.0" width="1.3" height="1.3" fill="#e0205e"/><rect x="1229.9" y="657.2" width="1.0" height="1.0" fill="#b01e60"/><rect x="1223.6" y="656.1" width="2.0" height="2.0" fill="#d8206c"/><rect x="1197.4" y="672.8" width="1.0" height="1.0" fill="#a01f66"/><rect x="1195.3" y="671.6" width="2.0" height="2.0" fill="#a01f66"/><rect x="1197.2" y="674.5" width="1.3" height="1.3" fill="#a01f66"/><rect x="1195.7" y="669.0" width="1.6" height="1.6" fill="#e8307a"/><rect x="1209.9" y="637.8" width="1.3" height="1.3" fill="#e0205e"/><rect x="1207.4" y="637.2" width="2.0" height="2.0" fill="#d8206c"/><rect x="1236.5" y="652.9" width="2.0" height="2.0" fill="#b01e60"/><rect x="1191.4" y="682.0" width="2.0" height="2.0" fill="#c81e5a"/><rect x="1186.1" y="677.6" width="1.3" height="1.3" fill="#e0205e"/><rect x="1189.1" y="680.7" width="1.0" height="1.0" fill="#a01f66"/><rect x="1232.2" y="661.9" width="1.0" height="1.0" fill="#c81e5a"/><rect x="1188.8" y="683.7" width="1.0" height="1.0" fill="#d8206c"/><rect x="1188.3" y="682.8" width="1.0" height="1.0" fill="#d8206c"/><rect x="1187.6" y="683.5" width="1.6" height="1.6" fill="#e0205e"/><rect x="1205.5" y="683.5" width="2.0" height="2.0" fill="#d8206c"/><rect x="1205.4" y="681.8" width="1.3" height="1.3" fill="#a01f66"/><rect x="1204.3" y="682.5" width="1.6" height="1.6" fill="#e8307a"/><rect x="1165.5" y="650.2" width="1.0" height="1.0" fill="#a01f66"/><rect x="1233.8" y="648.1" width="2.0" height="2.0" fill="#a01f66"/><rect x="1166.1" y="661.9" width="2.0" height="2.0" fill="#c81e5a"/><rect x="1179.1" y="654.3" width="1.3" height="1.3" fill="#a01f66"/><rect x="1227.7" y="656.8" width="1.6" height="1.6" fill="#e0205e"/><rect x="1229.1" y="653.6" width="1.0" height="1.0" fill="#c81e5a"/><rect x="1194.1" y="678.8" width="1.3" height="1.3" fill="#c81e5a"/><rect x="1190.5" y="674.2" width="1.3" height="1.3" fill="#b01e60"/><rect x="1190.6" y="675.9" width="1.0" height="1.0" fill="#e8307a"/><rect x="1186.5" y="681.8" width="1.0" height="1.0" fill="#e0205e"/><rect x="1183.5" y="684.1" width="2.0" height="2.0" fill="#d8206c"/><rect x="1186.9" y="681.0" width="1.0" height="1.0" fill="#c81e5a"/><rect x="1195.9" y="619.6" width="1.6" height="1.6" fill="#d8206c"/><rect x="1207.0" y="621.0" width="1.0" height="1.0" fill="#a01f66"/><rect x="1212.8" y="638.2" width="1.3" height="1.3" fill="#e8307a"/><rect x="1214.5" y="637.9" width="2.0" height="2.0" fill="#b01e60"/><rect x="1198.5" y="688.1" width="1.0" height="1.0" fill="#b01e60"/><rect x="1202.1" y="680.4" width="1.3" height="1.3" fill="#d8206c"/><rect x="1204.4" y="679.6" width="1.3" height="1.3" fill="#b01e60"/><rect x="1205.2" y="679.6" width="1.6" height="1.6" fill="#b01e60"/><rect x="1236.5" y="650.9" width="2.0" height="2.0" fill="#c81e5a"/><rect x="1198.1" y="684.0" width="1.0" height="1.0" fill="#e8307a"/><rect x="1195.4" y="687.9" width="1.0" height="1.0" fill="#e8307a"/><rect x="1193.6" y="685.8" width="1.3" height="1.3" fill="#a01f66"/><rect x="1235.5" y="662.0" width="1.3" height="1.3" fill="#e0205e"/><rect x="1184.9" y="651.7" width="1.6" height="1.6" fill="#d8206c"/><rect x="1180.8" y="666.8" width="1.3" height="1.3" fill="#d8206c"/><rect x="1230.1" y="662.7" width="1.3" height="1.3" fill="#e0205e"/><rect x="1228.5" y="662.2" width="1.0" height="1.0" fill="#b01e60"/><rect x="1183.1" y="685.6" width="1.6" height="1.6" fill="#c81e5a"/><rect x="1183.3" y="683.3" width="1.3" height="1.3" fill="#e0205e"/><rect x="1182.0" y="682.1" width="1.0" height="1.0" fill="#d8206c"/><rect x="1199.5" y="678.9" width="1.6" height="1.6" fill="#a01f66"/><rect x="1205.3" y="683.1" width="1.0" height="1.0" fill="#e0205e"/><rect x="1184.2" y="651.6" width="1.6" height="1.6" fill="#d8206c"/><rect x="1223.8" y="652.9" width="1.0" height="1.0" fill="#d8206c"/><rect x="1223.5" y="654.2" width="1.3" height="1.3" fill="#c81e5a"/><rect x="1222.3" y="652.3" width="1.6" height="1.6" fill="#d8206c"/><rect x="1222.9" y="630.3" width="1.0" height="1.0" fill="#e8307a"/><rect x="1205.6" y="651.6" width="2.0" height="2.0" fill="#e8307a"/><rect x="1205.7" y="651.9" width="1.3" height="1.3" fill="#b01e60"/><rect x="1191.0" y="677.6" width="1.3" height="1.3" fill="#d8206c"/><rect x="1218.6" y="640.7" width="2.0" height="2.0" fill="#a01f66"/><rect x="1171.1" y="670.6" width="1.3" height="1.3" fill="#e8307a"/><rect x="1217.7" y="656.0" width="1.0" height="1.0" fill="#c81e5a"/><rect x="1217.7" y="658.3" width="2.0" height="2.0" fill="#e0205e"/><rect x="1217.5" y="657.8" width="1.3" height="1.3" fill="#d8206c"/><rect x="1200.8" y="687.9" width="1.6" height="1.6" fill="#e8307a"/><rect x="1165.8" y="643.3" width="1.3" height="1.3" fill="#e0205e"/><rect x="1170.3" y="648.3" width="2.0" height="2.0" fill="#b01e60"/><rect x="1166.8" y="646.3" width="2.0" height="2.0" fill="#d8206c"/><rect x="1231.0" y="660.5" width="2.0" height="2.0" fill="#a01f66"/><rect x="1221.5" y="678.9" width="1.0" height="1.0" fill="#c81e5a"/><rect x="1219.5" y="679.1" width="1.0" height="1.0" fill="#e8307a"/><rect x="1202.6" y="670.1" width="1.0" height="1.0" fill="#b01e60"/><rect x="1205.6" y="637.3" width="2.0" height="2.0" fill="#a01f66"/><rect x="1208.5" y="636.9" width="1.6" height="1.6" fill="#e0205e"/><rect x="1209.6" y="637.4" width="1.3" height="1.3" fill="#c81e5a"/><rect x="1209.2" y="636.8" width="1.0" height="1.0" fill="#d8206c"/><rect x="1208.7" y="638.0" width="1.6" height="1.6" fill="#b01e60"/><rect x="1202.9" y="645.1" width="1.0" height="1.0" fill="#b01e60"/><rect x="1203.0" y="641.6" width="1.6" height="1.6" fill="#d8206c"/><rect x="1193.5" y="633.1" width="1.3" height="1.3" fill="#e8307a"/><rect x="1202.6" y="690.4" width="1.3" height="1.3" fill="#d8206c"/><rect x="1201.6" y="688.2" width="2.0" height="2.0" fill="#e8307a"/><rect x="1201.4" y="689.6" width="1.6" height="1.6" fill="#e0205e"/><rect x="1182.6" y="665.7" width="1.6" height="1.6" fill="#b01e60"/><rect x="1182.9" y="662.2" width="1.0" height="1.0" fill="#e8307a"/><rect x="1185.1" y="662.4" width="2.0" height="2.0" fill="#e8307a"/><rect x="1184.5" y="660.9" width="1.3" height="1.3" fill="#b01e60"/><rect x="1226.5" y="643.0" width="1.3" height="1.3" fill="#d8206c"/><rect x="1227.2" y="642.6" width="1.6" height="1.6" fill="#b01e60"/><rect x="1226.7" y="641.0" width="1.6" height="1.6" fill="#c81e5a"/><rect x="1212.3" y="633.3" width="1.3" height="1.3" fill="#c81e5a"/><rect x="1208.9" y="632.1" width="1.3" height="1.3" fill="#c81e5a"/><rect x="1180.4" y="678.6" width="1.3" height="1.3" fill="#e8307a"/><rect x="1181.1" y="674.7" width="1.6" height="1.6" fill="#e0205e"/><rect x="1180.9" y="677.5" width="1.6" height="1.6" fill="#d8206c"/><rect x="1202.8" y="634.6" width="1.6" height="1.6" fill="#b01e60"/><rect x="1204.3" y="633.5" width="2.0" height="2.0" fill="#a01f66"/><rect x="1190.8" y="688.9" width="1.6" height="1.6" fill="#e8307a"/><rect x="1190.8" y="689.9" width="2.0" height="2.0" fill="#b01e60"/><rect x="1195.5" y="650.6" width="1.6" height="1.6" fill="#a01f66"/><rect x="1209.7" y="623.2" width="1.6" height="1.6" fill="#d8206c"/><rect x="1207.1" y="621.9" width="1.6" height="1.6" fill="#e0205e"/><rect x="1206.8" y="619.7" width="1.6" height="1.6" fill="#e0205e"/><rect x="1212.2" y="688.3" width="2.0" height="2.0" fill="#c81e5a"/><rect x="1213.4" y="670.5" width="1.0" height="1.0" fill="#d8206c"/><rect x="1214.3" y="674.2" width="1.3" height="1.3" fill="#b01e60"/><rect x="1214.4" y="675.7" width="1.6" height="1.6" fill="#b01e60"/><rect x="1220.5" y="667.9" width="1.3" height="1.3" fill="#a01f66"/><rect x="1235.4" y="650.0" width="1.0" height="1.0" fill="#c81e5a"/><rect x="1234.2" y="651.5" width="1.3" height="1.3" fill="#e0205e"/><rect x="1179.5" y="668.5" width="1.0" height="1.0" fill="#e8307a"/><rect x="1175.8" y="662.4" width="2.0" height="2.0" fill="#a01f66"/><rect x="1190.6" y="666.1" width="1.6" height="1.6" fill="#b01e60"/><rect x="1189.5" y="664.4" width="1.3" height="1.3" fill="#d8206c"/><rect x="1176.4" y="630.4" width="1.0" height="1.0" fill="#e8307a"/><rect x="1219.7" y="662.5" width="1.6" height="1.6" fill="#c81e5a"/><rect x="1215.2" y="628.5" width="1.3" height="1.3" fill="#e0205e"/><rect x="1214.0" y="631.7" width="1.3" height="1.3" fill="#d8206c"/><rect x="1225.4" y="672.5" width="1.6" height="1.6" fill="#d8206c"/><rect x="1222.6" y="671.7" width="2.0" height="2.0" fill="#c81e5a"/><rect x="1204.3" y="653.7" width="1.6" height="1.6" fill="#c81e5a"/><rect x="1206.3" y="653.0" width="1.3" height="1.3" fill="#d8206c"/><rect x="1203.5" y="652.0" width="1.6" height="1.6" fill="#b01e60"/><rect x="1172.3" y="652.2" width="1.0" height="1.0" fill="#e8307a"/><rect x="1175.4" y="654.0" width="1.3" height="1.3" fill="#b01e60"/><rect x="1171.8" y="653.4" width="2.0" height="2.0" fill="#e8307a"/><rect x="1186.3" y="643.2" width="2.0" height="2.0" fill="#c81e5a"/><rect x="1230.0" y="672.7" width="1.6" height="1.6" fill="#e8307a"/><rect x="1231.3" y="646.2" width="1.6" height="1.6" fill="#e8307a"/><rect x="1229.4" y="645.7" width="2.0" height="2.0" fill="#d8206c"/><rect x="1223.4" y="634.7" width="1.3" height="1.3" fill="#a01f66"/><rect x="1196.6" y="688.3" width="2.0" height="2.0" fill="#c81e5a"/><rect x="1168.4" y="654.2" width="1.3" height="1.3" fill="#d8206c"/><rect x="1166.9" y="653.2" width="1.3" height="1.3" fill="#c81e5a"/><rect x="1178.9" y="656.7" width="2.0" height="2.0" fill="#c81e5a"/><rect x="1183.1" y="656.5" width="1.0" height="1.0" fill="#d8206c"/><rect x="1188.6" y="674.3" width="2.0" height="2.0" fill="#d8206c"/><rect x="1204.3" y="683.1" width="1.3" height="1.3" fill="#a01f66"/><rect x="1228.4" y="644.8" width="1.6" height="1.6" fill="#b01e60"/><rect x="1179.6" y="672.8" width="1.6" height="1.6" fill="#c81e5a"/><rect x="1217.3" y="673.3" width="1.3" height="1.3" fill="#e8307a"/><rect x="1173.0" y="636.0" width="1.6" height="1.6" fill="#d8206c"/><rect x="1188.1" y="680.9" width="1.3" height="1.3" fill="#e0205e"/><rect x="1189.9" y="682.5" width="1.3" height="1.3" fill="#e0205e"/><rect x="1190.7" y="678.2" width="1.3" height="1.3" fill="#e0205e"/>
<ellipse cx="1036.7" cy="655.0" rx="38.5" ry="38.5" fill="#2d2780" stroke="#5551bb" stroke-width="0.9"/>
<ellipse cx="1036.7" cy="655.0" rx="37.7" ry="37.7" fill="#fff" filter="url(#nzm)"/>
<ellipse cx="1036.7" cy="655.0" rx="37.7" ry="37.7" fill="#fff" filter="url(#nzd)"/>
<ellipse cx="1036.7" cy="655.0" rx="37.7" ry="37.7" fill="#fff" filter="url(#nzl)"/>
</svg>
<svg x="1075" y="707.5" width="166.80" height="92.00" viewBox="1075 707.5 166.80 92.00" overflow="hidden">
<rect x="1075" y="707.5" width="166.80" height="92.00" fill="#000"/>
<ellipse cx="1115.7" cy="752.0" rx="38.5" ry="38.5" fill="#2d2780" stroke="#5551bb" stroke-width="0.9"/>
<ellipse cx="1115.7" cy="752.0" rx="37.7" ry="37.7" fill="#fff" filter="url(#nzm)"/>
<ellipse cx="1115.7" cy="752.0" rx="37.7" ry="37.7" fill="#fff" filter="url(#nzd)"/>
<ellipse cx="1115.7" cy="752.0" rx="37.7" ry="37.7" fill="#fff" filter="url(#nzl)"/>
<ellipse cx="1196.3" cy="752.6" rx="38.6" ry="38.5" fill="#2d2780" stroke="#5551bb" stroke-width="0.9"/>
<ellipse cx="1196.3" cy="752.6" rx="37.8" ry="37.7" fill="#fff" filter="url(#nzm)"/>
<ellipse cx="1196.3" cy="752.6" rx="37.8" ry="37.7" fill="#fff" filter="url(#nzd)"/>
<ellipse cx="1196.3" cy="752.6" rx="37.8" ry="37.7" fill="#fff" filter="url(#nzl)"/>
<ellipse cx="1278.5" cy="752.0" rx="38.5" ry="38.5" fill="#2d2780" stroke="#5551bb" stroke-width="0.9"/>
<ellipse cx="1278.5" cy="752.0" rx="37.7" ry="37.7" fill="#fff" filter="url(#nzm)"/>
<ellipse cx="1278.5" cy="752.0" rx="37.7" ry="37.7" fill="#fff" filter="url(#nzd)"/>
<ellipse cx="1278.5" cy="752.0" rx="37.7" ry="37.7" fill="#fff" filter="url(#nzl)"/>
</svg>
<text x="1246.70" y="668.90" font-size="27.2" text-anchor="start" fill="#0d0d0d" stroke="#0d0d0d" stroke-width="0.3" textLength="98.20" lengthAdjust="spacingAndGlyphs">+DMSO</text>
<text x="1243.20" y="764.10" font-size="27" text-anchor="start" fill="#0d0d0d" stroke="#0d0d0d" stroke-width="0.3" textLength="157.40" lengthAdjust="spacingAndGlyphs">+25 <tspan font-family="Liberation Serif, serif">μ</tspan>M #102</text>
</svg>
</body></html>
